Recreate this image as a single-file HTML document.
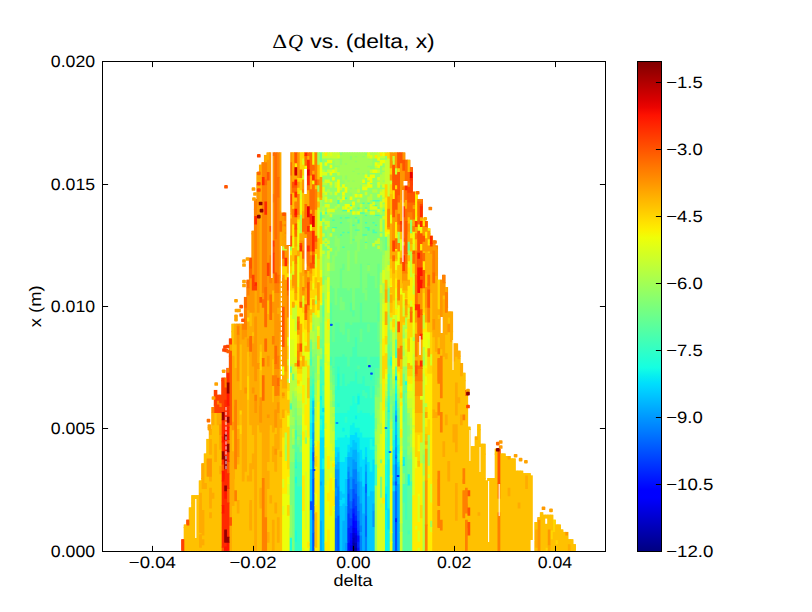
<!DOCTYPE html>
<html><head><meta charset="utf-8"><title>dQ vs (delta, x)</title>
<style>html,body{margin:0;padding:0;background:#fff;}svg{display:block;}</style></head>
<body>
<svg width="812" height="612" viewBox="0 0 812 612">
<rect width="812" height="612" fill="#fff"/>
<g shape-rendering="auto">
<rect x="181.18" y="539.26" width="3.56" height="11.54" fill="#ff4000"/>
<rect x="183.68" y="527.02" width="3.56" height="23.78" fill="#ffc100"/>
<rect x="183.68" y="524.57" width="3.56" height="3.50" fill="#ffc100"/>
<rect x="186.19" y="527.02" width="3.56" height="23.78" fill="#ffc100"/>
<rect x="186.19" y="519.67" width="3.56" height="8.40" fill="#ff5500"/>
<rect x="188.70" y="527.02" width="3.56" height="23.78" fill="#ffc100"/>
<rect x="188.70" y="507.43" width="3.56" height="20.64" fill="#ffc100"/>
<rect x="191.21" y="527.02" width="3.56" height="23.78" fill="#ffc100"/>
<rect x="191.21" y="502.54" width="3.56" height="25.53" fill="#ffc100"/>
<rect x="191.21" y="495.19" width="3.56" height="8.40" fill="#ffc100"/>
<rect x="193.72" y="527.02" width="3.56" height="23.78" fill="#ffc100"/>
<rect x="193.72" y="502.54" width="3.56" height="25.53" fill="#ffc100"/>
<rect x="193.72" y="495.19" width="3.56" height="8.40" fill="#ffc100"/>
<rect x="196.22" y="527.02" width="3.56" height="23.78" fill="#ffc100"/>
<rect x="196.22" y="502.54" width="3.56" height="25.53" fill="#ffc100"/>
<rect x="196.22" y="495.19" width="3.56" height="8.40" fill="#ffc100"/>
<rect x="198.73" y="527.02" width="3.56" height="23.78" fill="#ffab00"/>
<rect x="198.73" y="502.54" width="3.56" height="25.53" fill="#ffab00"/>
<rect x="198.73" y="480.51" width="3.56" height="23.08" fill="#ffc100"/>
<rect x="201.24" y="527.02" width="3.56" height="23.78" fill="#ffc100"/>
<rect x="201.24" y="502.54" width="3.56" height="25.53" fill="#ffab00"/>
<rect x="201.24" y="478.06" width="3.56" height="25.53" fill="#ffc100"/>
<rect x="201.24" y="463.37" width="3.56" height="15.74" fill="#ffab00"/>
<rect x="203.75" y="527.02" width="3.56" height="23.78" fill="#ffc100"/>
<rect x="203.75" y="502.54" width="3.56" height="25.53" fill="#ffc100"/>
<rect x="203.75" y="478.06" width="3.56" height="25.53" fill="#ffc100"/>
<rect x="203.75" y="453.58" width="3.56" height="25.53" fill="#ffc100"/>
<rect x="206.26" y="527.02" width="3.56" height="23.78" fill="#ffc100"/>
<rect x="206.26" y="502.54" width="3.56" height="25.53" fill="#ffc100"/>
<rect x="206.26" y="478.06" width="3.56" height="25.53" fill="#ffc100"/>
<rect x="206.26" y="453.58" width="3.56" height="25.53" fill="#ff9600"/>
<rect x="206.26" y="438.89" width="3.56" height="15.74" fill="#ffc100"/>
<rect x="208.76" y="527.02" width="3.56" height="23.78" fill="#ffc100"/>
<rect x="208.76" y="502.54" width="3.56" height="25.53" fill="#ffc100"/>
<rect x="208.76" y="478.06" width="3.56" height="25.53" fill="#ffab00"/>
<rect x="208.76" y="453.58" width="3.56" height="25.53" fill="#ff9600"/>
<rect x="208.76" y="429.10" width="3.56" height="25.53" fill="#ffab00"/>
<rect x="211.27" y="527.02" width="3.56" height="23.78" fill="#ffc100"/>
<rect x="211.27" y="502.54" width="3.56" height="25.53" fill="#ffc100"/>
<rect x="211.27" y="478.06" width="3.56" height="25.53" fill="#ffc100"/>
<rect x="211.27" y="453.58" width="3.56" height="25.53" fill="#ffc100"/>
<rect x="211.27" y="429.10" width="3.56" height="25.53" fill="#ffc100"/>
<rect x="211.27" y="407.07" width="3.56" height="23.08" fill="#ffab00"/>
<rect x="213.78" y="527.02" width="3.56" height="23.78" fill="#ffc100"/>
<rect x="213.78" y="502.54" width="3.56" height="25.53" fill="#ffc100"/>
<rect x="213.78" y="478.06" width="3.56" height="25.53" fill="#ffc100"/>
<rect x="213.78" y="453.58" width="3.56" height="25.53" fill="#ffc100"/>
<rect x="213.78" y="429.10" width="3.56" height="25.53" fill="#ffc100"/>
<rect x="213.78" y="404.62" width="3.56" height="25.53" fill="#ffc100"/>
<rect x="213.78" y="389.93" width="3.56" height="15.74" fill="#ff4000"/>
<rect x="216.29" y="527.02" width="3.56" height="23.78" fill="#ffc100"/>
<rect x="216.29" y="502.54" width="3.56" height="25.53" fill="#ffc100"/>
<rect x="216.29" y="478.06" width="3.56" height="25.53" fill="#ffc100"/>
<rect x="216.29" y="453.58" width="3.56" height="25.53" fill="#ffc100"/>
<rect x="216.29" y="429.10" width="3.56" height="25.53" fill="#ffc100"/>
<rect x="216.29" y="404.62" width="3.56" height="25.53" fill="#ffab00"/>
<rect x="216.29" y="394.83" width="3.56" height="10.84" fill="#ff6b00"/>
<rect x="218.80" y="527.02" width="3.56" height="23.78" fill="#ffc100"/>
<rect x="218.80" y="502.54" width="3.56" height="25.53" fill="#ffc100"/>
<rect x="218.80" y="478.06" width="3.56" height="25.53" fill="#ffc100"/>
<rect x="218.80" y="453.58" width="3.56" height="25.53" fill="#ffc100"/>
<rect x="218.80" y="429.10" width="3.56" height="25.53" fill="#ffab00"/>
<rect x="218.80" y="404.62" width="3.56" height="25.53" fill="#ffab00"/>
<rect x="218.80" y="394.83" width="3.56" height="10.84" fill="#ff4000"/>
<rect x="221.30" y="527.02" width="3.56" height="23.78" fill="#ff2a00"/>
<rect x="221.30" y="502.54" width="3.56" height="25.53" fill="#ff2a00"/>
<rect x="221.30" y="478.06" width="3.56" height="25.53" fill="#ff2a00"/>
<rect x="221.30" y="453.58" width="3.56" height="25.53" fill="#ff2a00"/>
<rect x="221.30" y="429.10" width="3.56" height="25.53" fill="#ff2a00"/>
<rect x="221.30" y="404.62" width="3.56" height="25.53" fill="#ff2a00"/>
<rect x="221.30" y="380.14" width="3.56" height="25.53" fill="#ff4000"/>
<rect x="221.30" y="377.69" width="3.56" height="3.50" fill="#ff4000"/>
<rect x="223.81" y="527.02" width="3.56" height="23.78" fill="#cd0000"/>
<rect x="223.81" y="502.54" width="3.56" height="25.53" fill="#ff2a00"/>
<rect x="223.81" y="478.06" width="3.56" height="25.53" fill="#ff2a00"/>
<rect x="223.81" y="453.58" width="3.56" height="25.53" fill="#e70000"/>
<rect x="223.81" y="429.10" width="3.56" height="25.53" fill="#ff1500"/>
<rect x="223.81" y="404.62" width="3.56" height="25.53" fill="#ff2a00"/>
<rect x="223.81" y="380.14" width="3.56" height="25.53" fill="#ff4000"/>
<rect x="223.81" y="377.69" width="3.56" height="3.50" fill="#ff8000"/>
<rect x="226.32" y="527.02" width="3.56" height="23.78" fill="#ff1500"/>
<rect x="226.32" y="502.54" width="3.56" height="25.53" fill="#ff2a00"/>
<rect x="226.32" y="478.06" width="3.56" height="25.53" fill="#ff5500"/>
<rect x="226.32" y="453.58" width="3.56" height="25.53" fill="#ff4000"/>
<rect x="226.32" y="429.10" width="3.56" height="25.53" fill="#ff1500"/>
<rect x="226.32" y="404.62" width="3.56" height="25.53" fill="#ff2a00"/>
<rect x="226.32" y="380.14" width="3.56" height="25.53" fill="#ff1500"/>
<rect x="226.32" y="367.90" width="3.56" height="13.29" fill="#ff2a00"/>
<rect x="228.83" y="527.02" width="3.56" height="23.78" fill="#ffab00"/>
<rect x="228.83" y="502.54" width="3.56" height="25.53" fill="#ffab00"/>
<rect x="228.83" y="478.06" width="3.56" height="25.53" fill="#ffab00"/>
<rect x="228.83" y="453.58" width="3.56" height="25.53" fill="#ffab00"/>
<rect x="228.83" y="429.10" width="3.56" height="25.53" fill="#ffab00"/>
<rect x="228.83" y="404.62" width="3.56" height="25.53" fill="#ff5500"/>
<rect x="228.83" y="380.14" width="3.56" height="25.53" fill="#ff5500"/>
<rect x="228.83" y="355.66" width="3.56" height="25.53" fill="#ff5500"/>
<rect x="228.83" y="338.52" width="3.56" height="18.19" fill="#ff5500"/>
<rect x="231.34" y="527.02" width="3.56" height="23.78" fill="#ffc100"/>
<rect x="231.34" y="502.54" width="3.56" height="25.53" fill="#ffc100"/>
<rect x="231.34" y="478.06" width="3.56" height="25.53" fill="#ffab00"/>
<rect x="231.34" y="453.58" width="3.56" height="25.53" fill="#ffab00"/>
<rect x="231.34" y="429.10" width="3.56" height="25.53" fill="#ffc100"/>
<rect x="231.34" y="404.62" width="3.56" height="25.53" fill="#ffab00"/>
<rect x="231.34" y="380.14" width="3.56" height="25.53" fill="#ffab00"/>
<rect x="231.34" y="355.66" width="3.56" height="25.53" fill="#ffab00"/>
<rect x="231.34" y="331.18" width="3.56" height="25.53" fill="#ffc100"/>
<rect x="231.34" y="323.83" width="3.56" height="8.40" fill="#ffc100"/>
<rect x="233.84" y="527.02" width="3.56" height="23.78" fill="#ffc100"/>
<rect x="233.84" y="502.54" width="3.56" height="25.53" fill="#ffc100"/>
<rect x="233.84" y="478.06" width="3.56" height="25.53" fill="#ffc100"/>
<rect x="233.84" y="453.58" width="3.56" height="25.53" fill="#ff8000"/>
<rect x="233.84" y="429.10" width="3.56" height="25.53" fill="#ff8000"/>
<rect x="233.84" y="404.62" width="3.56" height="25.53" fill="#ff8000"/>
<rect x="233.84" y="380.14" width="3.56" height="25.53" fill="#ffab00"/>
<rect x="233.84" y="355.66" width="3.56" height="25.53" fill="#ffab00"/>
<rect x="233.84" y="331.18" width="3.56" height="25.53" fill="#ffab00"/>
<rect x="233.84" y="323.83" width="3.56" height="8.40" fill="#ffab00"/>
<rect x="236.35" y="527.02" width="3.56" height="23.78" fill="#ffc100"/>
<rect x="236.35" y="502.54" width="3.56" height="25.53" fill="#ffc100"/>
<rect x="236.35" y="478.06" width="3.56" height="25.53" fill="#ffc100"/>
<rect x="236.35" y="453.58" width="3.56" height="25.53" fill="#ffc100"/>
<rect x="236.35" y="429.10" width="3.56" height="25.53" fill="#ff9600"/>
<rect x="236.35" y="404.62" width="3.56" height="25.53" fill="#ffab00"/>
<rect x="236.35" y="380.14" width="3.56" height="25.53" fill="#ffab00"/>
<rect x="236.35" y="355.66" width="3.56" height="25.53" fill="#ff9600"/>
<rect x="236.35" y="331.18" width="3.56" height="25.53" fill="#ff9600"/>
<rect x="236.35" y="323.83" width="3.56" height="8.40" fill="#ff8000"/>
<rect x="238.86" y="527.02" width="3.56" height="23.78" fill="#ffc100"/>
<rect x="238.86" y="502.54" width="3.56" height="25.53" fill="#ffc100"/>
<rect x="238.86" y="478.06" width="3.56" height="25.53" fill="#ffc100"/>
<rect x="238.86" y="453.58" width="3.56" height="25.53" fill="#ffc100"/>
<rect x="238.86" y="429.10" width="3.56" height="25.53" fill="#ffc100"/>
<rect x="238.86" y="404.62" width="3.56" height="25.53" fill="#ffc100"/>
<rect x="238.86" y="380.14" width="3.56" height="25.53" fill="#ffab00"/>
<rect x="238.86" y="355.66" width="3.56" height="25.53" fill="#ffc100"/>
<rect x="238.86" y="331.18" width="3.56" height="25.53" fill="#ffab00"/>
<rect x="238.86" y="323.83" width="3.56" height="8.40" fill="#ffab00"/>
<rect x="241.37" y="527.02" width="3.56" height="23.78" fill="#ffc100"/>
<rect x="241.37" y="502.54" width="3.56" height="25.53" fill="#ffc100"/>
<rect x="241.37" y="478.06" width="3.56" height="25.53" fill="#ffc100"/>
<rect x="241.37" y="453.58" width="3.56" height="25.53" fill="#ffab00"/>
<rect x="241.37" y="429.10" width="3.56" height="25.53" fill="#ffab00"/>
<rect x="241.37" y="404.62" width="3.56" height="25.53" fill="#ffab00"/>
<rect x="241.37" y="380.14" width="3.56" height="25.53" fill="#ffab00"/>
<rect x="241.37" y="355.66" width="3.56" height="25.53" fill="#ffab00"/>
<rect x="241.37" y="331.18" width="3.56" height="25.53" fill="#ffab00"/>
<rect x="241.37" y="323.83" width="3.56" height="8.40" fill="#ff8000"/>
<rect x="243.88" y="527.02" width="3.56" height="23.78" fill="#ffc100"/>
<rect x="243.88" y="502.54" width="3.56" height="25.53" fill="#ffc100"/>
<rect x="243.88" y="478.06" width="3.56" height="25.53" fill="#ffc100"/>
<rect x="243.88" y="453.58" width="3.56" height="25.53" fill="#ffab00"/>
<rect x="243.88" y="429.10" width="3.56" height="25.53" fill="#ffab00"/>
<rect x="243.88" y="404.62" width="3.56" height="25.53" fill="#ffab00"/>
<rect x="243.88" y="380.14" width="3.56" height="25.53" fill="#ffab00"/>
<rect x="243.88" y="355.66" width="3.56" height="25.53" fill="#ffab00"/>
<rect x="243.88" y="331.18" width="3.56" height="25.53" fill="#ffab00"/>
<rect x="243.88" y="306.70" width="3.56" height="25.53" fill="#ff8000"/>
<rect x="243.88" y="296.91" width="3.56" height="10.84" fill="#ff6b00"/>
<rect x="246.38" y="527.02" width="3.56" height="23.78" fill="#ffc100"/>
<rect x="246.38" y="502.54" width="3.56" height="25.53" fill="#ffc100"/>
<rect x="246.38" y="478.06" width="3.56" height="25.53" fill="#ffc100"/>
<rect x="246.38" y="453.58" width="3.56" height="25.53" fill="#ffc100"/>
<rect x="246.38" y="429.10" width="3.56" height="25.53" fill="#ffc100"/>
<rect x="246.38" y="404.62" width="3.56" height="25.53" fill="#ffc100"/>
<rect x="246.38" y="380.14" width="3.56" height="25.53" fill="#ffd600"/>
<rect x="246.38" y="355.66" width="3.56" height="25.53" fill="#ffc100"/>
<rect x="246.38" y="331.18" width="3.56" height="25.53" fill="#ffab00"/>
<rect x="246.38" y="306.70" width="3.56" height="25.53" fill="#ffab00"/>
<rect x="246.38" y="282.22" width="3.56" height="25.53" fill="#ff8000"/>
<rect x="246.38" y="279.77" width="3.56" height="3.50" fill="#ff6b00"/>
<rect x="248.89" y="527.02" width="3.56" height="23.78" fill="#ffc100"/>
<rect x="248.89" y="502.54" width="3.56" height="25.53" fill="#ffab00"/>
<rect x="248.89" y="478.06" width="3.56" height="25.53" fill="#ffc100"/>
<rect x="248.89" y="453.58" width="3.56" height="25.53" fill="#ffab00"/>
<rect x="248.89" y="429.10" width="3.56" height="25.53" fill="#ffc100"/>
<rect x="248.89" y="404.62" width="3.56" height="25.53" fill="#ffab00"/>
<rect x="248.89" y="380.14" width="3.56" height="25.53" fill="#ffab00"/>
<rect x="248.89" y="355.66" width="3.56" height="25.53" fill="#ffab00"/>
<rect x="248.89" y="331.18" width="3.56" height="25.53" fill="#ff6b00"/>
<rect x="248.89" y="306.70" width="3.56" height="25.53" fill="#ffc100"/>
<rect x="248.89" y="282.22" width="3.56" height="25.53" fill="#ff9600"/>
<rect x="248.89" y="257.74" width="3.56" height="25.53" fill="#ff6b00"/>
<rect x="251.40" y="527.02" width="3.56" height="23.78" fill="#ffc100"/>
<rect x="251.40" y="502.54" width="3.56" height="25.53" fill="#ffc100"/>
<rect x="251.40" y="478.06" width="3.56" height="25.53" fill="#ffc100"/>
<rect x="251.40" y="453.58" width="3.56" height="25.53" fill="#ffab00"/>
<rect x="251.40" y="429.10" width="3.56" height="25.53" fill="#ffc100"/>
<rect x="251.40" y="404.62" width="3.56" height="25.53" fill="#ffab00"/>
<rect x="251.40" y="380.14" width="3.56" height="25.53" fill="#ffab00"/>
<rect x="251.40" y="355.66" width="3.56" height="25.53" fill="#ffab00"/>
<rect x="251.40" y="331.18" width="3.56" height="25.53" fill="#ff9600"/>
<rect x="251.40" y="306.70" width="3.56" height="25.53" fill="#ffab00"/>
<rect x="251.40" y="282.22" width="3.56" height="25.53" fill="#ff9600"/>
<rect x="251.40" y="257.74" width="3.56" height="25.53" fill="#ff9600"/>
<rect x="251.40" y="233.26" width="3.56" height="25.53" fill="#ff9600"/>
<rect x="251.40" y="230.81" width="3.56" height="3.50" fill="#ff9600"/>
<rect x="253.91" y="527.02" width="3.56" height="23.78" fill="#ffab00"/>
<rect x="253.91" y="502.54" width="3.56" height="25.53" fill="#ffab00"/>
<rect x="253.91" y="478.06" width="3.56" height="25.53" fill="#ffab00"/>
<rect x="253.91" y="453.58" width="3.56" height="25.53" fill="#ffab00"/>
<rect x="253.91" y="429.10" width="3.56" height="25.53" fill="#ffab00"/>
<rect x="253.91" y="404.62" width="3.56" height="25.53" fill="#ffab00"/>
<rect x="253.91" y="380.14" width="3.56" height="25.53" fill="#ffab00"/>
<rect x="253.91" y="355.66" width="3.56" height="25.53" fill="#ff9600"/>
<rect x="253.91" y="331.18" width="3.56" height="25.53" fill="#ff9600"/>
<rect x="253.91" y="306.70" width="3.56" height="25.53" fill="#ff9600"/>
<rect x="253.91" y="282.22" width="3.56" height="25.53" fill="#ffab00"/>
<rect x="253.91" y="257.74" width="3.56" height="25.53" fill="#ff8000"/>
<rect x="253.91" y="233.26" width="3.56" height="25.53" fill="#ff8000"/>
<rect x="253.91" y="208.78" width="3.56" height="25.53" fill="#ff8000"/>
<rect x="253.91" y="198.99" width="3.56" height="10.84" fill="#ff8000"/>
<rect x="256.42" y="527.02" width="3.56" height="23.78" fill="#ffc100"/>
<rect x="256.42" y="502.54" width="3.56" height="25.53" fill="#ffc100"/>
<rect x="256.42" y="478.06" width="3.56" height="25.53" fill="#ffc100"/>
<rect x="256.42" y="453.58" width="3.56" height="25.53" fill="#ffc100"/>
<rect x="256.42" y="429.10" width="3.56" height="25.53" fill="#ffc100"/>
<rect x="256.42" y="404.62" width="3.56" height="25.53" fill="#ffab00"/>
<rect x="256.42" y="380.14" width="3.56" height="25.53" fill="#ffab00"/>
<rect x="256.42" y="355.66" width="3.56" height="25.53" fill="#ffab00"/>
<rect x="256.42" y="331.18" width="3.56" height="25.53" fill="#ffab00"/>
<rect x="256.42" y="306.70" width="3.56" height="25.53" fill="#ffab00"/>
<rect x="256.42" y="282.22" width="3.56" height="25.53" fill="#ff9600"/>
<rect x="256.42" y="257.74" width="3.56" height="25.53" fill="#ff9600"/>
<rect x="256.42" y="233.26" width="3.56" height="25.53" fill="#ff9600"/>
<rect x="256.42" y="208.78" width="3.56" height="25.53" fill="#ff9600"/>
<rect x="256.42" y="184.30" width="3.56" height="25.53" fill="#ff9600"/>
<rect x="256.42" y="172.06" width="3.56" height="13.29" fill="#ffab00"/>
<rect x="258.92" y="527.02" width="3.56" height="23.78" fill="#ffc100"/>
<rect x="258.92" y="502.54" width="3.56" height="25.53" fill="#ffc100"/>
<rect x="258.92" y="478.06" width="3.56" height="25.53" fill="#ffab00"/>
<rect x="258.92" y="453.58" width="3.56" height="25.53" fill="#ffc100"/>
<rect x="258.92" y="429.10" width="3.56" height="25.53" fill="#ffc100"/>
<rect x="258.92" y="404.62" width="3.56" height="25.53" fill="#ff9600"/>
<rect x="258.92" y="380.14" width="3.56" height="25.53" fill="#ffc100"/>
<rect x="258.92" y="355.66" width="3.56" height="25.53" fill="#ffd600"/>
<rect x="258.92" y="331.18" width="3.56" height="25.53" fill="#ffab00"/>
<rect x="258.92" y="306.70" width="3.56" height="25.53" fill="#ffab00"/>
<rect x="258.92" y="282.22" width="3.56" height="25.53" fill="#ffab00"/>
<rect x="258.92" y="257.74" width="3.56" height="25.53" fill="#ffab00"/>
<rect x="258.92" y="233.26" width="3.56" height="25.53" fill="#ffab00"/>
<rect x="258.92" y="208.78" width="3.56" height="25.53" fill="#ffab00"/>
<rect x="258.92" y="184.30" width="3.56" height="25.53" fill="#ffab00"/>
<rect x="258.92" y="164.71" width="3.56" height="20.64" fill="#ffab00"/>
<rect x="261.43" y="527.02" width="3.56" height="23.78" fill="#ff8000"/>
<rect x="261.43" y="502.54" width="3.56" height="25.53" fill="#ff8000"/>
<rect x="261.43" y="478.06" width="3.56" height="25.53" fill="#ff8000"/>
<rect x="261.43" y="453.58" width="3.56" height="25.53" fill="#ffab00"/>
<rect x="261.43" y="429.10" width="3.56" height="25.53" fill="#ffab00"/>
<rect x="261.43" y="404.62" width="3.56" height="25.53" fill="#ffab00"/>
<rect x="261.43" y="380.14" width="3.56" height="25.53" fill="#ff6b00"/>
<rect x="261.43" y="355.66" width="3.56" height="25.53" fill="#ff8000"/>
<rect x="261.43" y="331.18" width="3.56" height="25.53" fill="#ffab00"/>
<rect x="261.43" y="306.70" width="3.56" height="25.53" fill="#ffab00"/>
<rect x="261.43" y="282.22" width="3.56" height="25.53" fill="#ff8000"/>
<rect x="261.43" y="257.74" width="3.56" height="25.53" fill="#ff8000"/>
<rect x="261.43" y="233.26" width="3.56" height="25.53" fill="#ff8000"/>
<rect x="261.43" y="208.78" width="3.56" height="25.53" fill="#ff8000"/>
<rect x="261.43" y="184.30" width="3.56" height="25.53" fill="#ff8000"/>
<rect x="261.43" y="162.27" width="3.56" height="23.08" fill="#ff8000"/>
<rect x="263.94" y="527.02" width="3.56" height="23.78" fill="#ff8000"/>
<rect x="263.94" y="502.54" width="3.56" height="25.53" fill="#ffab00"/>
<rect x="263.94" y="478.06" width="3.56" height="25.53" fill="#ffab00"/>
<rect x="263.94" y="453.58" width="3.56" height="25.53" fill="#ffab00"/>
<rect x="263.94" y="429.10" width="3.56" height="25.53" fill="#ffab00"/>
<rect x="263.94" y="404.62" width="3.56" height="25.53" fill="#ffab00"/>
<rect x="263.94" y="380.14" width="3.56" height="25.53" fill="#ffab00"/>
<rect x="263.94" y="355.66" width="3.56" height="25.53" fill="#ffab00"/>
<rect x="263.94" y="331.18" width="3.56" height="25.53" fill="#ff8000"/>
<rect x="263.94" y="306.70" width="3.56" height="25.53" fill="#ff6b00"/>
<rect x="263.94" y="282.22" width="3.56" height="25.53" fill="#ff6b00"/>
<rect x="263.94" y="257.74" width="3.56" height="25.53" fill="#ff8000"/>
<rect x="263.94" y="233.26" width="3.56" height="25.53" fill="#ff8000"/>
<rect x="263.94" y="208.78" width="3.56" height="25.53" fill="#ff8000"/>
<rect x="263.94" y="184.30" width="3.56" height="25.53" fill="#ff8000"/>
<rect x="263.94" y="159.82" width="3.56" height="25.53" fill="#ff8000"/>
<rect x="263.94" y="154.92" width="3.56" height="5.95" fill="#ffab00"/>
<rect x="266.45" y="527.02" width="3.56" height="23.78" fill="#ffc100"/>
<rect x="266.45" y="502.54" width="3.56" height="25.53" fill="#ffc100"/>
<rect x="266.45" y="478.06" width="3.56" height="25.53" fill="#ffc100"/>
<rect x="266.45" y="453.58" width="3.56" height="25.53" fill="#ffab00"/>
<rect x="266.45" y="429.10" width="3.56" height="25.53" fill="#ffab00"/>
<rect x="266.45" y="404.62" width="3.56" height="25.53" fill="#ffab00"/>
<rect x="266.45" y="380.14" width="3.56" height="25.53" fill="#ffab00"/>
<rect x="266.45" y="355.66" width="3.56" height="25.53" fill="#ffab00"/>
<rect x="266.45" y="331.18" width="3.56" height="25.53" fill="#ffab00"/>
<rect x="266.45" y="306.70" width="3.56" height="25.53" fill="#ffab00"/>
<rect x="266.45" y="282.22" width="3.56" height="25.53" fill="#ff9600"/>
<rect x="266.45" y="257.74" width="3.56" height="25.53" fill="#ff6b00"/>
<rect x="266.45" y="233.26" width="3.56" height="25.53" fill="#ff9600"/>
<rect x="266.45" y="208.78" width="3.56" height="25.53" fill="#ff9600"/>
<rect x="266.45" y="184.30" width="3.56" height="25.53" fill="#ff9600"/>
<rect x="266.45" y="159.82" width="3.56" height="25.53" fill="#ff9600"/>
<rect x="266.45" y="152.47" width="3.56" height="8.40" fill="#ffab00"/>
<rect x="268.96" y="527.02" width="3.56" height="23.78" fill="#ffc100"/>
<rect x="268.96" y="502.54" width="3.56" height="25.53" fill="#ffc100"/>
<rect x="268.96" y="478.06" width="3.56" height="25.53" fill="#ffc100"/>
<rect x="268.96" y="453.58" width="3.56" height="25.53" fill="#ffc100"/>
<rect x="268.96" y="429.10" width="3.56" height="25.53" fill="#ffc100"/>
<rect x="268.96" y="404.62" width="3.56" height="25.53" fill="#ffab00"/>
<rect x="268.96" y="380.14" width="3.56" height="25.53" fill="#ffab00"/>
<rect x="268.96" y="355.66" width="3.56" height="25.53" fill="#ffab00"/>
<rect x="268.96" y="331.18" width="3.56" height="25.53" fill="#ffab00"/>
<rect x="268.96" y="306.70" width="3.56" height="25.53" fill="#ff8000"/>
<rect x="268.96" y="282.22" width="3.56" height="25.53" fill="#ff8000"/>
<rect x="268.96" y="257.74" width="3.56" height="25.53" fill="#ff8000"/>
<rect x="268.96" y="233.26" width="3.56" height="25.53" fill="#ff9600"/>
<rect x="268.96" y="208.78" width="3.56" height="25.53" fill="#ff9600"/>
<rect x="268.96" y="184.30" width="3.56" height="25.53" fill="#ff9600"/>
<rect x="268.96" y="159.82" width="3.56" height="25.53" fill="#ff9600"/>
<rect x="268.96" y="152.47" width="3.56" height="8.40" fill="#ff9600"/>
<rect x="271.46" y="527.02" width="3.56" height="23.78" fill="#ffab00"/>
<rect x="271.46" y="502.54" width="3.56" height="25.53" fill="#ffc100"/>
<rect x="271.46" y="478.06" width="3.56" height="25.53" fill="#ffc100"/>
<rect x="271.46" y="453.58" width="3.56" height="25.53" fill="#ffc100"/>
<rect x="271.46" y="429.10" width="3.56" height="25.53" fill="#ffc100"/>
<rect x="271.46" y="404.62" width="3.56" height="25.53" fill="#ffab00"/>
<rect x="271.46" y="380.14" width="3.56" height="25.53" fill="#ffc100"/>
<rect x="271.46" y="355.66" width="3.56" height="25.53" fill="#ffc100"/>
<rect x="271.46" y="331.18" width="3.56" height="25.53" fill="#ffab00"/>
<rect x="271.46" y="306.70" width="3.56" height="25.53" fill="#ffab00"/>
<rect x="271.46" y="282.22" width="3.56" height="25.53" fill="#ffab00"/>
<rect x="271.46" y="257.74" width="3.56" height="25.53" fill="#ff4000"/>
<rect x="271.46" y="233.26" width="3.56" height="25.53" fill="#ff5500"/>
<rect x="271.46" y="208.78" width="3.56" height="25.53" fill="#ff9600"/>
<rect x="271.46" y="184.30" width="3.56" height="25.53" fill="#ff9600"/>
<rect x="271.46" y="159.82" width="3.56" height="25.53" fill="#ff9600"/>
<rect x="271.46" y="152.47" width="3.56" height="8.40" fill="#ff9600"/>
<rect x="273.97" y="527.02" width="3.56" height="23.78" fill="#ffc100"/>
<rect x="273.97" y="502.54" width="3.56" height="25.53" fill="#ffc100"/>
<rect x="273.97" y="478.06" width="3.56" height="25.53" fill="#ffc100"/>
<rect x="273.97" y="453.58" width="3.56" height="25.53" fill="#ffab00"/>
<rect x="273.97" y="429.10" width="3.56" height="25.53" fill="#ffab00"/>
<rect x="273.97" y="404.62" width="3.56" height="25.53" fill="#ff9600"/>
<rect x="273.97" y="380.14" width="3.56" height="25.53" fill="#ff8000"/>
<rect x="273.97" y="355.66" width="3.56" height="25.53" fill="#ff8000"/>
<rect x="273.97" y="331.18" width="3.56" height="25.53" fill="#ff9600"/>
<rect x="273.97" y="306.70" width="3.56" height="25.53" fill="#ff9600"/>
<rect x="273.97" y="282.22" width="3.56" height="25.53" fill="#ff9600"/>
<rect x="273.97" y="257.74" width="3.56" height="25.53" fill="#ff8000"/>
<rect x="273.97" y="233.26" width="3.56" height="25.53" fill="#ff8000"/>
<rect x="273.97" y="208.78" width="3.56" height="25.53" fill="#ff6b00"/>
<rect x="273.97" y="184.30" width="3.56" height="25.53" fill="#ff6b00"/>
<rect x="273.97" y="159.82" width="3.56" height="25.53" fill="#ff6b00"/>
<rect x="273.97" y="152.47" width="3.56" height="8.40" fill="#ff6b00"/>
<rect x="276.48" y="527.02" width="3.56" height="23.78" fill="#ffab00"/>
<rect x="276.48" y="502.54" width="3.56" height="25.53" fill="#ffc100"/>
<rect x="276.48" y="478.06" width="3.56" height="25.53" fill="#ffc100"/>
<rect x="276.48" y="453.58" width="3.56" height="25.53" fill="#ffc100"/>
<rect x="276.48" y="429.10" width="3.56" height="25.53" fill="#ffab00"/>
<rect x="276.48" y="404.62" width="3.56" height="25.53" fill="#ffab00"/>
<rect x="276.48" y="380.14" width="3.56" height="25.53" fill="#ff8000"/>
<rect x="276.48" y="355.66" width="3.56" height="25.53" fill="#ff8000"/>
<rect x="276.48" y="331.18" width="3.56" height="25.53" fill="#ff9600"/>
<rect x="276.48" y="306.70" width="3.56" height="25.53" fill="#ff9600"/>
<rect x="276.48" y="282.22" width="3.56" height="25.53" fill="#ff9600"/>
<rect x="276.48" y="257.74" width="3.56" height="25.53" fill="#ff8000"/>
<rect x="276.48" y="233.26" width="3.56" height="25.53" fill="#ff8000"/>
<rect x="276.48" y="208.78" width="3.56" height="25.53" fill="#ff8000"/>
<rect x="276.48" y="184.30" width="3.56" height="25.53" fill="#ff6b00"/>
<rect x="276.48" y="159.82" width="3.56" height="25.53" fill="#ff8000"/>
<rect x="276.48" y="152.47" width="3.56" height="8.40" fill="#ff8000"/>
<rect x="278.99" y="527.02" width="3.56" height="23.78" fill="#ffc100"/>
<rect x="278.99" y="502.54" width="3.56" height="25.53" fill="#ffc100"/>
<rect x="278.99" y="478.06" width="3.56" height="25.53" fill="#ffc100"/>
<rect x="278.99" y="453.58" width="3.56" height="25.53" fill="#ffc100"/>
<rect x="278.99" y="429.10" width="3.56" height="25.53" fill="#ffc100"/>
<rect x="278.99" y="404.62" width="3.56" height="25.53" fill="#ffc100"/>
<rect x="278.99" y="380.14" width="3.56" height="25.53" fill="#ffc100"/>
<rect x="278.99" y="355.66" width="3.56" height="25.53" fill="#ffc100"/>
<rect x="278.99" y="331.18" width="3.56" height="25.53" fill="#ffab00"/>
<rect x="278.99" y="306.70" width="3.56" height="25.53" fill="#ffab00"/>
<rect x="278.99" y="282.22" width="3.56" height="25.53" fill="#ffab00"/>
<rect x="278.99" y="257.74" width="3.56" height="25.53" fill="#ffab00"/>
<rect x="278.99" y="233.26" width="3.56" height="25.53" fill="#ffab00"/>
<rect x="278.99" y="208.78" width="3.56" height="25.53" fill="#ff9600"/>
<rect x="278.99" y="184.30" width="3.56" height="25.53" fill="#ffab00"/>
<rect x="278.99" y="159.82" width="3.56" height="25.53" fill="#ffab00"/>
<rect x="278.99" y="152.47" width="3.56" height="8.40" fill="#ffab00"/>
<rect x="281.50" y="527.02" width="3.56" height="23.78" fill="#edff0a"/>
<rect x="281.50" y="502.54" width="3.56" height="25.53" fill="#edff0a"/>
<rect x="281.50" y="478.06" width="3.56" height="25.53" fill="#edff0a"/>
<rect x="281.50" y="453.58" width="3.56" height="25.53" fill="#ffec00"/>
<rect x="281.50" y="429.10" width="3.56" height="25.53" fill="#ffec00"/>
<rect x="281.50" y="404.62" width="3.56" height="25.53" fill="#ffd600"/>
<rect x="281.50" y="380.14" width="3.56" height="25.53" fill="#ffc100"/>
<rect x="281.50" y="355.66" width="3.56" height="25.53" fill="#ffab00"/>
<rect x="281.50" y="331.18" width="3.56" height="25.53" fill="#ff5500"/>
<rect x="281.50" y="306.70" width="3.56" height="25.53" fill="#ff5500"/>
<rect x="281.50" y="282.22" width="3.56" height="25.53" fill="#ff9600"/>
<rect x="281.50" y="257.74" width="3.56" height="25.53" fill="#ff9600"/>
<rect x="281.50" y="233.26" width="3.56" height="25.53" fill="#ffab00"/>
<rect x="281.50" y="208.78" width="3.56" height="25.53" fill="#ff9600"/>
<rect x="281.50" y="184.30" width="3.56" height="25.53" fill="#ffab00"/>
<rect x="281.50" y="159.82" width="3.56" height="25.53" fill="#ff8000"/>
<rect x="281.50" y="152.47" width="3.56" height="8.40" fill="#ffc100"/>
<rect x="284.00" y="527.02" width="3.56" height="23.78" fill="#edff0a"/>
<rect x="284.00" y="502.54" width="3.56" height="25.53" fill="#edff0a"/>
<rect x="284.00" y="478.06" width="3.56" height="25.53" fill="#ffec00"/>
<rect x="284.00" y="453.58" width="3.56" height="25.53" fill="#ffec00"/>
<rect x="284.00" y="429.10" width="3.56" height="25.53" fill="#b4ff42"/>
<rect x="284.00" y="404.62" width="3.56" height="25.53" fill="#ffd600"/>
<rect x="284.00" y="380.14" width="3.56" height="25.53" fill="#ffc100"/>
<rect x="284.00" y="355.66" width="3.56" height="25.53" fill="#ff9600"/>
<rect x="284.00" y="331.18" width="3.56" height="25.53" fill="#ff9600"/>
<rect x="284.00" y="306.70" width="3.56" height="25.53" fill="#ff9600"/>
<rect x="284.00" y="282.22" width="3.56" height="25.53" fill="#ff9600"/>
<rect x="284.00" y="257.74" width="3.56" height="25.53" fill="#ffd600"/>
<rect x="284.00" y="233.26" width="3.56" height="25.53" fill="#ff9600"/>
<rect x="284.00" y="208.78" width="3.56" height="25.53" fill="#ff8000"/>
<rect x="284.00" y="184.30" width="3.56" height="25.53" fill="#ff8000"/>
<rect x="284.00" y="159.82" width="3.56" height="25.53" fill="#ff9600"/>
<rect x="284.00" y="152.47" width="3.56" height="8.40" fill="#ff9600"/>
<rect x="286.51" y="527.02" width="3.56" height="23.78" fill="#edff0a"/>
<rect x="286.51" y="502.54" width="3.56" height="25.53" fill="#edff0a"/>
<rect x="286.51" y="478.06" width="3.56" height="25.53" fill="#edff0a"/>
<rect x="286.51" y="453.58" width="3.56" height="25.53" fill="#ffd600"/>
<rect x="286.51" y="429.10" width="3.56" height="25.53" fill="#ffd600"/>
<rect x="286.51" y="404.62" width="3.56" height="25.53" fill="#ffec00"/>
<rect x="286.51" y="380.14" width="3.56" height="25.53" fill="#ffec00"/>
<rect x="286.51" y="355.66" width="3.56" height="25.53" fill="#ffd600"/>
<rect x="286.51" y="331.18" width="3.56" height="25.53" fill="#ffd600"/>
<rect x="286.51" y="306.70" width="3.56" height="25.53" fill="#ffc100"/>
<rect x="286.51" y="282.22" width="3.56" height="25.53" fill="#ff6b00"/>
<rect x="286.51" y="257.74" width="3.56" height="25.53" fill="#ffab00"/>
<rect x="286.51" y="233.26" width="3.56" height="25.53" fill="#ff9600"/>
<rect x="286.51" y="208.78" width="3.56" height="25.53" fill="#ff9600"/>
<rect x="286.51" y="184.30" width="3.56" height="25.53" fill="#ffc100"/>
<rect x="286.51" y="159.82" width="3.56" height="25.53" fill="#ffab00"/>
<rect x="286.51" y="152.47" width="3.56" height="8.40" fill="#ff9600"/>
<rect x="289.02" y="527.02" width="3.56" height="23.78" fill="#1effd8"/>
<rect x="289.02" y="502.54" width="3.56" height="25.53" fill="#8fff68"/>
<rect x="289.02" y="478.06" width="3.56" height="25.53" fill="#7cff7b"/>
<rect x="289.02" y="453.58" width="3.56" height="25.53" fill="#7cff7b"/>
<rect x="289.02" y="429.10" width="3.56" height="25.53" fill="#8fff68"/>
<rect x="289.02" y="404.62" width="3.56" height="25.53" fill="#a2ff55"/>
<rect x="289.02" y="380.14" width="3.56" height="25.53" fill="#b4ff42"/>
<rect x="289.02" y="355.66" width="3.56" height="25.53" fill="#c7ff30"/>
<rect x="289.02" y="331.18" width="3.56" height="25.53" fill="#daff1d"/>
<rect x="289.02" y="306.70" width="3.56" height="25.53" fill="#edff0a"/>
<rect x="289.02" y="282.22" width="3.56" height="25.53" fill="#ffec00"/>
<rect x="289.02" y="257.74" width="3.56" height="25.53" fill="#ffd600"/>
<rect x="289.02" y="233.26" width="3.56" height="25.53" fill="#ffab00"/>
<rect x="289.02" y="208.78" width="3.56" height="25.53" fill="#ff9600"/>
<rect x="289.02" y="184.30" width="3.56" height="25.53" fill="#ff9600"/>
<rect x="289.02" y="159.82" width="3.56" height="25.53" fill="#ff8000"/>
<rect x="289.02" y="152.47" width="3.56" height="8.40" fill="#ff9600"/>
<rect x="291.53" y="527.02" width="3.56" height="23.78" fill="#7cff7b"/>
<rect x="291.53" y="502.54" width="3.56" height="25.53" fill="#7cff7b"/>
<rect x="291.53" y="478.06" width="3.56" height="25.53" fill="#7cff7b"/>
<rect x="291.53" y="453.58" width="3.56" height="25.53" fill="#7cff7b"/>
<rect x="291.53" y="429.10" width="3.56" height="25.53" fill="#a2ff55"/>
<rect x="291.53" y="404.62" width="3.56" height="25.53" fill="#8fff68"/>
<rect x="291.53" y="380.14" width="3.56" height="25.53" fill="#8fff68"/>
<rect x="291.53" y="355.66" width="3.56" height="25.53" fill="#c7ff30"/>
<rect x="291.53" y="331.18" width="3.56" height="25.53" fill="#daff1d"/>
<rect x="291.53" y="306.70" width="3.56" height="25.53" fill="#daff1d"/>
<rect x="291.53" y="282.22" width="3.56" height="25.53" fill="#ffd600"/>
<rect x="291.53" y="257.74" width="3.56" height="25.53" fill="#edff0a"/>
<rect x="291.53" y="233.26" width="3.56" height="25.53" fill="#ffec00"/>
<rect x="291.53" y="208.78" width="3.56" height="25.53" fill="#ff9600"/>
<rect x="291.53" y="184.30" width="3.56" height="25.53" fill="#ffc100"/>
<rect x="291.53" y="159.82" width="3.56" height="25.53" fill="#ffab00"/>
<rect x="291.53" y="152.47" width="3.56" height="8.40" fill="#ffab00"/>
<rect x="294.04" y="527.02" width="3.56" height="23.78" fill="#1effd8"/>
<rect x="294.04" y="502.54" width="3.56" height="25.53" fill="#31ffc6"/>
<rect x="294.04" y="478.06" width="3.56" height="25.53" fill="#31ffc6"/>
<rect x="294.04" y="453.58" width="3.56" height="25.53" fill="#31ffc6"/>
<rect x="294.04" y="429.10" width="3.56" height="25.53" fill="#57ffa0"/>
<rect x="294.04" y="404.62" width="3.56" height="25.53" fill="#7cff7b"/>
<rect x="294.04" y="380.14" width="3.56" height="25.53" fill="#b4ff42"/>
<rect x="294.04" y="355.66" width="3.56" height="25.53" fill="#daff1d"/>
<rect x="294.04" y="331.18" width="3.56" height="25.53" fill="#edff0a"/>
<rect x="294.04" y="306.70" width="3.56" height="25.53" fill="#c7ff30"/>
<rect x="294.04" y="282.22" width="3.56" height="25.53" fill="#ffab00"/>
<rect x="294.04" y="257.74" width="3.56" height="25.53" fill="#ff9600"/>
<rect x="294.04" y="233.26" width="3.56" height="25.53" fill="#ffab00"/>
<rect x="294.04" y="208.78" width="3.56" height="25.53" fill="#ff6b00"/>
<rect x="294.04" y="184.30" width="3.56" height="25.53" fill="#ff6b00"/>
<rect x="294.04" y="159.82" width="3.56" height="25.53" fill="#ff4000"/>
<rect x="294.04" y="152.47" width="3.56" height="8.40" fill="#ff5500"/>
<rect x="296.54" y="527.02" width="3.56" height="23.78" fill="#31ffc6"/>
<rect x="296.54" y="502.54" width="3.56" height="25.53" fill="#31ffc6"/>
<rect x="296.54" y="478.06" width="3.56" height="25.53" fill="#31ffc6"/>
<rect x="296.54" y="453.58" width="3.56" height="25.53" fill="#44ffb3"/>
<rect x="296.54" y="429.10" width="3.56" height="25.53" fill="#7cff7b"/>
<rect x="296.54" y="404.62" width="3.56" height="25.53" fill="#8fff68"/>
<rect x="296.54" y="380.14" width="3.56" height="25.53" fill="#daff1d"/>
<rect x="296.54" y="355.66" width="3.56" height="25.53" fill="#ffc100"/>
<rect x="296.54" y="331.18" width="3.56" height="25.53" fill="#ff9600"/>
<rect x="296.54" y="306.70" width="3.56" height="25.53" fill="#ff8000"/>
<rect x="296.54" y="282.22" width="3.56" height="25.53" fill="#ffec00"/>
<rect x="296.54" y="257.74" width="3.56" height="25.53" fill="#edff0a"/>
<rect x="296.54" y="233.26" width="3.56" height="25.53" fill="#edff0a"/>
<rect x="296.54" y="208.78" width="3.56" height="25.53" fill="#ffec00"/>
<rect x="296.54" y="184.30" width="3.56" height="25.53" fill="#ff8000"/>
<rect x="296.54" y="159.82" width="3.56" height="25.53" fill="#ff9600"/>
<rect x="296.54" y="152.47" width="3.56" height="8.40" fill="#ff9600"/>
<rect x="299.05" y="527.02" width="3.56" height="23.78" fill="#31ffc6"/>
<rect x="299.05" y="502.54" width="3.56" height="25.53" fill="#31ffc6"/>
<rect x="299.05" y="478.06" width="3.56" height="25.53" fill="#31ffc6"/>
<rect x="299.05" y="453.58" width="3.56" height="25.53" fill="#44ffb3"/>
<rect x="299.05" y="429.10" width="3.56" height="25.53" fill="#69ff8d"/>
<rect x="299.05" y="404.62" width="3.56" height="25.53" fill="#8fff68"/>
<rect x="299.05" y="380.14" width="3.56" height="25.53" fill="#daff1d"/>
<rect x="299.05" y="355.66" width="3.56" height="25.53" fill="#ffd600"/>
<rect x="299.05" y="331.18" width="3.56" height="25.53" fill="#ffab00"/>
<rect x="299.05" y="306.70" width="3.56" height="25.53" fill="#ffec00"/>
<rect x="299.05" y="282.22" width="3.56" height="25.53" fill="#ffab00"/>
<rect x="299.05" y="257.74" width="3.56" height="25.53" fill="#ffd600"/>
<rect x="299.05" y="233.26" width="3.56" height="25.53" fill="#ffab00"/>
<rect x="299.05" y="208.78" width="3.56" height="25.53" fill="#b4ff42"/>
<rect x="299.05" y="184.30" width="3.56" height="25.53" fill="#edff0a"/>
<rect x="299.05" y="159.82" width="3.56" height="25.53" fill="#ffd600"/>
<rect x="299.05" y="152.47" width="3.56" height="8.40" fill="#ffd600"/>
<rect x="301.56" y="527.02" width="3.56" height="23.78" fill="#edff0a"/>
<rect x="301.56" y="502.54" width="3.56" height="25.53" fill="#edff0a"/>
<rect x="301.56" y="478.06" width="3.56" height="25.53" fill="#ffec00"/>
<rect x="301.56" y="453.58" width="3.56" height="25.53" fill="#edff0a"/>
<rect x="301.56" y="429.10" width="3.56" height="25.53" fill="#edff0a"/>
<rect x="301.56" y="404.62" width="3.56" height="25.53" fill="#edff0a"/>
<rect x="301.56" y="380.14" width="3.56" height="25.53" fill="#ffec00"/>
<rect x="301.56" y="355.66" width="3.56" height="25.53" fill="#daff1d"/>
<rect x="301.56" y="331.18" width="3.56" height="25.53" fill="#edff0a"/>
<rect x="301.56" y="306.70" width="3.56" height="25.53" fill="#ffec00"/>
<rect x="301.56" y="282.22" width="3.56" height="25.53" fill="#ffec00"/>
<rect x="301.56" y="257.74" width="3.56" height="25.53" fill="#ffab00"/>
<rect x="301.56" y="233.26" width="3.56" height="25.53" fill="#ff9600"/>
<rect x="301.56" y="208.78" width="3.56" height="25.53" fill="#ff9600"/>
<rect x="301.56" y="184.30" width="3.56" height="25.53" fill="#ffc100"/>
<rect x="301.56" y="159.82" width="3.56" height="25.53" fill="#ffd600"/>
<rect x="301.56" y="152.47" width="3.56" height="8.40" fill="#ffd600"/>
<rect x="304.07" y="527.02" width="3.56" height="23.78" fill="#edff0a"/>
<rect x="304.07" y="502.54" width="3.56" height="25.53" fill="#daff1d"/>
<rect x="304.07" y="478.06" width="3.56" height="25.53" fill="#daff1d"/>
<rect x="304.07" y="453.58" width="3.56" height="25.53" fill="#edff0a"/>
<rect x="304.07" y="429.10" width="3.56" height="25.53" fill="#c7ff30"/>
<rect x="304.07" y="404.62" width="3.56" height="25.53" fill="#ffec00"/>
<rect x="304.07" y="380.14" width="3.56" height="25.53" fill="#daff1d"/>
<rect x="304.07" y="355.66" width="3.56" height="25.53" fill="#daff1d"/>
<rect x="304.07" y="331.18" width="3.56" height="25.53" fill="#ffec00"/>
<rect x="304.07" y="306.70" width="3.56" height="25.53" fill="#ff9600"/>
<rect x="304.07" y="282.22" width="3.56" height="25.53" fill="#ffab00"/>
<rect x="304.07" y="257.74" width="3.56" height="25.53" fill="#ff9600"/>
<rect x="304.07" y="233.26" width="3.56" height="25.53" fill="#ff6b00"/>
<rect x="304.07" y="208.78" width="3.56" height="25.53" fill="#ff6b00"/>
<rect x="304.07" y="184.30" width="3.56" height="25.53" fill="#ffab00"/>
<rect x="304.07" y="159.82" width="3.56" height="25.53" fill="#edff0a"/>
<rect x="304.07" y="152.47" width="3.56" height="8.40" fill="#ff6b00"/>
<rect x="306.58" y="527.02" width="3.56" height="23.78" fill="#edff0a"/>
<rect x="306.58" y="502.54" width="3.56" height="25.53" fill="#edff0a"/>
<rect x="306.58" y="478.06" width="3.56" height="25.53" fill="#edff0a"/>
<rect x="306.58" y="453.58" width="3.56" height="25.53" fill="#edff0a"/>
<rect x="306.58" y="429.10" width="3.56" height="25.53" fill="#edff0a"/>
<rect x="306.58" y="404.62" width="3.56" height="25.53" fill="#ffec00"/>
<rect x="306.58" y="380.14" width="3.56" height="25.53" fill="#ffc100"/>
<rect x="306.58" y="355.66" width="3.56" height="25.53" fill="#ffd600"/>
<rect x="306.58" y="331.18" width="3.56" height="25.53" fill="#ffc100"/>
<rect x="306.58" y="306.70" width="3.56" height="25.53" fill="#ffab00"/>
<rect x="306.58" y="282.22" width="3.56" height="25.53" fill="#ff5500"/>
<rect x="306.58" y="257.74" width="3.56" height="25.53" fill="#ff8000"/>
<rect x="306.58" y="233.26" width="3.56" height="25.53" fill="#ff6b00"/>
<rect x="306.58" y="208.78" width="3.56" height="25.53" fill="#ff4000"/>
<rect x="306.58" y="184.30" width="3.56" height="25.53" fill="#ffab00"/>
<rect x="306.58" y="159.82" width="3.56" height="25.53" fill="#ff2a00"/>
<rect x="306.58" y="152.47" width="3.56" height="8.40" fill="#ffab00"/>
<rect x="309.08" y="527.02" width="3.56" height="23.78" fill="#00c6ff"/>
<rect x="309.08" y="502.54" width="3.56" height="25.53" fill="#00c6ff"/>
<rect x="309.08" y="478.06" width="3.56" height="25.53" fill="#00c6ff"/>
<rect x="309.08" y="453.58" width="3.56" height="25.53" fill="#0cf4eb"/>
<rect x="309.08" y="429.10" width="3.56" height="25.53" fill="#0cf4eb"/>
<rect x="309.08" y="404.62" width="3.56" height="25.53" fill="#1effd8"/>
<rect x="309.08" y="380.14" width="3.56" height="25.53" fill="#44ffb3"/>
<rect x="309.08" y="355.66" width="3.56" height="25.53" fill="#57ffa0"/>
<rect x="309.08" y="331.18" width="3.56" height="25.53" fill="#69ff8d"/>
<rect x="309.08" y="306.70" width="3.56" height="25.53" fill="#ffec00"/>
<rect x="309.08" y="282.22" width="3.56" height="25.53" fill="#ffd600"/>
<rect x="309.08" y="257.74" width="3.56" height="25.53" fill="#ff9600"/>
<rect x="309.08" y="233.26" width="3.56" height="25.53" fill="#ff6b00"/>
<rect x="309.08" y="208.78" width="3.56" height="25.53" fill="#ff9600"/>
<rect x="309.08" y="184.30" width="3.56" height="25.53" fill="#ff6b00"/>
<rect x="309.08" y="159.82" width="3.56" height="25.53" fill="#ff6b00"/>
<rect x="309.08" y="152.47" width="3.56" height="8.40" fill="#ff6b00"/>
<rect x="311.59" y="527.02" width="3.56" height="23.78" fill="#0052ff"/>
<rect x="311.59" y="502.54" width="3.56" height="25.53" fill="#0052ff"/>
<rect x="311.59" y="478.06" width="3.56" height="25.53" fill="#0052ff"/>
<rect x="311.59" y="453.58" width="3.56" height="25.53" fill="#0069ff"/>
<rect x="311.59" y="429.10" width="3.56" height="25.53" fill="#0097ff"/>
<rect x="311.59" y="404.62" width="3.56" height="25.53" fill="#00aeff"/>
<rect x="311.59" y="380.14" width="3.56" height="25.53" fill="#1effd8"/>
<rect x="311.59" y="355.66" width="3.56" height="25.53" fill="#69ff8d"/>
<rect x="311.59" y="331.18" width="3.56" height="25.53" fill="#a2ff55"/>
<rect x="311.59" y="306.70" width="3.56" height="25.53" fill="#a2ff55"/>
<rect x="311.59" y="282.22" width="3.56" height="25.53" fill="#ffd600"/>
<rect x="311.59" y="257.74" width="3.56" height="25.53" fill="#ffd600"/>
<rect x="311.59" y="233.26" width="3.56" height="25.53" fill="#ff2a00"/>
<rect x="311.59" y="208.78" width="3.56" height="25.53" fill="#ff4000"/>
<rect x="311.59" y="184.30" width="3.56" height="25.53" fill="#ff6b00"/>
<rect x="311.59" y="159.82" width="3.56" height="25.53" fill="#ffab00"/>
<rect x="311.59" y="152.47" width="3.56" height="8.40" fill="#edff0a"/>
<rect x="314.10" y="527.02" width="3.56" height="23.78" fill="#ffc100"/>
<rect x="314.10" y="502.54" width="3.56" height="25.53" fill="#ffc100"/>
<rect x="314.10" y="478.06" width="3.56" height="25.53" fill="#ffec00"/>
<rect x="314.10" y="453.58" width="3.56" height="25.53" fill="#ffec00"/>
<rect x="314.10" y="429.10" width="3.56" height="25.53" fill="#edff0a"/>
<rect x="314.10" y="404.62" width="3.56" height="25.53" fill="#c7ff30"/>
<rect x="314.10" y="380.14" width="3.56" height="25.53" fill="#a2ff55"/>
<rect x="314.10" y="355.66" width="3.56" height="25.53" fill="#7cff7b"/>
<rect x="314.10" y="331.18" width="3.56" height="25.53" fill="#8fff68"/>
<rect x="314.10" y="306.70" width="3.56" height="25.53" fill="#b4ff42"/>
<rect x="314.10" y="282.22" width="3.56" height="25.53" fill="#ffd600"/>
<rect x="314.10" y="257.74" width="3.56" height="25.53" fill="#ffec00"/>
<rect x="314.10" y="233.26" width="3.56" height="25.53" fill="#ffab00"/>
<rect x="314.10" y="208.78" width="3.56" height="25.53" fill="#ffc100"/>
<rect x="314.10" y="184.30" width="3.56" height="25.53" fill="#ff8000"/>
<rect x="314.10" y="159.82" width="3.56" height="25.53" fill="#ff8000"/>
<rect x="314.10" y="152.47" width="3.56" height="8.40" fill="#ff8000"/>
<rect x="316.61" y="527.02" width="3.56" height="23.78" fill="#ffec00"/>
<rect x="316.61" y="502.54" width="3.56" height="25.53" fill="#ffec00"/>
<rect x="316.61" y="478.06" width="3.56" height="25.53" fill="#ffec00"/>
<rect x="316.61" y="453.58" width="3.56" height="25.53" fill="#ffec00"/>
<rect x="316.61" y="429.10" width="3.56" height="25.53" fill="#edff0a"/>
<rect x="316.61" y="404.62" width="3.56" height="25.53" fill="#edff0a"/>
<rect x="316.61" y="380.14" width="3.56" height="25.53" fill="#daff1d"/>
<rect x="316.61" y="355.66" width="3.56" height="25.53" fill="#c7ff30"/>
<rect x="316.61" y="331.18" width="3.56" height="25.53" fill="#edff0a"/>
<rect x="316.61" y="306.70" width="3.56" height="25.53" fill="#daff1d"/>
<rect x="316.61" y="282.22" width="3.56" height="25.53" fill="#ffab00"/>
<rect x="316.61" y="257.74" width="3.56" height="25.53" fill="#ffd600"/>
<rect x="316.61" y="233.26" width="3.56" height="25.53" fill="#ffc100"/>
<rect x="316.61" y="208.78" width="3.56" height="25.53" fill="#daff1d"/>
<rect x="316.61" y="184.30" width="3.56" height="25.53" fill="#daff1d"/>
<rect x="316.61" y="159.82" width="3.56" height="25.53" fill="#ffc100"/>
<rect x="316.61" y="152.47" width="3.56" height="8.40" fill="#a2ff55"/>
<rect x="319.12" y="527.02" width="3.56" height="23.78" fill="#00aeff"/>
<rect x="319.12" y="502.54" width="3.56" height="25.53" fill="#00c6ff"/>
<rect x="319.12" y="478.06" width="3.56" height="25.53" fill="#00c6ff"/>
<rect x="319.12" y="453.58" width="3.56" height="25.53" fill="#00ddfe"/>
<rect x="319.12" y="429.10" width="3.56" height="25.53" fill="#00ddfe"/>
<rect x="319.12" y="404.62" width="3.56" height="25.53" fill="#1effd8"/>
<rect x="319.12" y="380.14" width="3.56" height="25.53" fill="#31ffc6"/>
<rect x="319.12" y="355.66" width="3.56" height="25.53" fill="#44ffb3"/>
<rect x="319.12" y="331.18" width="3.56" height="25.53" fill="#7cff7b"/>
<rect x="319.12" y="306.70" width="3.56" height="25.53" fill="#8fff68"/>
<rect x="319.12" y="282.22" width="3.56" height="25.53" fill="#ffec00"/>
<rect x="319.12" y="257.74" width="3.56" height="25.53" fill="#daff1d"/>
<rect x="319.12" y="233.26" width="3.56" height="25.53" fill="#daff1d"/>
<rect x="319.12" y="208.78" width="3.56" height="25.53" fill="#c7ff30"/>
<rect x="319.12" y="184.30" width="3.56" height="25.53" fill="#ff9600"/>
<rect x="319.12" y="159.82" width="3.56" height="25.53" fill="#edff0a"/>
<rect x="319.12" y="152.47" width="3.56" height="8.40" fill="#69ff8d"/>
<rect x="321.62" y="527.02" width="3.56" height="23.78" fill="#00c6ff"/>
<rect x="321.62" y="502.54" width="3.56" height="25.53" fill="#00c6ff"/>
<rect x="321.62" y="478.06" width="3.56" height="25.53" fill="#00c6ff"/>
<rect x="321.62" y="453.58" width="3.56" height="25.53" fill="#00ddfe"/>
<rect x="321.62" y="429.10" width="3.56" height="25.53" fill="#00ddfe"/>
<rect x="321.62" y="404.62" width="3.56" height="25.53" fill="#0cf4eb"/>
<rect x="321.62" y="380.14" width="3.56" height="25.53" fill="#44ffb3"/>
<rect x="321.62" y="355.66" width="3.56" height="25.53" fill="#57ffa0"/>
<rect x="321.62" y="331.18" width="3.56" height="25.53" fill="#69ff8d"/>
<rect x="321.62" y="306.70" width="3.56" height="25.53" fill="#69ff8d"/>
<rect x="321.62" y="282.22" width="3.56" height="25.53" fill="#7cff7b"/>
<rect x="321.62" y="257.74" width="3.56" height="25.53" fill="#8fff68"/>
<rect x="321.62" y="233.26" width="3.56" height="25.53" fill="#8fff68"/>
<rect x="321.62" y="208.78" width="3.56" height="25.53" fill="#7cff7b"/>
<rect x="321.62" y="184.30" width="3.56" height="25.53" fill="#b4ff42"/>
<rect x="321.62" y="159.82" width="3.56" height="25.53" fill="#8fff68"/>
<rect x="321.62" y="152.47" width="3.56" height="8.40" fill="#c7ff30"/>
<rect x="324.13" y="527.02" width="3.56" height="23.78" fill="#edff0a"/>
<rect x="324.13" y="502.54" width="3.56" height="25.53" fill="#edff0a"/>
<rect x="324.13" y="478.06" width="3.56" height="25.53" fill="#edff0a"/>
<rect x="324.13" y="453.58" width="3.56" height="25.53" fill="#daff1d"/>
<rect x="324.13" y="429.10" width="3.56" height="25.53" fill="#edff0a"/>
<rect x="324.13" y="404.62" width="3.56" height="25.53" fill="#edff0a"/>
<rect x="324.13" y="380.14" width="3.56" height="25.53" fill="#edff0a"/>
<rect x="324.13" y="355.66" width="3.56" height="25.53" fill="#edff0a"/>
<rect x="324.13" y="331.18" width="3.56" height="25.53" fill="#daff1d"/>
<rect x="324.13" y="306.70" width="3.56" height="25.53" fill="#c7ff30"/>
<rect x="324.13" y="282.22" width="3.56" height="25.53" fill="#b4ff42"/>
<rect x="324.13" y="257.74" width="3.56" height="25.53" fill="#a2ff55"/>
<rect x="324.13" y="233.26" width="3.56" height="25.53" fill="#8fff68"/>
<rect x="324.13" y="208.78" width="3.56" height="25.53" fill="#8fff68"/>
<rect x="324.13" y="184.30" width="3.56" height="25.53" fill="#8fff68"/>
<rect x="324.13" y="159.82" width="3.56" height="25.53" fill="#8fff68"/>
<rect x="324.13" y="152.47" width="3.56" height="8.40" fill="#c7ff30"/>
<rect x="326.64" y="527.02" width="3.56" height="23.78" fill="#ffec00"/>
<rect x="326.64" y="502.54" width="3.56" height="25.53" fill="#edff0a"/>
<rect x="326.64" y="478.06" width="3.56" height="25.53" fill="#edff0a"/>
<rect x="326.64" y="453.58" width="3.56" height="25.53" fill="#ffec00"/>
<rect x="326.64" y="429.10" width="3.56" height="25.53" fill="#edff0a"/>
<rect x="326.64" y="404.62" width="3.56" height="25.53" fill="#edff0a"/>
<rect x="326.64" y="380.14" width="3.56" height="25.53" fill="#edff0a"/>
<rect x="326.64" y="355.66" width="3.56" height="25.53" fill="#edff0a"/>
<rect x="326.64" y="331.18" width="3.56" height="25.53" fill="#daff1d"/>
<rect x="326.64" y="306.70" width="3.56" height="25.53" fill="#edff0a"/>
<rect x="326.64" y="282.22" width="3.56" height="25.53" fill="#edff0a"/>
<rect x="326.64" y="257.74" width="3.56" height="25.53" fill="#b4ff42"/>
<rect x="326.64" y="233.26" width="3.56" height="25.53" fill="#a2ff55"/>
<rect x="326.64" y="208.78" width="3.56" height="25.53" fill="#8fff68"/>
<rect x="326.64" y="184.30" width="3.56" height="25.53" fill="#8fff68"/>
<rect x="326.64" y="159.82" width="3.56" height="25.53" fill="#8fff68"/>
<rect x="326.64" y="152.47" width="3.56" height="8.40" fill="#c7ff30"/>
<rect x="329.15" y="527.02" width="3.56" height="23.78" fill="#edff0a"/>
<rect x="329.15" y="502.54" width="3.56" height="25.53" fill="#ffec00"/>
<rect x="329.15" y="478.06" width="3.56" height="25.53" fill="#ffec00"/>
<rect x="329.15" y="453.58" width="3.56" height="25.53" fill="#daff1d"/>
<rect x="329.15" y="429.10" width="3.56" height="25.53" fill="#c7ff30"/>
<rect x="329.15" y="404.62" width="3.56" height="25.53" fill="#b4ff42"/>
<rect x="329.15" y="380.14" width="3.56" height="25.53" fill="#a2ff55"/>
<rect x="329.15" y="355.66" width="3.56" height="25.53" fill="#69ff8d"/>
<rect x="329.15" y="331.18" width="3.56" height="25.53" fill="#57ffa0"/>
<rect x="329.15" y="306.70" width="3.56" height="25.53" fill="#57ffa0"/>
<rect x="329.15" y="282.22" width="3.56" height="25.53" fill="#69ff8d"/>
<rect x="329.15" y="257.74" width="3.56" height="25.53" fill="#7cff7b"/>
<rect x="329.15" y="233.26" width="3.56" height="25.53" fill="#7cff7b"/>
<rect x="329.15" y="208.78" width="3.56" height="25.53" fill="#7cff7b"/>
<rect x="329.15" y="184.30" width="3.56" height="25.53" fill="#8fff68"/>
<rect x="329.15" y="159.82" width="3.56" height="25.53" fill="#a2ff55"/>
<rect x="329.15" y="152.47" width="3.56" height="8.40" fill="#c7ff30"/>
<rect x="331.66" y="527.02" width="3.56" height="23.78" fill="#edff0a"/>
<rect x="331.66" y="502.54" width="3.56" height="25.53" fill="#edff0a"/>
<rect x="331.66" y="478.06" width="3.56" height="25.53" fill="#edff0a"/>
<rect x="331.66" y="453.58" width="3.56" height="25.53" fill="#daff1d"/>
<rect x="331.66" y="429.10" width="3.56" height="25.53" fill="#c7ff30"/>
<rect x="331.66" y="404.62" width="3.56" height="25.53" fill="#b4ff42"/>
<rect x="331.66" y="380.14" width="3.56" height="25.53" fill="#7cff7b"/>
<rect x="331.66" y="355.66" width="3.56" height="25.53" fill="#57ffa0"/>
<rect x="331.66" y="331.18" width="3.56" height="25.53" fill="#57ffa0"/>
<rect x="331.66" y="306.70" width="3.56" height="25.53" fill="#69ff8d"/>
<rect x="331.66" y="282.22" width="3.56" height="25.53" fill="#69ff8d"/>
<rect x="331.66" y="257.74" width="3.56" height="25.53" fill="#8fff68"/>
<rect x="331.66" y="233.26" width="3.56" height="25.53" fill="#7cff7b"/>
<rect x="331.66" y="208.78" width="3.56" height="25.53" fill="#7cff7b"/>
<rect x="331.66" y="184.30" width="3.56" height="25.53" fill="#8fff68"/>
<rect x="331.66" y="159.82" width="3.56" height="25.53" fill="#8fff68"/>
<rect x="331.66" y="152.47" width="3.56" height="8.40" fill="#c7ff30"/>
<rect x="334.16" y="527.02" width="3.56" height="23.78" fill="#0069ff"/>
<rect x="334.16" y="502.54" width="3.56" height="25.53" fill="#0080ff"/>
<rect x="334.16" y="478.06" width="3.56" height="25.53" fill="#0080ff"/>
<rect x="334.16" y="453.58" width="3.56" height="25.53" fill="#00aeff"/>
<rect x="334.16" y="429.10" width="3.56" height="25.53" fill="#0cf4eb"/>
<rect x="334.16" y="404.62" width="3.56" height="25.53" fill="#1effd8"/>
<rect x="334.16" y="380.14" width="3.56" height="25.53" fill="#31ffc6"/>
<rect x="334.16" y="355.66" width="3.56" height="25.53" fill="#44ffb3"/>
<rect x="334.16" y="331.18" width="3.56" height="25.53" fill="#57ffa0"/>
<rect x="334.16" y="306.70" width="3.56" height="25.53" fill="#69ff8d"/>
<rect x="334.16" y="282.22" width="3.56" height="25.53" fill="#7cff7b"/>
<rect x="334.16" y="257.74" width="3.56" height="25.53" fill="#7cff7b"/>
<rect x="334.16" y="233.26" width="3.56" height="25.53" fill="#8fff68"/>
<rect x="334.16" y="208.78" width="3.56" height="25.53" fill="#7cff7b"/>
<rect x="334.16" y="184.30" width="3.56" height="25.53" fill="#8fff68"/>
<rect x="334.16" y="159.82" width="3.56" height="25.53" fill="#a2ff55"/>
<rect x="334.16" y="152.47" width="3.56" height="8.40" fill="#c7ff30"/>
<rect x="336.67" y="527.02" width="3.56" height="23.78" fill="#0052ff"/>
<rect x="336.67" y="502.54" width="3.56" height="25.53" fill="#0069ff"/>
<rect x="336.67" y="478.06" width="3.56" height="25.53" fill="#0080ff"/>
<rect x="336.67" y="453.58" width="3.56" height="25.53" fill="#00aeff"/>
<rect x="336.67" y="429.10" width="3.56" height="25.53" fill="#0cf4eb"/>
<rect x="336.67" y="404.62" width="3.56" height="25.53" fill="#1effd8"/>
<rect x="336.67" y="380.14" width="3.56" height="25.53" fill="#1effd8"/>
<rect x="336.67" y="355.66" width="3.56" height="25.53" fill="#31ffc6"/>
<rect x="336.67" y="331.18" width="3.56" height="25.53" fill="#57ffa0"/>
<rect x="336.67" y="306.70" width="3.56" height="25.53" fill="#69ff8d"/>
<rect x="336.67" y="282.22" width="3.56" height="25.53" fill="#69ff8d"/>
<rect x="336.67" y="257.74" width="3.56" height="25.53" fill="#7cff7b"/>
<rect x="336.67" y="233.26" width="3.56" height="25.53" fill="#8fff68"/>
<rect x="336.67" y="208.78" width="3.56" height="25.53" fill="#7cff7b"/>
<rect x="336.67" y="184.30" width="3.56" height="25.53" fill="#a2ff55"/>
<rect x="336.67" y="159.82" width="3.56" height="25.53" fill="#a2ff55"/>
<rect x="336.67" y="152.47" width="3.56" height="8.40" fill="#c7ff30"/>
<rect x="339.18" y="527.02" width="3.56" height="23.78" fill="#00c6ff"/>
<rect x="339.18" y="502.54" width="3.56" height="25.53" fill="#00c6ff"/>
<rect x="339.18" y="478.06" width="3.56" height="25.53" fill="#00ddfe"/>
<rect x="339.18" y="453.58" width="3.56" height="25.53" fill="#00ddfe"/>
<rect x="339.18" y="429.10" width="3.56" height="25.53" fill="#0cf4eb"/>
<rect x="339.18" y="404.62" width="3.56" height="25.53" fill="#1effd8"/>
<rect x="339.18" y="380.14" width="3.56" height="25.53" fill="#31ffc6"/>
<rect x="339.18" y="355.66" width="3.56" height="25.53" fill="#44ffb3"/>
<rect x="339.18" y="331.18" width="3.56" height="25.53" fill="#57ffa0"/>
<rect x="339.18" y="306.70" width="3.56" height="25.53" fill="#69ff8d"/>
<rect x="339.18" y="282.22" width="3.56" height="25.53" fill="#69ff8d"/>
<rect x="339.18" y="257.74" width="3.56" height="25.53" fill="#69ff8d"/>
<rect x="339.18" y="233.26" width="3.56" height="25.53" fill="#7cff7b"/>
<rect x="339.18" y="208.78" width="3.56" height="25.53" fill="#7cff7b"/>
<rect x="339.18" y="184.30" width="3.56" height="25.53" fill="#8fff68"/>
<rect x="339.18" y="159.82" width="3.56" height="25.53" fill="#8fff68"/>
<rect x="339.18" y="152.47" width="3.56" height="8.40" fill="#8fff68"/>
<rect x="341.69" y="527.02" width="3.56" height="23.78" fill="#00aeff"/>
<rect x="341.69" y="502.54" width="3.56" height="25.53" fill="#00c6ff"/>
<rect x="341.69" y="478.06" width="3.56" height="25.53" fill="#00ddfe"/>
<rect x="341.69" y="453.58" width="3.56" height="25.53" fill="#00ddfe"/>
<rect x="341.69" y="429.10" width="3.56" height="25.53" fill="#0cf4eb"/>
<rect x="341.69" y="404.62" width="3.56" height="25.53" fill="#1effd8"/>
<rect x="341.69" y="380.14" width="3.56" height="25.53" fill="#31ffc6"/>
<rect x="341.69" y="355.66" width="3.56" height="25.53" fill="#44ffb3"/>
<rect x="341.69" y="331.18" width="3.56" height="25.53" fill="#57ffa0"/>
<rect x="341.69" y="306.70" width="3.56" height="25.53" fill="#69ff8d"/>
<rect x="341.69" y="282.22" width="3.56" height="25.53" fill="#69ff8d"/>
<rect x="341.69" y="257.74" width="3.56" height="25.53" fill="#7cff7b"/>
<rect x="341.69" y="233.26" width="3.56" height="25.53" fill="#7cff7b"/>
<rect x="341.69" y="208.78" width="3.56" height="25.53" fill="#7cff7b"/>
<rect x="341.69" y="184.30" width="3.56" height="25.53" fill="#a2ff55"/>
<rect x="341.69" y="159.82" width="3.56" height="25.53" fill="#a2ff55"/>
<rect x="341.69" y="152.47" width="3.56" height="8.40" fill="#a2ff55"/>
<rect x="344.20" y="527.02" width="3.56" height="23.78" fill="#00aeff"/>
<rect x="344.20" y="502.54" width="3.56" height="25.53" fill="#00aeff"/>
<rect x="344.20" y="478.06" width="3.56" height="25.53" fill="#00c6ff"/>
<rect x="344.20" y="453.58" width="3.56" height="25.53" fill="#00ddfe"/>
<rect x="344.20" y="429.10" width="3.56" height="25.53" fill="#0cf4eb"/>
<rect x="344.20" y="404.62" width="3.56" height="25.53" fill="#1effd8"/>
<rect x="344.20" y="380.14" width="3.56" height="25.53" fill="#31ffc6"/>
<rect x="344.20" y="355.66" width="3.56" height="25.53" fill="#44ffb3"/>
<rect x="344.20" y="331.18" width="3.56" height="25.53" fill="#57ffa0"/>
<rect x="344.20" y="306.70" width="3.56" height="25.53" fill="#69ff8d"/>
<rect x="344.20" y="282.22" width="3.56" height="25.53" fill="#69ff8d"/>
<rect x="344.20" y="257.74" width="3.56" height="25.53" fill="#7cff7b"/>
<rect x="344.20" y="233.26" width="3.56" height="25.53" fill="#7cff7b"/>
<rect x="344.20" y="208.78" width="3.56" height="25.53" fill="#7cff7b"/>
<rect x="344.20" y="184.30" width="3.56" height="25.53" fill="#8fff68"/>
<rect x="344.20" y="159.82" width="3.56" height="25.53" fill="#a2ff55"/>
<rect x="344.20" y="152.47" width="3.56" height="8.40" fill="#a2ff55"/>
<rect x="346.70" y="527.02" width="3.56" height="23.78" fill="#0023ff"/>
<rect x="346.70" y="502.54" width="3.56" height="25.53" fill="#003aff"/>
<rect x="346.70" y="478.06" width="3.56" height="25.53" fill="#0069ff"/>
<rect x="346.70" y="453.58" width="3.56" height="25.53" fill="#0097ff"/>
<rect x="346.70" y="429.10" width="3.56" height="25.53" fill="#0cf4eb"/>
<rect x="346.70" y="404.62" width="3.56" height="25.53" fill="#1effd8"/>
<rect x="346.70" y="380.14" width="3.56" height="25.53" fill="#31ffc6"/>
<rect x="346.70" y="355.66" width="3.56" height="25.53" fill="#44ffb3"/>
<rect x="346.70" y="331.18" width="3.56" height="25.53" fill="#57ffa0"/>
<rect x="346.70" y="306.70" width="3.56" height="25.53" fill="#69ff8d"/>
<rect x="346.70" y="282.22" width="3.56" height="25.53" fill="#69ff8d"/>
<rect x="346.70" y="257.74" width="3.56" height="25.53" fill="#7cff7b"/>
<rect x="346.70" y="233.26" width="3.56" height="25.53" fill="#7cff7b"/>
<rect x="346.70" y="208.78" width="3.56" height="25.53" fill="#7cff7b"/>
<rect x="346.70" y="184.30" width="3.56" height="25.53" fill="#8fff68"/>
<rect x="346.70" y="159.82" width="3.56" height="25.53" fill="#a2ff55"/>
<rect x="346.70" y="152.47" width="3.56" height="8.40" fill="#a2ff55"/>
<rect x="349.21" y="527.02" width="3.56" height="23.78" fill="#0000ff"/>
<rect x="349.21" y="502.54" width="3.56" height="25.53" fill="#0052ff"/>
<rect x="349.21" y="478.06" width="3.56" height="25.53" fill="#0080ff"/>
<rect x="349.21" y="453.58" width="3.56" height="25.53" fill="#00aeff"/>
<rect x="349.21" y="429.10" width="3.56" height="25.53" fill="#00ddfe"/>
<rect x="349.21" y="404.62" width="3.56" height="25.53" fill="#1effd8"/>
<rect x="349.21" y="380.14" width="3.56" height="25.53" fill="#31ffc6"/>
<rect x="349.21" y="355.66" width="3.56" height="25.53" fill="#44ffb3"/>
<rect x="349.21" y="331.18" width="3.56" height="25.53" fill="#57ffa0"/>
<rect x="349.21" y="306.70" width="3.56" height="25.53" fill="#69ff8d"/>
<rect x="349.21" y="282.22" width="3.56" height="25.53" fill="#69ff8d"/>
<rect x="349.21" y="257.74" width="3.56" height="25.53" fill="#7cff7b"/>
<rect x="349.21" y="233.26" width="3.56" height="25.53" fill="#7cff7b"/>
<rect x="349.21" y="208.78" width="3.56" height="25.53" fill="#8fff68"/>
<rect x="349.21" y="184.30" width="3.56" height="25.53" fill="#8fff68"/>
<rect x="349.21" y="159.82" width="3.56" height="25.53" fill="#a2ff55"/>
<rect x="349.21" y="152.47" width="3.56" height="8.40" fill="#8fff68"/>
<rect x="351.72" y="527.02" width="3.56" height="23.78" fill="#0000b4"/>
<rect x="351.72" y="502.54" width="3.56" height="25.53" fill="#000cff"/>
<rect x="351.72" y="478.06" width="3.56" height="25.53" fill="#0052ff"/>
<rect x="351.72" y="453.58" width="3.56" height="25.53" fill="#0097ff"/>
<rect x="351.72" y="429.10" width="3.56" height="25.53" fill="#00c6ff"/>
<rect x="351.72" y="404.62" width="3.56" height="25.53" fill="#1effd8"/>
<rect x="351.72" y="380.14" width="3.56" height="25.53" fill="#31ffc6"/>
<rect x="351.72" y="355.66" width="3.56" height="25.53" fill="#44ffb3"/>
<rect x="351.72" y="331.18" width="3.56" height="25.53" fill="#57ffa0"/>
<rect x="351.72" y="306.70" width="3.56" height="25.53" fill="#57ffa0"/>
<rect x="351.72" y="282.22" width="3.56" height="25.53" fill="#7cff7b"/>
<rect x="351.72" y="257.74" width="3.56" height="25.53" fill="#7cff7b"/>
<rect x="351.72" y="233.26" width="3.56" height="25.53" fill="#7cff7b"/>
<rect x="351.72" y="208.78" width="3.56" height="25.53" fill="#7cff7b"/>
<rect x="351.72" y="184.30" width="3.56" height="25.53" fill="#a2ff55"/>
<rect x="351.72" y="159.82" width="3.56" height="25.53" fill="#a2ff55"/>
<rect x="351.72" y="152.47" width="3.56" height="8.40" fill="#a2ff55"/>
<rect x="354.23" y="527.02" width="3.56" height="23.78" fill="#0000cf"/>
<rect x="354.23" y="502.54" width="3.56" height="25.53" fill="#0023ff"/>
<rect x="354.23" y="478.06" width="3.56" height="25.53" fill="#0069ff"/>
<rect x="354.23" y="453.58" width="3.56" height="25.53" fill="#0097ff"/>
<rect x="354.23" y="429.10" width="3.56" height="25.53" fill="#00c6ff"/>
<rect x="354.23" y="404.62" width="3.56" height="25.53" fill="#1effd8"/>
<rect x="354.23" y="380.14" width="3.56" height="25.53" fill="#31ffc6"/>
<rect x="354.23" y="355.66" width="3.56" height="25.53" fill="#44ffb3"/>
<rect x="354.23" y="331.18" width="3.56" height="25.53" fill="#44ffb3"/>
<rect x="354.23" y="306.70" width="3.56" height="25.53" fill="#69ff8d"/>
<rect x="354.23" y="282.22" width="3.56" height="25.53" fill="#69ff8d"/>
<rect x="354.23" y="257.74" width="3.56" height="25.53" fill="#7cff7b"/>
<rect x="354.23" y="233.26" width="3.56" height="25.53" fill="#8fff68"/>
<rect x="354.23" y="208.78" width="3.56" height="25.53" fill="#7cff7b"/>
<rect x="354.23" y="184.30" width="3.56" height="25.53" fill="#8fff68"/>
<rect x="354.23" y="159.82" width="3.56" height="25.53" fill="#a2ff55"/>
<rect x="354.23" y="152.47" width="3.56" height="8.40" fill="#a2ff55"/>
<rect x="356.74" y="527.02" width="3.56" height="23.78" fill="#0023ff"/>
<rect x="356.74" y="502.54" width="3.56" height="25.53" fill="#0069ff"/>
<rect x="356.74" y="478.06" width="3.56" height="25.53" fill="#0097ff"/>
<rect x="356.74" y="453.58" width="3.56" height="25.53" fill="#00c6ff"/>
<rect x="356.74" y="429.10" width="3.56" height="25.53" fill="#00ddfe"/>
<rect x="356.74" y="404.62" width="3.56" height="25.53" fill="#1effd8"/>
<rect x="356.74" y="380.14" width="3.56" height="25.53" fill="#1effd8"/>
<rect x="356.74" y="355.66" width="3.56" height="25.53" fill="#44ffb3"/>
<rect x="356.74" y="331.18" width="3.56" height="25.53" fill="#57ffa0"/>
<rect x="356.74" y="306.70" width="3.56" height="25.53" fill="#69ff8d"/>
<rect x="356.74" y="282.22" width="3.56" height="25.53" fill="#69ff8d"/>
<rect x="356.74" y="257.74" width="3.56" height="25.53" fill="#7cff7b"/>
<rect x="356.74" y="233.26" width="3.56" height="25.53" fill="#8fff68"/>
<rect x="356.74" y="208.78" width="3.56" height="25.53" fill="#8fff68"/>
<rect x="356.74" y="184.30" width="3.56" height="25.53" fill="#a2ff55"/>
<rect x="356.74" y="159.82" width="3.56" height="25.53" fill="#a2ff55"/>
<rect x="356.74" y="152.47" width="3.56" height="8.40" fill="#a2ff55"/>
<rect x="359.24" y="527.02" width="3.56" height="23.78" fill="#0080ff"/>
<rect x="359.24" y="502.54" width="3.56" height="25.53" fill="#0097ff"/>
<rect x="359.24" y="478.06" width="3.56" height="25.53" fill="#00aeff"/>
<rect x="359.24" y="453.58" width="3.56" height="25.53" fill="#00c6ff"/>
<rect x="359.24" y="429.10" width="3.56" height="25.53" fill="#0cf4eb"/>
<rect x="359.24" y="404.62" width="3.56" height="25.53" fill="#1effd8"/>
<rect x="359.24" y="380.14" width="3.56" height="25.53" fill="#31ffc6"/>
<rect x="359.24" y="355.66" width="3.56" height="25.53" fill="#44ffb3"/>
<rect x="359.24" y="331.18" width="3.56" height="25.53" fill="#57ffa0"/>
<rect x="359.24" y="306.70" width="3.56" height="25.53" fill="#57ffa0"/>
<rect x="359.24" y="282.22" width="3.56" height="25.53" fill="#69ff8d"/>
<rect x="359.24" y="257.74" width="3.56" height="25.53" fill="#69ff8d"/>
<rect x="359.24" y="233.26" width="3.56" height="25.53" fill="#7cff7b"/>
<rect x="359.24" y="208.78" width="3.56" height="25.53" fill="#8fff68"/>
<rect x="359.24" y="184.30" width="3.56" height="25.53" fill="#8fff68"/>
<rect x="359.24" y="159.82" width="3.56" height="25.53" fill="#a2ff55"/>
<rect x="359.24" y="152.47" width="3.56" height="8.40" fill="#a2ff55"/>
<rect x="361.75" y="527.02" width="3.56" height="23.78" fill="#00aeff"/>
<rect x="361.75" y="502.54" width="3.56" height="25.53" fill="#00aeff"/>
<rect x="361.75" y="478.06" width="3.56" height="25.53" fill="#00c6ff"/>
<rect x="361.75" y="453.58" width="3.56" height="25.53" fill="#00ddfe"/>
<rect x="361.75" y="429.10" width="3.56" height="25.53" fill="#0cf4eb"/>
<rect x="361.75" y="404.62" width="3.56" height="25.53" fill="#1effd8"/>
<rect x="361.75" y="380.14" width="3.56" height="25.53" fill="#31ffc6"/>
<rect x="361.75" y="355.66" width="3.56" height="25.53" fill="#44ffb3"/>
<rect x="361.75" y="331.18" width="3.56" height="25.53" fill="#57ffa0"/>
<rect x="361.75" y="306.70" width="3.56" height="25.53" fill="#69ff8d"/>
<rect x="361.75" y="282.22" width="3.56" height="25.53" fill="#69ff8d"/>
<rect x="361.75" y="257.74" width="3.56" height="25.53" fill="#7cff7b"/>
<rect x="361.75" y="233.26" width="3.56" height="25.53" fill="#7cff7b"/>
<rect x="361.75" y="208.78" width="3.56" height="25.53" fill="#7cff7b"/>
<rect x="361.75" y="184.30" width="3.56" height="25.53" fill="#8fff68"/>
<rect x="361.75" y="159.82" width="3.56" height="25.53" fill="#a2ff55"/>
<rect x="361.75" y="152.47" width="3.56" height="8.40" fill="#a2ff55"/>
<rect x="364.26" y="527.02" width="3.56" height="23.78" fill="#0080ff"/>
<rect x="364.26" y="502.54" width="3.56" height="25.53" fill="#0080ff"/>
<rect x="364.26" y="478.06" width="3.56" height="25.53" fill="#0080ff"/>
<rect x="364.26" y="453.58" width="3.56" height="25.53" fill="#00aeff"/>
<rect x="364.26" y="429.10" width="3.56" height="25.53" fill="#0cf4eb"/>
<rect x="364.26" y="404.62" width="3.56" height="25.53" fill="#1effd8"/>
<rect x="364.26" y="380.14" width="3.56" height="25.53" fill="#31ffc6"/>
<rect x="364.26" y="355.66" width="3.56" height="25.53" fill="#44ffb3"/>
<rect x="364.26" y="331.18" width="3.56" height="25.53" fill="#57ffa0"/>
<rect x="364.26" y="306.70" width="3.56" height="25.53" fill="#69ff8d"/>
<rect x="364.26" y="282.22" width="3.56" height="25.53" fill="#7cff7b"/>
<rect x="364.26" y="257.74" width="3.56" height="25.53" fill="#7cff7b"/>
<rect x="364.26" y="233.26" width="3.56" height="25.53" fill="#7cff7b"/>
<rect x="364.26" y="208.78" width="3.56" height="25.53" fill="#7cff7b"/>
<rect x="364.26" y="184.30" width="3.56" height="25.53" fill="#8fff68"/>
<rect x="364.26" y="159.82" width="3.56" height="25.53" fill="#a2ff55"/>
<rect x="364.26" y="152.47" width="3.56" height="8.40" fill="#a2ff55"/>
<rect x="366.77" y="527.02" width="3.56" height="23.78" fill="#00c6ff"/>
<rect x="366.77" y="502.54" width="3.56" height="25.53" fill="#00c6ff"/>
<rect x="366.77" y="478.06" width="3.56" height="25.53" fill="#00ddfe"/>
<rect x="366.77" y="453.58" width="3.56" height="25.53" fill="#00ddfe"/>
<rect x="366.77" y="429.10" width="3.56" height="25.53" fill="#0cf4eb"/>
<rect x="366.77" y="404.62" width="3.56" height="25.53" fill="#1effd8"/>
<rect x="366.77" y="380.14" width="3.56" height="25.53" fill="#31ffc6"/>
<rect x="366.77" y="355.66" width="3.56" height="25.53" fill="#44ffb3"/>
<rect x="366.77" y="331.18" width="3.56" height="25.53" fill="#57ffa0"/>
<rect x="366.77" y="306.70" width="3.56" height="25.53" fill="#69ff8d"/>
<rect x="366.77" y="282.22" width="3.56" height="25.53" fill="#69ff8d"/>
<rect x="366.77" y="257.74" width="3.56" height="25.53" fill="#69ff8d"/>
<rect x="366.77" y="233.26" width="3.56" height="25.53" fill="#7cff7b"/>
<rect x="366.77" y="208.78" width="3.56" height="25.53" fill="#7cff7b"/>
<rect x="366.77" y="184.30" width="3.56" height="25.53" fill="#8fff68"/>
<rect x="366.77" y="159.82" width="3.56" height="25.53" fill="#a2ff55"/>
<rect x="366.77" y="152.47" width="3.56" height="8.40" fill="#c7ff30"/>
<rect x="369.28" y="527.02" width="3.56" height="23.78" fill="#00c6ff"/>
<rect x="369.28" y="502.54" width="3.56" height="25.53" fill="#00c6ff"/>
<rect x="369.28" y="478.06" width="3.56" height="25.53" fill="#00ddfe"/>
<rect x="369.28" y="453.58" width="3.56" height="25.53" fill="#0cf4eb"/>
<rect x="369.28" y="429.10" width="3.56" height="25.53" fill="#1effd8"/>
<rect x="369.28" y="404.62" width="3.56" height="25.53" fill="#1effd8"/>
<rect x="369.28" y="380.14" width="3.56" height="25.53" fill="#44ffb3"/>
<rect x="369.28" y="355.66" width="3.56" height="25.53" fill="#44ffb3"/>
<rect x="369.28" y="331.18" width="3.56" height="25.53" fill="#57ffa0"/>
<rect x="369.28" y="306.70" width="3.56" height="25.53" fill="#69ff8d"/>
<rect x="369.28" y="282.22" width="3.56" height="25.53" fill="#69ff8d"/>
<rect x="369.28" y="257.74" width="3.56" height="25.53" fill="#7cff7b"/>
<rect x="369.28" y="233.26" width="3.56" height="25.53" fill="#7cff7b"/>
<rect x="369.28" y="208.78" width="3.56" height="25.53" fill="#7cff7b"/>
<rect x="369.28" y="184.30" width="3.56" height="25.53" fill="#a2ff55"/>
<rect x="369.28" y="159.82" width="3.56" height="25.53" fill="#a2ff55"/>
<rect x="369.28" y="152.47" width="3.56" height="8.40" fill="#b4ff42"/>
<rect x="371.78" y="527.02" width="3.56" height="23.78" fill="#00c6ff"/>
<rect x="371.78" y="502.54" width="3.56" height="25.53" fill="#0097ff"/>
<rect x="371.78" y="478.06" width="3.56" height="25.53" fill="#00ddfe"/>
<rect x="371.78" y="453.58" width="3.56" height="25.53" fill="#00ddfe"/>
<rect x="371.78" y="429.10" width="3.56" height="25.53" fill="#0cf4eb"/>
<rect x="371.78" y="404.62" width="3.56" height="25.53" fill="#1effd8"/>
<rect x="371.78" y="380.14" width="3.56" height="25.53" fill="#31ffc6"/>
<rect x="371.78" y="355.66" width="3.56" height="25.53" fill="#44ffb3"/>
<rect x="371.78" y="331.18" width="3.56" height="25.53" fill="#57ffa0"/>
<rect x="371.78" y="306.70" width="3.56" height="25.53" fill="#69ff8d"/>
<rect x="371.78" y="282.22" width="3.56" height="25.53" fill="#69ff8d"/>
<rect x="371.78" y="257.74" width="3.56" height="25.53" fill="#7cff7b"/>
<rect x="371.78" y="233.26" width="3.56" height="25.53" fill="#7cff7b"/>
<rect x="371.78" y="208.78" width="3.56" height="25.53" fill="#7cff7b"/>
<rect x="371.78" y="184.30" width="3.56" height="25.53" fill="#8fff68"/>
<rect x="371.78" y="159.82" width="3.56" height="25.53" fill="#8fff68"/>
<rect x="371.78" y="152.47" width="3.56" height="8.40" fill="#b4ff42"/>
<rect x="374.29" y="527.02" width="3.56" height="23.78" fill="#a2ff55"/>
<rect x="374.29" y="502.54" width="3.56" height="25.53" fill="#a2ff55"/>
<rect x="374.29" y="478.06" width="3.56" height="25.53" fill="#a2ff55"/>
<rect x="374.29" y="453.58" width="3.56" height="25.53" fill="#44ffb3"/>
<rect x="374.29" y="429.10" width="3.56" height="25.53" fill="#a2ff55"/>
<rect x="374.29" y="404.62" width="3.56" height="25.53" fill="#8fff68"/>
<rect x="374.29" y="380.14" width="3.56" height="25.53" fill="#69ff8d"/>
<rect x="374.29" y="355.66" width="3.56" height="25.53" fill="#44ffb3"/>
<rect x="374.29" y="331.18" width="3.56" height="25.53" fill="#57ffa0"/>
<rect x="374.29" y="306.70" width="3.56" height="25.53" fill="#69ff8d"/>
<rect x="374.29" y="282.22" width="3.56" height="25.53" fill="#69ff8d"/>
<rect x="374.29" y="257.74" width="3.56" height="25.53" fill="#7cff7b"/>
<rect x="374.29" y="233.26" width="3.56" height="25.53" fill="#7cff7b"/>
<rect x="374.29" y="208.78" width="3.56" height="25.53" fill="#7cff7b"/>
<rect x="374.29" y="184.30" width="3.56" height="25.53" fill="#8fff68"/>
<rect x="374.29" y="159.82" width="3.56" height="25.53" fill="#8fff68"/>
<rect x="374.29" y="152.47" width="3.56" height="8.40" fill="#b4ff42"/>
<rect x="376.80" y="527.02" width="3.56" height="23.78" fill="#daff1d"/>
<rect x="376.80" y="502.54" width="3.56" height="25.53" fill="#daff1d"/>
<rect x="376.80" y="478.06" width="3.56" height="25.53" fill="#daff1d"/>
<rect x="376.80" y="453.58" width="3.56" height="25.53" fill="#c7ff30"/>
<rect x="376.80" y="429.10" width="3.56" height="25.53" fill="#b4ff42"/>
<rect x="376.80" y="404.62" width="3.56" height="25.53" fill="#a2ff55"/>
<rect x="376.80" y="380.14" width="3.56" height="25.53" fill="#7cff7b"/>
<rect x="376.80" y="355.66" width="3.56" height="25.53" fill="#57ffa0"/>
<rect x="376.80" y="331.18" width="3.56" height="25.53" fill="#57ffa0"/>
<rect x="376.80" y="306.70" width="3.56" height="25.53" fill="#57ffa0"/>
<rect x="376.80" y="282.22" width="3.56" height="25.53" fill="#69ff8d"/>
<rect x="376.80" y="257.74" width="3.56" height="25.53" fill="#69ff8d"/>
<rect x="376.80" y="233.26" width="3.56" height="25.53" fill="#7cff7b"/>
<rect x="376.80" y="208.78" width="3.56" height="25.53" fill="#7cff7b"/>
<rect x="376.80" y="184.30" width="3.56" height="25.53" fill="#8fff68"/>
<rect x="376.80" y="159.82" width="3.56" height="25.53" fill="#a2ff55"/>
<rect x="376.80" y="152.47" width="3.56" height="8.40" fill="#c7ff30"/>
<rect x="379.31" y="527.02" width="3.56" height="23.78" fill="#daff1d"/>
<rect x="379.31" y="502.54" width="3.56" height="25.53" fill="#daff1d"/>
<rect x="379.31" y="478.06" width="3.56" height="25.53" fill="#7cff7b"/>
<rect x="379.31" y="453.58" width="3.56" height="25.53" fill="#daff1d"/>
<rect x="379.31" y="429.10" width="3.56" height="25.53" fill="#daff1d"/>
<rect x="379.31" y="404.62" width="3.56" height="25.53" fill="#c7ff30"/>
<rect x="379.31" y="380.14" width="3.56" height="25.53" fill="#a2ff55"/>
<rect x="379.31" y="355.66" width="3.56" height="25.53" fill="#b4ff42"/>
<rect x="379.31" y="331.18" width="3.56" height="25.53" fill="#b4ff42"/>
<rect x="379.31" y="306.70" width="3.56" height="25.53" fill="#a2ff55"/>
<rect x="379.31" y="282.22" width="3.56" height="25.53" fill="#a2ff55"/>
<rect x="379.31" y="257.74" width="3.56" height="25.53" fill="#7cff7b"/>
<rect x="379.31" y="233.26" width="3.56" height="25.53" fill="#8fff68"/>
<rect x="379.31" y="208.78" width="3.56" height="25.53" fill="#c7ff30"/>
<rect x="379.31" y="184.30" width="3.56" height="25.53" fill="#a2ff55"/>
<rect x="379.31" y="159.82" width="3.56" height="25.53" fill="#b4ff42"/>
<rect x="379.31" y="152.47" width="3.56" height="8.40" fill="#c7ff30"/>
<rect x="381.82" y="527.02" width="3.56" height="23.78" fill="#daff1d"/>
<rect x="381.82" y="502.54" width="3.56" height="25.53" fill="#daff1d"/>
<rect x="381.82" y="478.06" width="3.56" height="25.53" fill="#daff1d"/>
<rect x="381.82" y="453.58" width="3.56" height="25.53" fill="#daff1d"/>
<rect x="381.82" y="429.10" width="3.56" height="25.53" fill="#edff0a"/>
<rect x="381.82" y="404.62" width="3.56" height="25.53" fill="#edff0a"/>
<rect x="381.82" y="380.14" width="3.56" height="25.53" fill="#ffec00"/>
<rect x="381.82" y="355.66" width="3.56" height="25.53" fill="#ffd600"/>
<rect x="381.82" y="331.18" width="3.56" height="25.53" fill="#ffec00"/>
<rect x="381.82" y="306.70" width="3.56" height="25.53" fill="#daff1d"/>
<rect x="381.82" y="282.22" width="3.56" height="25.53" fill="#b4ff42"/>
<rect x="381.82" y="257.74" width="3.56" height="25.53" fill="#c7ff30"/>
<rect x="381.82" y="233.26" width="3.56" height="25.53" fill="#7cff7b"/>
<rect x="381.82" y="208.78" width="3.56" height="25.53" fill="#7cff7b"/>
<rect x="381.82" y="184.30" width="3.56" height="25.53" fill="#c7ff30"/>
<rect x="381.82" y="159.82" width="3.56" height="25.53" fill="#b4ff42"/>
<rect x="381.82" y="152.47" width="3.56" height="8.40" fill="#c7ff30"/>
<rect x="384.32" y="527.02" width="3.56" height="23.78" fill="#0cf4eb"/>
<rect x="384.32" y="502.54" width="3.56" height="25.53" fill="#0cf4eb"/>
<rect x="384.32" y="478.06" width="3.56" height="25.53" fill="#0cf4eb"/>
<rect x="384.32" y="453.58" width="3.56" height="25.53" fill="#1effd8"/>
<rect x="384.32" y="429.10" width="3.56" height="25.53" fill="#44ffb3"/>
<rect x="384.32" y="404.62" width="3.56" height="25.53" fill="#7cff7b"/>
<rect x="384.32" y="380.14" width="3.56" height="25.53" fill="#b4ff42"/>
<rect x="384.32" y="355.66" width="3.56" height="25.53" fill="#ffec00"/>
<rect x="384.32" y="331.18" width="3.56" height="25.53" fill="#ffec00"/>
<rect x="384.32" y="306.70" width="3.56" height="25.53" fill="#ffc100"/>
<rect x="384.32" y="282.22" width="3.56" height="25.53" fill="#ffc100"/>
<rect x="384.32" y="257.74" width="3.56" height="25.53" fill="#c7ff30"/>
<rect x="384.32" y="233.26" width="3.56" height="25.53" fill="#69ff8d"/>
<rect x="384.32" y="208.78" width="3.56" height="25.53" fill="#ffec00"/>
<rect x="384.32" y="184.30" width="3.56" height="25.53" fill="#ffd600"/>
<rect x="384.32" y="159.82" width="3.56" height="25.53" fill="#c7ff30"/>
<rect x="384.32" y="152.47" width="3.56" height="8.40" fill="#8fff68"/>
<rect x="386.83" y="527.02" width="3.56" height="23.78" fill="#0cf4eb"/>
<rect x="386.83" y="502.54" width="3.56" height="25.53" fill="#00ddfe"/>
<rect x="386.83" y="478.06" width="3.56" height="25.53" fill="#0cf4eb"/>
<rect x="386.83" y="453.58" width="3.56" height="25.53" fill="#0cf4eb"/>
<rect x="386.83" y="429.10" width="3.56" height="25.53" fill="#1effd8"/>
<rect x="386.83" y="404.62" width="3.56" height="25.53" fill="#1effd8"/>
<rect x="386.83" y="380.14" width="3.56" height="25.53" fill="#44ffb3"/>
<rect x="386.83" y="355.66" width="3.56" height="25.53" fill="#57ffa0"/>
<rect x="386.83" y="331.18" width="3.56" height="25.53" fill="#69ff8d"/>
<rect x="386.83" y="306.70" width="3.56" height="25.53" fill="#8fff68"/>
<rect x="386.83" y="282.22" width="3.56" height="25.53" fill="#7cff7b"/>
<rect x="386.83" y="257.74" width="3.56" height="25.53" fill="#c7ff30"/>
<rect x="386.83" y="233.26" width="3.56" height="25.53" fill="#b4ff42"/>
<rect x="386.83" y="208.78" width="3.56" height="25.53" fill="#ff8000"/>
<rect x="386.83" y="184.30" width="3.56" height="25.53" fill="#ffec00"/>
<rect x="386.83" y="159.82" width="3.56" height="25.53" fill="#c7ff30"/>
<rect x="386.83" y="152.47" width="3.56" height="8.40" fill="#ffd600"/>
<rect x="389.34" y="527.02" width="3.56" height="23.78" fill="#edff0a"/>
<rect x="389.34" y="502.54" width="3.56" height="25.53" fill="#edff0a"/>
<rect x="389.34" y="478.06" width="3.56" height="25.53" fill="#edff0a"/>
<rect x="389.34" y="453.58" width="3.56" height="25.53" fill="#daff1d"/>
<rect x="389.34" y="429.10" width="3.56" height="25.53" fill="#c7ff30"/>
<rect x="389.34" y="404.62" width="3.56" height="25.53" fill="#8fff68"/>
<rect x="389.34" y="380.14" width="3.56" height="25.53" fill="#7cff7b"/>
<rect x="389.34" y="355.66" width="3.56" height="25.53" fill="#57ffa0"/>
<rect x="389.34" y="331.18" width="3.56" height="25.53" fill="#7cff7b"/>
<rect x="389.34" y="306.70" width="3.56" height="25.53" fill="#daff1d"/>
<rect x="389.34" y="282.22" width="3.56" height="25.53" fill="#ffc100"/>
<rect x="389.34" y="257.74" width="3.56" height="25.53" fill="#ffd600"/>
<rect x="389.34" y="233.26" width="3.56" height="25.53" fill="#ffab00"/>
<rect x="389.34" y="208.78" width="3.56" height="25.53" fill="#ffc100"/>
<rect x="389.34" y="184.30" width="3.56" height="25.53" fill="#ffc100"/>
<rect x="389.34" y="159.82" width="3.56" height="25.53" fill="#ffc100"/>
<rect x="389.34" y="152.47" width="3.56" height="8.40" fill="#ff9600"/>
<rect x="391.85" y="527.02" width="3.56" height="23.78" fill="#00aeff"/>
<rect x="391.85" y="502.54" width="3.56" height="25.53" fill="#00aeff"/>
<rect x="391.85" y="478.06" width="3.56" height="25.53" fill="#00aeff"/>
<rect x="391.85" y="453.58" width="3.56" height="25.53" fill="#00c6ff"/>
<rect x="391.85" y="429.10" width="3.56" height="25.53" fill="#0cf4eb"/>
<rect x="391.85" y="404.62" width="3.56" height="25.53" fill="#44ffb3"/>
<rect x="391.85" y="380.14" width="3.56" height="25.53" fill="#8fff68"/>
<rect x="391.85" y="355.66" width="3.56" height="25.53" fill="#daff1d"/>
<rect x="391.85" y="331.18" width="3.56" height="25.53" fill="#c7ff30"/>
<rect x="391.85" y="306.70" width="3.56" height="25.53" fill="#ffd600"/>
<rect x="391.85" y="282.22" width="3.56" height="25.53" fill="#ffc100"/>
<rect x="391.85" y="257.74" width="3.56" height="25.53" fill="#ffab00"/>
<rect x="391.85" y="233.26" width="3.56" height="25.53" fill="#ff8000"/>
<rect x="391.85" y="208.78" width="3.56" height="25.53" fill="#ff9600"/>
<rect x="391.85" y="184.30" width="3.56" height="25.53" fill="#ff5500"/>
<rect x="391.85" y="159.82" width="3.56" height="25.53" fill="#ff5500"/>
<rect x="391.85" y="152.47" width="3.56" height="8.40" fill="#c7ff30"/>
<rect x="394.36" y="527.02" width="3.56" height="23.78" fill="#0052ff"/>
<rect x="394.36" y="502.54" width="3.56" height="25.53" fill="#0069ff"/>
<rect x="394.36" y="478.06" width="3.56" height="25.53" fill="#0069ff"/>
<rect x="394.36" y="453.58" width="3.56" height="25.53" fill="#0080ff"/>
<rect x="394.36" y="429.10" width="3.56" height="25.53" fill="#00aeff"/>
<rect x="394.36" y="404.62" width="3.56" height="25.53" fill="#00c6ff"/>
<rect x="394.36" y="380.14" width="3.56" height="25.53" fill="#1effd8"/>
<rect x="394.36" y="355.66" width="3.56" height="25.53" fill="#57ffa0"/>
<rect x="394.36" y="331.18" width="3.56" height="25.53" fill="#57ffa0"/>
<rect x="394.36" y="306.70" width="3.56" height="25.53" fill="#b4ff42"/>
<rect x="394.36" y="282.22" width="3.56" height="25.53" fill="#edff0a"/>
<rect x="394.36" y="257.74" width="3.56" height="25.53" fill="#ffec00"/>
<rect x="394.36" y="233.26" width="3.56" height="25.53" fill="#ffab00"/>
<rect x="394.36" y="208.78" width="3.56" height="25.53" fill="#ffc100"/>
<rect x="394.36" y="184.30" width="3.56" height="25.53" fill="#ff5500"/>
<rect x="394.36" y="159.82" width="3.56" height="25.53" fill="#ff9600"/>
<rect x="394.36" y="152.47" width="3.56" height="8.40" fill="#ff9600"/>
<rect x="396.86" y="527.02" width="3.56" height="23.78" fill="#00aeff"/>
<rect x="396.86" y="502.54" width="3.56" height="25.53" fill="#00aeff"/>
<rect x="396.86" y="478.06" width="3.56" height="25.53" fill="#00aeff"/>
<rect x="396.86" y="453.58" width="3.56" height="25.53" fill="#00ddfe"/>
<rect x="396.86" y="429.10" width="3.56" height="25.53" fill="#1effd8"/>
<rect x="396.86" y="404.62" width="3.56" height="25.53" fill="#57ffa0"/>
<rect x="396.86" y="380.14" width="3.56" height="25.53" fill="#a2ff55"/>
<rect x="396.86" y="355.66" width="3.56" height="25.53" fill="#ffd600"/>
<rect x="396.86" y="331.18" width="3.56" height="25.53" fill="#ffc100"/>
<rect x="396.86" y="306.70" width="3.56" height="25.53" fill="#edff0a"/>
<rect x="396.86" y="282.22" width="3.56" height="25.53" fill="#ff8000"/>
<rect x="396.86" y="257.74" width="3.56" height="25.53" fill="#ffc100"/>
<rect x="396.86" y="233.26" width="3.56" height="25.53" fill="#edff0a"/>
<rect x="396.86" y="208.78" width="3.56" height="25.53" fill="#ff8000"/>
<rect x="396.86" y="184.30" width="3.56" height="25.53" fill="#ff6b00"/>
<rect x="396.86" y="159.82" width="3.56" height="25.53" fill="#ff5500"/>
<rect x="396.86" y="152.47" width="3.56" height="8.40" fill="#ff5500"/>
<rect x="399.37" y="527.02" width="3.56" height="23.78" fill="#c7ff30"/>
<rect x="399.37" y="502.54" width="3.56" height="25.53" fill="#c7ff30"/>
<rect x="399.37" y="478.06" width="3.56" height="25.53" fill="#c7ff30"/>
<rect x="399.37" y="453.58" width="3.56" height="25.53" fill="#c7ff30"/>
<rect x="399.37" y="429.10" width="3.56" height="25.53" fill="#daff1d"/>
<rect x="399.37" y="404.62" width="3.56" height="25.53" fill="#edff0a"/>
<rect x="399.37" y="380.14" width="3.56" height="25.53" fill="#ffec00"/>
<rect x="399.37" y="355.66" width="3.56" height="25.53" fill="#ffc100"/>
<rect x="399.37" y="331.18" width="3.56" height="25.53" fill="#ffc100"/>
<rect x="399.37" y="306.70" width="3.56" height="25.53" fill="#ffc100"/>
<rect x="399.37" y="282.22" width="3.56" height="25.53" fill="#ffc100"/>
<rect x="399.37" y="257.74" width="3.56" height="25.53" fill="#ffc100"/>
<rect x="399.37" y="233.26" width="3.56" height="25.53" fill="#ffec00"/>
<rect x="399.37" y="208.78" width="3.56" height="25.53" fill="#ffab00"/>
<rect x="399.37" y="184.30" width="3.56" height="25.53" fill="#ff9600"/>
<rect x="399.37" y="159.82" width="3.56" height="25.53" fill="#ff9600"/>
<rect x="399.37" y="152.47" width="3.56" height="8.40" fill="#ff5500"/>
<rect x="401.88" y="527.02" width="3.56" height="23.78" fill="#57ffa0"/>
<rect x="401.88" y="502.54" width="3.56" height="25.53" fill="#57ffa0"/>
<rect x="401.88" y="478.06" width="3.56" height="25.53" fill="#44ffb3"/>
<rect x="401.88" y="453.58" width="3.56" height="25.53" fill="#57ffa0"/>
<rect x="401.88" y="429.10" width="3.56" height="25.53" fill="#69ff8d"/>
<rect x="401.88" y="404.62" width="3.56" height="25.53" fill="#57ffa0"/>
<rect x="401.88" y="380.14" width="3.56" height="25.53" fill="#57ffa0"/>
<rect x="401.88" y="355.66" width="3.56" height="25.53" fill="#8fff68"/>
<rect x="401.88" y="331.18" width="3.56" height="25.53" fill="#a2ff55"/>
<rect x="401.88" y="306.70" width="3.56" height="25.53" fill="#c7ff30"/>
<rect x="401.88" y="282.22" width="3.56" height="25.53" fill="#edff0a"/>
<rect x="401.88" y="257.74" width="3.56" height="25.53" fill="#ff6b00"/>
<rect x="401.88" y="233.26" width="3.56" height="25.53" fill="#ff5500"/>
<rect x="401.88" y="208.78" width="3.56" height="25.53" fill="#ff6b00"/>
<rect x="401.88" y="184.30" width="3.56" height="25.53" fill="#ff8000"/>
<rect x="401.88" y="159.82" width="3.56" height="25.53" fill="#ff9600"/>
<rect x="401.88" y="152.47" width="3.56" height="8.40" fill="#ff9600"/>
<rect x="404.39" y="527.02" width="3.56" height="23.78" fill="#57ffa0"/>
<rect x="404.39" y="502.54" width="3.56" height="25.53" fill="#44ffb3"/>
<rect x="404.39" y="478.06" width="3.56" height="25.53" fill="#44ffb3"/>
<rect x="404.39" y="453.58" width="3.56" height="25.53" fill="#57ffa0"/>
<rect x="404.39" y="429.10" width="3.56" height="25.53" fill="#69ff8d"/>
<rect x="404.39" y="404.62" width="3.56" height="25.53" fill="#69ff8d"/>
<rect x="404.39" y="380.14" width="3.56" height="25.53" fill="#69ff8d"/>
<rect x="404.39" y="355.66" width="3.56" height="25.53" fill="#a2ff55"/>
<rect x="404.39" y="331.18" width="3.56" height="25.53" fill="#daff1d"/>
<rect x="404.39" y="306.70" width="3.56" height="25.53" fill="#c7ff30"/>
<rect x="404.39" y="282.22" width="3.56" height="25.53" fill="#ffab00"/>
<rect x="404.39" y="257.74" width="3.56" height="25.53" fill="#ff8000"/>
<rect x="404.39" y="233.26" width="3.56" height="25.53" fill="#ff5500"/>
<rect x="404.39" y="208.78" width="3.56" height="25.53" fill="#ff5500"/>
<rect x="404.39" y="184.30" width="3.56" height="25.53" fill="#ff6b00"/>
<rect x="404.39" y="159.82" width="3.56" height="25.53" fill="#ff6b00"/>
<rect x="406.90" y="527.02" width="3.56" height="23.78" fill="#57ffa0"/>
<rect x="406.90" y="502.54" width="3.56" height="25.53" fill="#57ffa0"/>
<rect x="406.90" y="478.06" width="3.56" height="25.53" fill="#57ffa0"/>
<rect x="406.90" y="453.58" width="3.56" height="25.53" fill="#69ff8d"/>
<rect x="406.90" y="429.10" width="3.56" height="25.53" fill="#7cff7b"/>
<rect x="406.90" y="404.62" width="3.56" height="25.53" fill="#8fff68"/>
<rect x="406.90" y="380.14" width="3.56" height="25.53" fill="#daff1d"/>
<rect x="406.90" y="355.66" width="3.56" height="25.53" fill="#ffd600"/>
<rect x="406.90" y="331.18" width="3.56" height="25.53" fill="#ffd600"/>
<rect x="406.90" y="306.70" width="3.56" height="25.53" fill="#ffec00"/>
<rect x="406.90" y="282.22" width="3.56" height="25.53" fill="#ffec00"/>
<rect x="406.90" y="257.74" width="3.56" height="25.53" fill="#ffec00"/>
<rect x="406.90" y="233.26" width="3.56" height="25.53" fill="#b4ff42"/>
<rect x="406.90" y="208.78" width="3.56" height="25.53" fill="#ff9600"/>
<rect x="406.90" y="184.30" width="3.56" height="25.53" fill="#ff5500"/>
<rect x="406.90" y="159.82" width="3.56" height="25.53" fill="#ff9600"/>
<rect x="409.40" y="527.02" width="3.56" height="23.78" fill="#57ffa0"/>
<rect x="409.40" y="502.54" width="3.56" height="25.53" fill="#57ffa0"/>
<rect x="409.40" y="478.06" width="3.56" height="25.53" fill="#57ffa0"/>
<rect x="409.40" y="453.58" width="3.56" height="25.53" fill="#69ff8d"/>
<rect x="409.40" y="429.10" width="3.56" height="25.53" fill="#a2ff55"/>
<rect x="409.40" y="404.62" width="3.56" height="25.53" fill="#b4ff42"/>
<rect x="409.40" y="380.14" width="3.56" height="25.53" fill="#daff1d"/>
<rect x="409.40" y="355.66" width="3.56" height="25.53" fill="#ffec00"/>
<rect x="409.40" y="331.18" width="3.56" height="25.53" fill="#edff0a"/>
<rect x="409.40" y="306.70" width="3.56" height="25.53" fill="#ff8000"/>
<rect x="409.40" y="282.22" width="3.56" height="25.53" fill="#ffec00"/>
<rect x="409.40" y="257.74" width="3.56" height="25.53" fill="#c7ff30"/>
<rect x="409.40" y="233.26" width="3.56" height="25.53" fill="#ffd600"/>
<rect x="409.40" y="208.78" width="3.56" height="25.53" fill="#a2ff55"/>
<rect x="409.40" y="184.30" width="3.56" height="25.53" fill="#ff5500"/>
<rect x="409.40" y="167.16" width="3.56" height="18.19" fill="#ff4000"/>
<rect x="411.91" y="527.02" width="3.56" height="23.78" fill="#ffec00"/>
<rect x="411.91" y="502.54" width="3.56" height="25.53" fill="#ffec00"/>
<rect x="411.91" y="478.06" width="3.56" height="25.53" fill="#daff1d"/>
<rect x="411.91" y="453.58" width="3.56" height="25.53" fill="#daff1d"/>
<rect x="411.91" y="429.10" width="3.56" height="25.53" fill="#edff0a"/>
<rect x="411.91" y="404.62" width="3.56" height="25.53" fill="#edff0a"/>
<rect x="411.91" y="380.14" width="3.56" height="25.53" fill="#daff1d"/>
<rect x="411.91" y="355.66" width="3.56" height="25.53" fill="#c7ff30"/>
<rect x="411.91" y="331.18" width="3.56" height="25.53" fill="#daff1d"/>
<rect x="411.91" y="306.70" width="3.56" height="25.53" fill="#edff0a"/>
<rect x="411.91" y="282.22" width="3.56" height="25.53" fill="#edff0a"/>
<rect x="411.91" y="257.74" width="3.56" height="25.53" fill="#ffd600"/>
<rect x="411.91" y="233.26" width="3.56" height="25.53" fill="#edff0a"/>
<rect x="411.91" y="208.78" width="3.56" height="25.53" fill="#ff8000"/>
<rect x="411.91" y="191.64" width="3.56" height="18.19" fill="#ff5500"/>
<rect x="414.42" y="527.02" width="3.56" height="23.78" fill="#ffec00"/>
<rect x="414.42" y="502.54" width="3.56" height="25.53" fill="#ffec00"/>
<rect x="414.42" y="478.06" width="3.56" height="25.53" fill="#ffec00"/>
<rect x="414.42" y="453.58" width="3.56" height="25.53" fill="#ffec00"/>
<rect x="414.42" y="429.10" width="3.56" height="25.53" fill="#ffd600"/>
<rect x="414.42" y="404.62" width="3.56" height="25.53" fill="#ffc100"/>
<rect x="414.42" y="380.14" width="3.56" height="25.53" fill="#ff9600"/>
<rect x="414.42" y="355.66" width="3.56" height="25.53" fill="#ff6b00"/>
<rect x="414.42" y="331.18" width="3.56" height="25.53" fill="#ff8000"/>
<rect x="414.42" y="306.70" width="3.56" height="25.53" fill="#ff9600"/>
<rect x="414.42" y="282.22" width="3.56" height="25.53" fill="#ff6b00"/>
<rect x="414.42" y="257.74" width="3.56" height="25.53" fill="#ff8000"/>
<rect x="414.42" y="233.26" width="3.56" height="25.53" fill="#ffab00"/>
<rect x="414.42" y="208.78" width="3.56" height="25.53" fill="#ffd600"/>
<rect x="414.42" y="191.64" width="3.56" height="18.19" fill="#ffec00"/>
<rect x="416.93" y="527.02" width="3.56" height="23.78" fill="#daff1d"/>
<rect x="416.93" y="502.54" width="3.56" height="25.53" fill="#daff1d"/>
<rect x="416.93" y="478.06" width="3.56" height="25.53" fill="#ffec00"/>
<rect x="416.93" y="453.58" width="3.56" height="25.53" fill="#ffec00"/>
<rect x="416.93" y="429.10" width="3.56" height="25.53" fill="#ffec00"/>
<rect x="416.93" y="404.62" width="3.56" height="25.53" fill="#ffc100"/>
<rect x="416.93" y="380.14" width="3.56" height="25.53" fill="#ff9600"/>
<rect x="416.93" y="355.66" width="3.56" height="25.53" fill="#ff8000"/>
<rect x="416.93" y="331.18" width="3.56" height="25.53" fill="#ffab00"/>
<rect x="416.93" y="306.70" width="3.56" height="25.53" fill="#ff6b00"/>
<rect x="416.93" y="282.22" width="3.56" height="25.53" fill="#ff5500"/>
<rect x="416.93" y="257.74" width="3.56" height="25.53" fill="#ff1500"/>
<rect x="416.93" y="233.26" width="3.56" height="25.53" fill="#ff5500"/>
<rect x="416.93" y="208.78" width="3.56" height="25.53" fill="#ff6b00"/>
<rect x="416.93" y="198.99" width="3.56" height="10.84" fill="#ff6b00"/>
<rect x="419.44" y="527.02" width="3.56" height="23.78" fill="#ffec00"/>
<rect x="419.44" y="502.54" width="3.56" height="25.53" fill="#ffd600"/>
<rect x="419.44" y="478.06" width="3.56" height="25.53" fill="#ffec00"/>
<rect x="419.44" y="453.58" width="3.56" height="25.53" fill="#ffec00"/>
<rect x="419.44" y="429.10" width="3.56" height="25.53" fill="#edff0a"/>
<rect x="419.44" y="404.62" width="3.56" height="25.53" fill="#ffc100"/>
<rect x="419.44" y="380.14" width="3.56" height="25.53" fill="#ff9600"/>
<rect x="419.44" y="355.66" width="3.56" height="25.53" fill="#ff8000"/>
<rect x="419.44" y="331.18" width="3.56" height="25.53" fill="#ffab00"/>
<rect x="419.44" y="306.70" width="3.56" height="25.53" fill="#ff6b00"/>
<rect x="419.44" y="282.22" width="3.56" height="25.53" fill="#ff9600"/>
<rect x="419.44" y="257.74" width="3.56" height="25.53" fill="#ff5500"/>
<rect x="419.44" y="233.26" width="3.56" height="25.53" fill="#ff5500"/>
<rect x="419.44" y="208.78" width="3.56" height="25.53" fill="#ff6b00"/>
<rect x="419.44" y="198.99" width="3.56" height="10.84" fill="#ff5500"/>
<rect x="421.94" y="527.02" width="3.56" height="23.78" fill="#b4ff42"/>
<rect x="421.94" y="502.54" width="3.56" height="25.53" fill="#b4ff42"/>
<rect x="421.94" y="478.06" width="3.56" height="25.53" fill="#a2ff55"/>
<rect x="421.94" y="453.58" width="3.56" height="25.53" fill="#a2ff55"/>
<rect x="421.94" y="429.10" width="3.56" height="25.53" fill="#b4ff42"/>
<rect x="421.94" y="404.62" width="3.56" height="25.53" fill="#b4ff42"/>
<rect x="421.94" y="380.14" width="3.56" height="25.53" fill="#c7ff30"/>
<rect x="421.94" y="355.66" width="3.56" height="25.53" fill="#c7ff30"/>
<rect x="421.94" y="331.18" width="3.56" height="25.53" fill="#edff0a"/>
<rect x="421.94" y="306.70" width="3.56" height="25.53" fill="#c7ff30"/>
<rect x="421.94" y="282.22" width="3.56" height="25.53" fill="#ffd600"/>
<rect x="421.94" y="257.74" width="3.56" height="25.53" fill="#ff6b00"/>
<rect x="421.94" y="233.26" width="3.56" height="25.53" fill="#ff9600"/>
<rect x="421.94" y="218.57" width="3.56" height="15.74" fill="#ffc100"/>
<rect x="424.45" y="527.02" width="3.56" height="23.78" fill="#ff8000"/>
<rect x="424.45" y="502.54" width="3.56" height="25.53" fill="#ff9600"/>
<rect x="424.45" y="478.06" width="3.56" height="25.53" fill="#ff9600"/>
<rect x="424.45" y="453.58" width="3.56" height="25.53" fill="#ffab00"/>
<rect x="424.45" y="429.10" width="3.56" height="25.53" fill="#ffc100"/>
<rect x="424.45" y="404.62" width="3.56" height="25.53" fill="#ffec00"/>
<rect x="424.45" y="380.14" width="3.56" height="25.53" fill="#ffec00"/>
<rect x="424.45" y="355.66" width="3.56" height="25.53" fill="#edff0a"/>
<rect x="424.45" y="331.18" width="3.56" height="25.53" fill="#edff0a"/>
<rect x="424.45" y="306.70" width="3.56" height="25.53" fill="#ffab00"/>
<rect x="424.45" y="282.22" width="3.56" height="25.53" fill="#ff9600"/>
<rect x="424.45" y="257.74" width="3.56" height="25.53" fill="#ffab00"/>
<rect x="424.45" y="233.26" width="3.56" height="25.53" fill="#ff9600"/>
<rect x="424.45" y="221.02" width="3.56" height="13.29" fill="#ff9600"/>
<rect x="426.96" y="527.02" width="3.56" height="23.78" fill="#ffec00"/>
<rect x="426.96" y="502.54" width="3.56" height="25.53" fill="#ffec00"/>
<rect x="426.96" y="478.06" width="3.56" height="25.53" fill="#ffec00"/>
<rect x="426.96" y="453.58" width="3.56" height="25.53" fill="#c7ff30"/>
<rect x="426.96" y="429.10" width="3.56" height="25.53" fill="#a2ff55"/>
<rect x="426.96" y="404.62" width="3.56" height="25.53" fill="#ffec00"/>
<rect x="426.96" y="380.14" width="3.56" height="25.53" fill="#ffec00"/>
<rect x="426.96" y="355.66" width="3.56" height="25.53" fill="#ffd600"/>
<rect x="426.96" y="331.18" width="3.56" height="25.53" fill="#edff0a"/>
<rect x="426.96" y="306.70" width="3.56" height="25.53" fill="#ff8000"/>
<rect x="426.96" y="282.22" width="3.56" height="25.53" fill="#ff5500"/>
<rect x="426.96" y="257.74" width="3.56" height="25.53" fill="#ffab00"/>
<rect x="426.96" y="233.26" width="3.56" height="25.53" fill="#ffab00"/>
<rect x="426.96" y="228.36" width="3.56" height="5.95" fill="#ffc100"/>
<rect x="429.47" y="527.02" width="3.56" height="23.78" fill="#ffec00"/>
<rect x="429.47" y="502.54" width="3.56" height="25.53" fill="#ffec00"/>
<rect x="429.47" y="478.06" width="3.56" height="25.53" fill="#daff1d"/>
<rect x="429.47" y="453.58" width="3.56" height="25.53" fill="#ffec00"/>
<rect x="429.47" y="429.10" width="3.56" height="25.53" fill="#ffec00"/>
<rect x="429.47" y="404.62" width="3.56" height="25.53" fill="#ffec00"/>
<rect x="429.47" y="380.14" width="3.56" height="25.53" fill="#ffec00"/>
<rect x="429.47" y="355.66" width="3.56" height="25.53" fill="#ffec00"/>
<rect x="429.47" y="331.18" width="3.56" height="25.53" fill="#ffd600"/>
<rect x="429.47" y="306.70" width="3.56" height="25.53" fill="#ffc100"/>
<rect x="429.47" y="282.22" width="3.56" height="25.53" fill="#ffc100"/>
<rect x="429.47" y="257.74" width="3.56" height="25.53" fill="#ffab00"/>
<rect x="429.47" y="235.71" width="3.56" height="23.08" fill="#ff9600"/>
<rect x="431.98" y="527.02" width="3.56" height="23.78" fill="#ffc100"/>
<rect x="431.98" y="502.54" width="3.56" height="25.53" fill="#ffc100"/>
<rect x="431.98" y="478.06" width="3.56" height="25.53" fill="#ffc100"/>
<rect x="431.98" y="453.58" width="3.56" height="25.53" fill="#ffc100"/>
<rect x="431.98" y="429.10" width="3.56" height="25.53" fill="#ffc100"/>
<rect x="431.98" y="404.62" width="3.56" height="25.53" fill="#ffc100"/>
<rect x="431.98" y="380.14" width="3.56" height="25.53" fill="#ffc100"/>
<rect x="431.98" y="355.66" width="3.56" height="25.53" fill="#ffc100"/>
<rect x="431.98" y="331.18" width="3.56" height="25.53" fill="#ffc100"/>
<rect x="431.98" y="306.70" width="3.56" height="25.53" fill="#ffab00"/>
<rect x="431.98" y="282.22" width="3.56" height="25.53" fill="#ffab00"/>
<rect x="431.98" y="257.74" width="3.56" height="25.53" fill="#ff8000"/>
<rect x="431.98" y="240.60" width="3.56" height="18.19" fill="#ff9600"/>
<rect x="434.48" y="527.02" width="3.56" height="23.78" fill="#ffc100"/>
<rect x="434.48" y="502.54" width="3.56" height="25.53" fill="#ffc100"/>
<rect x="434.48" y="478.06" width="3.56" height="25.53" fill="#ffc100"/>
<rect x="434.48" y="453.58" width="3.56" height="25.53" fill="#ffc100"/>
<rect x="434.48" y="429.10" width="3.56" height="25.53" fill="#ffc100"/>
<rect x="434.48" y="404.62" width="3.56" height="25.53" fill="#ffc100"/>
<rect x="434.48" y="380.14" width="3.56" height="25.53" fill="#ffc100"/>
<rect x="434.48" y="355.66" width="3.56" height="25.53" fill="#ffc100"/>
<rect x="434.48" y="331.18" width="3.56" height="25.53" fill="#ffab00"/>
<rect x="434.48" y="306.70" width="3.56" height="25.53" fill="#ffab00"/>
<rect x="434.48" y="282.22" width="3.56" height="25.53" fill="#ffab00"/>
<rect x="434.48" y="257.74" width="3.56" height="25.53" fill="#ff9600"/>
<rect x="434.48" y="245.50" width="3.56" height="13.29" fill="#ff9600"/>
<rect x="436.99" y="527.02" width="3.56" height="23.78" fill="#ffc100"/>
<rect x="436.99" y="502.54" width="3.56" height="25.53" fill="#ff8000"/>
<rect x="436.99" y="478.06" width="3.56" height="25.53" fill="#ff8000"/>
<rect x="436.99" y="453.58" width="3.56" height="25.53" fill="#ffc100"/>
<rect x="436.99" y="429.10" width="3.56" height="25.53" fill="#ffc100"/>
<rect x="436.99" y="404.62" width="3.56" height="25.53" fill="#ffc100"/>
<rect x="436.99" y="380.14" width="3.56" height="25.53" fill="#ffc100"/>
<rect x="436.99" y="355.66" width="3.56" height="25.53" fill="#ff8000"/>
<rect x="436.99" y="331.18" width="3.56" height="25.53" fill="#ffc100"/>
<rect x="436.99" y="306.70" width="3.56" height="25.53" fill="#ffab00"/>
<rect x="436.99" y="282.22" width="3.56" height="25.53" fill="#ffd600"/>
<rect x="436.99" y="279.77" width="3.56" height="3.50" fill="#ffd600"/>
<rect x="439.50" y="527.02" width="3.56" height="23.78" fill="#ffc100"/>
<rect x="439.50" y="502.54" width="3.56" height="25.53" fill="#ffc100"/>
<rect x="439.50" y="478.06" width="3.56" height="25.53" fill="#ffc100"/>
<rect x="439.50" y="453.58" width="3.56" height="25.53" fill="#ffc100"/>
<rect x="439.50" y="429.10" width="3.56" height="25.53" fill="#ffc100"/>
<rect x="439.50" y="404.62" width="3.56" height="25.53" fill="#ff8000"/>
<rect x="439.50" y="380.14" width="3.56" height="25.53" fill="#ff8000"/>
<rect x="439.50" y="355.66" width="3.56" height="25.53" fill="#ff8000"/>
<rect x="439.50" y="331.18" width="3.56" height="25.53" fill="#ffab00"/>
<rect x="439.50" y="306.70" width="3.56" height="25.53" fill="#ffab00"/>
<rect x="439.50" y="282.22" width="3.56" height="25.53" fill="#ff9600"/>
<rect x="439.50" y="279.77" width="3.56" height="3.50" fill="#ff9600"/>
<rect x="442.01" y="527.02" width="3.56" height="23.78" fill="#ffc100"/>
<rect x="442.01" y="502.54" width="3.56" height="25.53" fill="#ffc100"/>
<rect x="442.01" y="478.06" width="3.56" height="25.53" fill="#ffc100"/>
<rect x="442.01" y="453.58" width="3.56" height="25.53" fill="#ffc100"/>
<rect x="442.01" y="429.10" width="3.56" height="25.53" fill="#ffc100"/>
<rect x="442.01" y="404.62" width="3.56" height="25.53" fill="#ffc100"/>
<rect x="442.01" y="380.14" width="3.56" height="25.53" fill="#ffc100"/>
<rect x="442.01" y="355.66" width="3.56" height="25.53" fill="#ffc100"/>
<rect x="442.01" y="331.18" width="3.56" height="25.53" fill="#ffab00"/>
<rect x="442.01" y="306.70" width="3.56" height="25.53" fill="#ffab00"/>
<rect x="442.01" y="282.22" width="3.56" height="25.53" fill="#ffab00"/>
<rect x="442.01" y="274.87" width="3.56" height="8.40" fill="#ff8000"/>
<rect x="444.52" y="527.02" width="3.56" height="23.78" fill="#ffc100"/>
<rect x="444.52" y="502.54" width="3.56" height="25.53" fill="#ffc100"/>
<rect x="444.52" y="478.06" width="3.56" height="25.53" fill="#ffc100"/>
<rect x="444.52" y="453.58" width="3.56" height="25.53" fill="#ffc100"/>
<rect x="444.52" y="429.10" width="3.56" height="25.53" fill="#ffc100"/>
<rect x="444.52" y="404.62" width="3.56" height="25.53" fill="#ffc100"/>
<rect x="444.52" y="380.14" width="3.56" height="25.53" fill="#ffc100"/>
<rect x="444.52" y="355.66" width="3.56" height="25.53" fill="#ffc100"/>
<rect x="444.52" y="331.18" width="3.56" height="25.53" fill="#ffc100"/>
<rect x="444.52" y="306.70" width="3.56" height="25.53" fill="#ffab00"/>
<rect x="444.52" y="287.11" width="3.56" height="20.64" fill="#ff8000"/>
<rect x="447.02" y="527.02" width="3.56" height="23.78" fill="#ffc100"/>
<rect x="447.02" y="502.54" width="3.56" height="25.53" fill="#ffc100"/>
<rect x="447.02" y="478.06" width="3.56" height="25.53" fill="#ffc100"/>
<rect x="447.02" y="453.58" width="3.56" height="25.53" fill="#ffab00"/>
<rect x="447.02" y="429.10" width="3.56" height="25.53" fill="#ffc100"/>
<rect x="447.02" y="404.62" width="3.56" height="25.53" fill="#ffc100"/>
<rect x="447.02" y="380.14" width="3.56" height="25.53" fill="#ffc100"/>
<rect x="447.02" y="355.66" width="3.56" height="25.53" fill="#ffc100"/>
<rect x="447.02" y="331.18" width="3.56" height="25.53" fill="#ffc100"/>
<rect x="447.02" y="311.59" width="3.56" height="20.64" fill="#ffab00"/>
<rect x="449.53" y="527.02" width="3.56" height="23.78" fill="#ffc100"/>
<rect x="449.53" y="502.54" width="3.56" height="25.53" fill="#ffc100"/>
<rect x="449.53" y="478.06" width="3.56" height="25.53" fill="#ffc100"/>
<rect x="449.53" y="453.58" width="3.56" height="25.53" fill="#ffc100"/>
<rect x="449.53" y="429.10" width="3.56" height="25.53" fill="#ffc100"/>
<rect x="449.53" y="404.62" width="3.56" height="25.53" fill="#ffc100"/>
<rect x="449.53" y="380.14" width="3.56" height="25.53" fill="#ffc100"/>
<rect x="449.53" y="355.66" width="3.56" height="25.53" fill="#ffc100"/>
<rect x="449.53" y="331.18" width="3.56" height="25.53" fill="#ffc100"/>
<rect x="449.53" y="311.59" width="3.56" height="20.64" fill="#ffab00"/>
<rect x="452.04" y="527.02" width="3.56" height="23.78" fill="#ffc100"/>
<rect x="452.04" y="502.54" width="3.56" height="25.53" fill="#ffc100"/>
<rect x="452.04" y="478.06" width="3.56" height="25.53" fill="#ffc100"/>
<rect x="452.04" y="453.58" width="3.56" height="25.53" fill="#ffc100"/>
<rect x="452.04" y="429.10" width="3.56" height="25.53" fill="#ffc100"/>
<rect x="452.04" y="404.62" width="3.56" height="25.53" fill="#ffc100"/>
<rect x="452.04" y="380.14" width="3.56" height="25.53" fill="#ffc100"/>
<rect x="452.04" y="355.66" width="3.56" height="25.53" fill="#ffc100"/>
<rect x="452.04" y="343.42" width="3.56" height="13.29" fill="#ffab00"/>
<rect x="454.55" y="527.02" width="3.56" height="23.78" fill="#ffc100"/>
<rect x="454.55" y="502.54" width="3.56" height="25.53" fill="#ffab00"/>
<rect x="454.55" y="478.06" width="3.56" height="25.53" fill="#ffab00"/>
<rect x="454.55" y="453.58" width="3.56" height="25.53" fill="#ffc100"/>
<rect x="454.55" y="429.10" width="3.56" height="25.53" fill="#ffab00"/>
<rect x="454.55" y="404.62" width="3.56" height="25.53" fill="#ffab00"/>
<rect x="454.55" y="380.14" width="3.56" height="25.53" fill="#ffab00"/>
<rect x="454.55" y="355.66" width="3.56" height="25.53" fill="#ffc100"/>
<rect x="454.55" y="343.42" width="3.56" height="13.29" fill="#ffab00"/>
<rect x="457.06" y="527.02" width="3.56" height="23.78" fill="#ffc100"/>
<rect x="457.06" y="502.54" width="3.56" height="25.53" fill="#ffc100"/>
<rect x="457.06" y="478.06" width="3.56" height="25.53" fill="#ffc100"/>
<rect x="457.06" y="453.58" width="3.56" height="25.53" fill="#ffc100"/>
<rect x="457.06" y="429.10" width="3.56" height="25.53" fill="#ffc100"/>
<rect x="457.06" y="404.62" width="3.56" height="25.53" fill="#ffc100"/>
<rect x="457.06" y="380.14" width="3.56" height="25.53" fill="#ffc100"/>
<rect x="457.06" y="355.66" width="3.56" height="25.53" fill="#ffc100"/>
<rect x="457.06" y="350.76" width="3.56" height="5.95" fill="#ffab00"/>
<rect x="459.56" y="527.02" width="3.56" height="23.78" fill="#ffc100"/>
<rect x="459.56" y="502.54" width="3.56" height="25.53" fill="#ffc100"/>
<rect x="459.56" y="478.06" width="3.56" height="25.53" fill="#ffc100"/>
<rect x="459.56" y="453.58" width="3.56" height="25.53" fill="#ffc100"/>
<rect x="459.56" y="429.10" width="3.56" height="25.53" fill="#ffc100"/>
<rect x="459.56" y="404.62" width="3.56" height="25.53" fill="#ffc100"/>
<rect x="459.56" y="380.14" width="3.56" height="25.53" fill="#ffc100"/>
<rect x="459.56" y="363.00" width="3.56" height="18.19" fill="#ffab00"/>
<rect x="462.07" y="527.02" width="3.56" height="23.78" fill="#ffc100"/>
<rect x="462.07" y="502.54" width="3.56" height="25.53" fill="#ff8000"/>
<rect x="462.07" y="478.06" width="3.56" height="25.53" fill="#ff8000"/>
<rect x="462.07" y="453.58" width="3.56" height="25.53" fill="#ffc100"/>
<rect x="462.07" y="429.10" width="3.56" height="25.53" fill="#ffc100"/>
<rect x="462.07" y="404.62" width="3.56" height="25.53" fill="#ffc100"/>
<rect x="462.07" y="380.14" width="3.56" height="25.53" fill="#ffc100"/>
<rect x="462.07" y="372.79" width="3.56" height="8.40" fill="#ffc100"/>
<rect x="464.58" y="527.02" width="3.56" height="23.78" fill="#ff8000"/>
<rect x="464.58" y="502.54" width="3.56" height="25.53" fill="#ff8000"/>
<rect x="464.58" y="478.06" width="3.56" height="25.53" fill="#ff8000"/>
<rect x="464.58" y="453.58" width="3.56" height="25.53" fill="#ffc100"/>
<rect x="464.58" y="429.10" width="3.56" height="25.53" fill="#ffc100"/>
<rect x="464.58" y="404.62" width="3.56" height="25.53" fill="#ffc100"/>
<rect x="464.58" y="389.93" width="3.56" height="15.74" fill="#ffc100"/>
<rect x="467.09" y="527.02" width="3.56" height="23.78" fill="#ffc100"/>
<rect x="467.09" y="502.54" width="3.56" height="25.53" fill="#ff8000"/>
<rect x="467.09" y="478.06" width="3.56" height="25.53" fill="#ffc100"/>
<rect x="467.09" y="453.58" width="3.56" height="25.53" fill="#ffc100"/>
<rect x="467.09" y="429.10" width="3.56" height="25.53" fill="#ffc100"/>
<rect x="467.09" y="426.65" width="3.56" height="3.50" fill="#ffc100"/>
<rect x="469.60" y="527.02" width="3.56" height="23.78" fill="#ffc100"/>
<rect x="469.60" y="502.54" width="3.56" height="25.53" fill="#ffc100"/>
<rect x="469.60" y="478.06" width="3.56" height="25.53" fill="#ffc100"/>
<rect x="469.60" y="453.58" width="3.56" height="25.53" fill="#ffc100"/>
<rect x="469.60" y="446.23" width="3.56" height="8.40" fill="#ffc100"/>
<rect x="472.10" y="527.02" width="3.56" height="23.78" fill="#ffc100"/>
<rect x="472.10" y="502.54" width="3.56" height="25.53" fill="#ffc100"/>
<rect x="472.10" y="478.06" width="3.56" height="25.53" fill="#ffc100"/>
<rect x="472.10" y="453.58" width="3.56" height="25.53" fill="#ffc100"/>
<rect x="472.10" y="446.23" width="3.56" height="8.40" fill="#ffc100"/>
<rect x="474.61" y="527.02" width="3.56" height="23.78" fill="#ffc100"/>
<rect x="474.61" y="502.54" width="3.56" height="25.53" fill="#ffc100"/>
<rect x="474.61" y="478.06" width="3.56" height="25.53" fill="#ffc100"/>
<rect x="474.61" y="453.58" width="3.56" height="25.53" fill="#ffc100"/>
<rect x="474.61" y="436.44" width="3.56" height="18.19" fill="#ffc100"/>
<rect x="477.12" y="527.02" width="3.56" height="23.78" fill="#ffc100"/>
<rect x="477.12" y="502.54" width="3.56" height="25.53" fill="#ffc100"/>
<rect x="477.12" y="478.06" width="3.56" height="25.53" fill="#ffc100"/>
<rect x="477.12" y="453.58" width="3.56" height="25.53" fill="#ffc100"/>
<rect x="477.12" y="429.10" width="3.56" height="25.53" fill="#ffc100"/>
<rect x="477.12" y="424.20" width="3.56" height="5.95" fill="#ffc100"/>
<rect x="479.63" y="527.02" width="3.56" height="23.78" fill="#ffc100"/>
<rect x="479.63" y="502.54" width="3.56" height="25.53" fill="#ffc100"/>
<rect x="479.63" y="478.06" width="3.56" height="25.53" fill="#ffc100"/>
<rect x="479.63" y="453.58" width="3.56" height="25.53" fill="#ffc100"/>
<rect x="479.63" y="443.79" width="3.56" height="10.84" fill="#ffc100"/>
<rect x="482.14" y="527.02" width="3.56" height="23.78" fill="#ffc100"/>
<rect x="482.14" y="502.54" width="3.56" height="25.53" fill="#ffc100"/>
<rect x="482.14" y="478.06" width="3.56" height="25.53" fill="#ffc100"/>
<rect x="482.14" y="453.58" width="3.56" height="25.53" fill="#ffc100"/>
<rect x="482.14" y="443.79" width="3.56" height="10.84" fill="#ffc100"/>
<rect x="484.64" y="527.02" width="3.56" height="23.78" fill="#ffc100"/>
<rect x="484.64" y="502.54" width="3.56" height="25.53" fill="#ffc100"/>
<rect x="484.64" y="480.51" width="3.56" height="23.08" fill="#ffc100"/>
<rect x="487.15" y="527.02" width="3.56" height="23.78" fill="#ffc100"/>
<rect x="487.15" y="502.54" width="3.56" height="25.53" fill="#ffc100"/>
<rect x="487.15" y="478.06" width="3.56" height="25.53" fill="#ffc100"/>
<rect x="489.66" y="527.02" width="3.56" height="23.78" fill="#ffc100"/>
<rect x="489.66" y="502.54" width="3.56" height="25.53" fill="#ffc100"/>
<rect x="489.66" y="478.06" width="3.56" height="25.53" fill="#ffc100"/>
<rect x="492.17" y="527.02" width="3.56" height="23.78" fill="#ffc100"/>
<rect x="492.17" y="502.54" width="3.56" height="25.53" fill="#ffc100"/>
<rect x="492.17" y="478.06" width="3.56" height="25.53" fill="#ffc100"/>
<rect x="494.68" y="527.02" width="3.56" height="23.78" fill="#ffc100"/>
<rect x="494.68" y="502.54" width="3.56" height="25.53" fill="#ffc100"/>
<rect x="494.68" y="478.06" width="3.56" height="25.53" fill="#ffc100"/>
<rect x="494.68" y="453.58" width="3.56" height="25.53" fill="#ffc100"/>
<rect x="494.68" y="448.68" width="3.56" height="5.95" fill="#ffc100"/>
<rect x="497.18" y="527.02" width="3.56" height="23.78" fill="#ff8000"/>
<rect x="497.18" y="502.54" width="3.56" height="25.53" fill="#ff8000"/>
<rect x="497.18" y="478.06" width="3.56" height="25.53" fill="#ff8000"/>
<rect x="497.18" y="453.58" width="3.56" height="25.53" fill="#ff5500"/>
<rect x="497.18" y="448.68" width="3.56" height="5.95" fill="#ff5500"/>
<rect x="499.69" y="527.02" width="3.56" height="23.78" fill="#ffc100"/>
<rect x="499.69" y="502.54" width="3.56" height="25.53" fill="#ffc100"/>
<rect x="499.69" y="478.06" width="3.56" height="25.53" fill="#ffc100"/>
<rect x="499.69" y="453.58" width="3.56" height="25.53" fill="#ffc100"/>
<rect x="502.20" y="527.02" width="3.56" height="23.78" fill="#ffc100"/>
<rect x="502.20" y="502.54" width="3.56" height="25.53" fill="#ffc100"/>
<rect x="502.20" y="478.06" width="3.56" height="25.53" fill="#ffc100"/>
<rect x="502.20" y="453.58" width="3.56" height="25.53" fill="#ffc100"/>
<rect x="504.71" y="527.02" width="3.56" height="23.78" fill="#ffc100"/>
<rect x="504.71" y="502.54" width="3.56" height="25.53" fill="#ffc100"/>
<rect x="504.71" y="478.06" width="3.56" height="25.53" fill="#ffc100"/>
<rect x="504.71" y="456.03" width="3.56" height="23.08" fill="#ffc100"/>
<rect x="507.22" y="527.02" width="3.56" height="23.78" fill="#ffc100"/>
<rect x="507.22" y="502.54" width="3.56" height="25.53" fill="#ffc100"/>
<rect x="507.22" y="478.06" width="3.56" height="25.53" fill="#ffc100"/>
<rect x="507.22" y="456.03" width="3.56" height="23.08" fill="#ffc100"/>
<rect x="509.72" y="527.02" width="3.56" height="23.78" fill="#ffc100"/>
<rect x="509.72" y="502.54" width="3.56" height="25.53" fill="#ffc100"/>
<rect x="509.72" y="478.06" width="3.56" height="25.53" fill="#ffc100"/>
<rect x="509.72" y="458.47" width="3.56" height="20.64" fill="#ffc100"/>
<rect x="512.23" y="527.02" width="3.56" height="23.78" fill="#ffc100"/>
<rect x="512.23" y="502.54" width="3.56" height="25.53" fill="#ffc100"/>
<rect x="512.23" y="478.06" width="3.56" height="25.53" fill="#ffc100"/>
<rect x="512.23" y="458.47" width="3.56" height="20.64" fill="#ffc100"/>
<rect x="514.74" y="527.02" width="3.56" height="23.78" fill="#ffc100"/>
<rect x="514.74" y="502.54" width="3.56" height="25.53" fill="#ffc100"/>
<rect x="514.74" y="478.06" width="3.56" height="25.53" fill="#ffc100"/>
<rect x="514.74" y="470.71" width="3.56" height="8.40" fill="#ffc100"/>
<rect x="517.25" y="527.02" width="3.56" height="23.78" fill="#ffc100"/>
<rect x="517.25" y="502.54" width="3.56" height="25.53" fill="#ffc100"/>
<rect x="517.25" y="478.06" width="3.56" height="25.53" fill="#ffc100"/>
<rect x="517.25" y="470.71" width="3.56" height="8.40" fill="#ffc100"/>
<rect x="519.76" y="527.02" width="3.56" height="23.78" fill="#ffc100"/>
<rect x="519.76" y="502.54" width="3.56" height="25.53" fill="#ffc100"/>
<rect x="519.76" y="478.06" width="3.56" height="25.53" fill="#ffc100"/>
<rect x="519.76" y="470.71" width="3.56" height="8.40" fill="#ffc100"/>
<rect x="522.26" y="527.02" width="3.56" height="23.78" fill="#ffc100"/>
<rect x="522.26" y="502.54" width="3.56" height="25.53" fill="#ffc100"/>
<rect x="522.26" y="478.06" width="3.56" height="25.53" fill="#ffc100"/>
<rect x="522.26" y="473.16" width="3.56" height="5.95" fill="#ffc100"/>
<rect x="524.77" y="527.02" width="3.56" height="23.78" fill="#ffc100"/>
<rect x="524.77" y="502.54" width="3.56" height="25.53" fill="#ffc100"/>
<rect x="524.77" y="478.06" width="3.56" height="25.53" fill="#ffc100"/>
<rect x="524.77" y="473.16" width="3.56" height="5.95" fill="#ffc100"/>
<rect x="527.28" y="527.02" width="3.56" height="23.78" fill="#ffc100"/>
<rect x="527.28" y="502.54" width="3.56" height="25.53" fill="#ffc100"/>
<rect x="527.28" y="478.06" width="3.56" height="25.53" fill="#ffc100"/>
<rect x="527.28" y="473.16" width="3.56" height="5.95" fill="#ffc100"/>
<rect x="529.79" y="527.02" width="3.56" height="23.78" fill="#ffc100"/>
<rect x="529.79" y="502.54" width="3.56" height="25.53" fill="#ffc100"/>
<rect x="529.79" y="478.06" width="3.56" height="25.53" fill="#ffc100"/>
<rect x="529.79" y="475.61" width="3.56" height="3.50" fill="#ffc100"/>
<rect x="532.30" y="527.02" width="3.56" height="23.78" fill="#ffc100"/>
<rect x="532.30" y="522.12" width="3.56" height="5.95" fill="#ffc100"/>
<rect x="534.80" y="527.02" width="3.56" height="23.78" fill="#ffab00"/>
<rect x="534.80" y="522.12" width="3.56" height="5.95" fill="#ffc100"/>
<rect x="537.31" y="527.02" width="3.56" height="23.78" fill="#ff9600"/>
<rect x="537.31" y="517.23" width="3.56" height="10.84" fill="#ff9600"/>
<rect x="539.82" y="527.02" width="3.56" height="23.78" fill="#ffc100"/>
<rect x="539.82" y="512.33" width="3.56" height="15.74" fill="#ffc100"/>
<rect x="542.33" y="527.02" width="3.56" height="23.78" fill="#ffc100"/>
<rect x="542.33" y="514.78" width="3.56" height="13.29" fill="#ffc100"/>
<rect x="544.84" y="527.02" width="3.56" height="23.78" fill="#ffc100"/>
<rect x="544.84" y="514.78" width="3.56" height="13.29" fill="#ffc100"/>
<rect x="547.34" y="527.02" width="3.56" height="23.78" fill="#ff9600"/>
<rect x="547.34" y="514.78" width="3.56" height="13.29" fill="#ffc100"/>
<rect x="549.85" y="527.02" width="3.56" height="23.78" fill="#ffc100"/>
<rect x="549.85" y="514.78" width="3.56" height="13.29" fill="#ffc100"/>
<rect x="552.36" y="527.02" width="3.56" height="23.78" fill="#ffc100"/>
<rect x="552.36" y="519.67" width="3.56" height="8.40" fill="#ffd600"/>
<rect x="554.87" y="527.02" width="3.56" height="23.78" fill="#ffc100"/>
<rect x="554.87" y="524.57" width="3.56" height="3.50" fill="#ffc100"/>
<rect x="557.38" y="527.02" width="3.56" height="23.78" fill="#ffc100"/>
<rect x="557.38" y="524.57" width="3.56" height="3.50" fill="#ffc100"/>
<rect x="559.88" y="529.47" width="3.56" height="21.33" fill="#ffc100"/>
<rect x="562.39" y="531.91" width="3.56" height="18.89" fill="#ffc100"/>
<rect x="564.90" y="531.91" width="3.56" height="18.89" fill="#ffc100"/>
<rect x="567.41" y="539.26" width="3.56" height="11.54" fill="#ffab00"/>
<rect x="569.92" y="539.26" width="3.56" height="11.54" fill="#ffc100"/>
<rect x="572.42" y="544.15" width="3.56" height="6.65" fill="#ffc100"/>
<path fill="#000080" d="M352.15 546.60h2.71v4.20h-2.71zM354.65 549.05h2.71v1.75h-2.71z"/>
<path fill="#00009a" d="M352.15 541.71h2.71v5.95h-2.71zM354.65 546.60h2.71v3.50h-2.71z"/>
<path fill="#0000b4" d="M352.15 536.81h2.71v5.95h-2.71zM354.65 541.71h2.71v5.95h-2.71z"/>
<path fill="#0000cf" d="M349.64 549.05h2.71v1.75h-2.71zM352.15 531.91h2.71v5.95h-2.71zM354.65 534.36h2.71v8.40h-2.71z"/>
<path fill="#0000e9" d="M349.64 544.15h2.71v5.95h-2.71zM352.15 527.02h2.71v5.95h-2.71zM354.65 531.91h2.71v3.50h-2.71z"/>
<path fill="#0000ff" d="M349.64 539.26h2.71v5.95h-2.71zM352.15 519.67h2.71v8.40h-2.71zM354.65 527.02h2.71v5.95h-2.71z"/>
<path fill="#000cff" d="M347.13 541.71h2.71v9.09h-2.71zM349.64 531.91h2.71v8.40h-2.71zM352.15 512.33h2.71v8.40h-2.71zM354.65 519.67h2.71v8.40h-2.71zM357.16 546.60h2.71v4.20h-2.71zM357.16 534.36h2.71v8.40h-2.71z"/>
<path fill="#0023ff" d="M347.13 527.02h2.71v15.74h-2.71zM349.64 524.57h2.71v8.40h-2.71zM352.15 507.43h2.71v5.95h-2.71zM354.65 514.78h2.71v5.95h-2.71zM357.16 541.71h2.71v5.95h-2.71zM394.78 517.23h2.71v5.95h-2.71z"/>
<path fill="#003aff" d="M347.13 512.33h2.71v15.74h-2.71zM349.64 517.23h2.71v8.40h-2.71zM352.15 497.64h2.71v10.84h-2.71zM354.65 504.99h2.71v10.84h-2.71zM357.16 529.47h2.71v5.95h-2.71z"/>
<path fill="#0052ff" d="M309.51 500.09h2.71v10.84h-2.71zM312.02 531.91h2.71v18.89h-2.71zM312.02 478.06h2.71v42.67h-2.71zM312.02 451.13h2.71v10.84h-2.71zM337.10 514.78h2.71v36.02h-2.71zM347.13 492.75h2.71v20.64h-2.71zM349.64 507.43h2.71v10.84h-2.71zM352.15 487.85h2.71v10.84h-2.71zM354.65 492.75h2.71v13.29h-2.71zM357.16 519.67h2.71v10.84h-2.71zM394.78 522.12h2.71v28.68h-2.71zM394.78 480.51h2.71v5.95h-2.71z"/>
<path fill="#0069ff" d="M312.02 519.67h2.71v13.29h-2.71zM312.02 460.92h2.71v18.19h-2.71zM334.59 517.23h2.71v33.57h-2.71zM347.13 478.06h2.71v15.74h-2.71zM349.64 500.09h2.71v8.40h-2.71zM352.15 478.06h2.71v10.84h-2.71zM354.65 482.95h2.71v10.84h-2.71zM357.16 509.88h2.71v10.84h-2.71zM364.69 514.78h2.71v23.08h-2.71zM364.69 482.95h2.71v10.84h-2.71zM394.78 490.30h2.71v27.98h-2.71zM394.78 456.03h2.71v3.50h-2.71z"/>
<path fill="#0080ff" d="M312.02 443.79h2.71v8.40h-2.71zM334.59 495.19h2.71v23.08h-2.71zM334.59 478.06h2.71v10.84h-2.71zM337.10 485.40h2.71v30.43h-2.71zM347.13 470.71h2.71v8.40h-2.71zM349.64 487.85h2.71v13.29h-2.71zM352.15 468.27h2.71v10.84h-2.71zM354.65 468.27h2.71v15.74h-2.71zM357.16 495.19h2.71v15.74h-2.71zM359.67 534.36h2.71v16.44h-2.71zM359.67 524.57h2.71v8.40h-2.71zM364.69 536.81h2.71v13.99h-2.71zM364.69 492.75h2.71v23.08h-2.71zM394.78 485.40h2.71v5.95h-2.71zM394.78 463.37h2.71v18.19h-2.71zM394.78 453.58h2.71v3.50h-2.71z"/>
<path fill="#0097ff" d="M312.02 431.55h2.71v13.29h-2.71zM334.59 487.85h2.71v8.40h-2.71zM334.59 468.27h2.71v10.84h-2.71zM337.10 468.27h2.71v18.19h-2.71zM344.62 541.71h2.71v9.09h-2.71zM347.13 465.82h2.71v5.95h-2.71zM349.64 475.61h2.71v13.29h-2.71zM352.15 458.47h2.71v10.84h-2.71zM354.65 460.92h2.71v8.40h-2.71zM357.16 480.51h2.71v15.74h-2.71zM359.67 531.91h2.71v3.50h-2.71zM359.67 502.54h2.71v23.08h-2.71zM364.69 470.71h2.71v13.29h-2.71zM372.21 509.88h2.71v18.19h-2.71zM394.78 458.47h2.71v5.95h-2.71zM394.78 446.23h2.71v8.40h-2.71zM394.78 414.41h2.71v8.40h-2.71z"/>
<path fill="#00aeff" d="M312.02 421.75h2.71v10.84h-2.71zM312.02 409.51h2.71v5.95h-2.71zM319.54 519.67h2.71v31.13h-2.71zM319.54 480.51h2.71v5.95h-2.71zM334.59 463.37h2.71v5.95h-2.71zM337.10 460.92h2.71v8.40h-2.71zM342.11 519.67h2.71v31.13h-2.71zM344.62 504.99h2.71v37.77h-2.71zM347.13 456.03h2.71v10.84h-2.71zM349.64 456.03h2.71v20.64h-2.71zM352.15 448.68h2.71v10.84h-2.71zM354.65 448.68h2.71v13.29h-2.71zM357.16 470.71h2.71v10.84h-2.71zM359.67 480.51h2.71v23.08h-2.71zM362.18 512.33h2.71v38.47h-2.71zM364.69 463.37h2.71v8.40h-2.71zM372.21 502.54h2.71v8.40h-2.71zM392.27 490.30h2.71v60.50h-2.71zM392.27 480.51h2.71v5.95h-2.71zM394.78 433.99h2.71v13.29h-2.71zM397.29 482.95h2.71v67.85h-2.71z"/>
<path fill="#00c6ff" d="M309.51 509.88h2.71v40.92h-2.71zM309.51 468.27h2.71v32.88h-2.71zM312.02 414.41h2.71v8.40h-2.71zM312.02 399.72h2.71v10.84h-2.71zM319.54 485.40h2.71v35.32h-2.71zM319.54 468.27h2.71v13.29h-2.71zM322.05 468.27h2.71v82.53h-2.71zM334.59 456.03h2.71v8.40h-2.71zM337.10 451.13h2.71v10.84h-2.71zM339.61 504.99h2.71v45.81h-2.71zM339.61 490.30h2.71v10.84h-2.71zM342.11 502.54h2.71v18.19h-2.71zM342.11 492.75h2.71v5.95h-2.71zM344.62 478.06h2.71v27.98h-2.71zM347.13 451.13h2.71v5.95h-2.71zM349.64 446.23h2.71v10.84h-2.71zM352.15 438.89h2.71v10.84h-2.71zM354.65 441.34h2.71v8.40h-2.71zM357.16 451.13h2.71v20.64h-2.71zM359.67 465.82h2.71v15.74h-2.71zM362.18 485.40h2.71v27.98h-2.71zM364.69 456.03h2.71v8.40h-2.71zM367.19 495.19h2.71v55.61h-2.71zM369.70 490.30h2.71v60.50h-2.71zM372.21 527.02h2.71v23.78h-2.71zM372.21 490.30h2.71v13.29h-2.71zM392.27 463.37h2.71v18.19h-2.71zM394.78 421.75h2.71v13.29h-2.71zM394.78 409.51h2.71v5.95h-2.71zM394.78 375.24h2.71v5.95h-2.71zM397.29 465.82h2.71v18.19h-2.71z"/>
<path fill="#00ddfe" d="M319.54 436.44h2.71v32.88h-2.71zM322.05 436.44h2.71v23.08h-2.71zM322.05 407.07h2.71v5.95h-2.71zM334.59 446.23h2.71v10.84h-2.71zM337.10 446.23h2.71v5.95h-2.71zM339.61 500.09h2.71v5.95h-2.71zM339.61 460.92h2.71v30.43h-2.71zM342.11 497.64h2.71v5.95h-2.71zM342.11 460.92h2.71v32.88h-2.71zM344.62 456.03h2.71v23.08h-2.71zM347.13 443.79h2.71v8.40h-2.71zM349.64 433.99h2.71v13.29h-2.71zM352.15 433.99h2.71v5.95h-2.71zM354.65 431.55h2.71v10.84h-2.71zM357.16 436.44h2.71v15.74h-2.71zM359.67 448.68h2.71v18.19h-2.71zM362.18 458.47h2.71v27.98h-2.71zM364.69 446.23h2.71v10.84h-2.71zM367.19 460.92h2.71v35.32h-2.71zM369.70 470.71h2.71v20.64h-2.71zM372.21 458.47h2.71v32.88h-2.71zM384.75 492.75h2.71v18.19h-2.71zM387.26 507.43h2.71v23.08h-2.71zM392.27 485.40h2.71v5.95h-2.71zM392.27 448.68h2.71v15.74h-2.71zM394.78 399.72h2.71v10.84h-2.71zM397.29 460.92h2.71v5.95h-2.71zM402.31 463.37h2.71v3.50h-2.71z"/>
<path fill="#0cf4eb" d="M309.51 446.23h2.71v23.08h-2.71zM309.51 421.75h2.71v18.19h-2.71zM312.02 397.27h2.71v3.50h-2.71zM319.54 429.10h2.71v8.40h-2.71zM319.54 414.41h2.71v5.95h-2.71zM319.54 394.83h2.71v5.95h-2.71zM322.05 458.47h2.71v10.84h-2.71zM322.05 414.41h2.71v23.08h-2.71zM334.59 438.89h2.71v8.40h-2.71zM337.10 436.44h2.71v10.84h-2.71zM339.61 436.44h2.71v25.53h-2.71zM342.11 436.44h2.71v25.53h-2.71zM342.11 426.65h2.71v5.95h-2.71zM344.62 433.99h2.71v23.08h-2.71zM347.13 436.44h2.71v8.40h-2.71zM349.64 424.20h2.71v10.84h-2.71zM352.15 421.75h2.71v13.29h-2.71zM354.65 426.65h2.71v5.95h-2.71zM354.65 414.41h2.71v5.95h-2.71zM357.16 426.65h2.71v10.84h-2.71zM357.16 394.83h2.71v10.84h-2.71zM359.67 431.55h2.71v18.19h-2.71zM362.18 436.44h2.71v23.08h-2.71zM364.69 436.44h2.71v10.84h-2.71zM367.19 436.44h2.71v25.53h-2.71zM369.70 448.68h2.71v23.08h-2.71zM369.70 436.44h2.71v3.50h-2.71zM372.21 448.68h2.71v10.84h-2.71zM372.21 436.44h2.71v10.84h-2.71zM384.75 509.88h2.71v40.92h-2.71zM384.75 485.40h2.71v8.40h-2.71zM387.26 529.47h2.71v21.33h-2.71zM387.26 458.47h2.71v50.01h-2.71zM387.26 409.51h2.71v3.50h-2.71zM392.27 438.89h2.71v10.84h-2.71zM394.78 392.38h2.71v8.40h-2.71zM397.29 458.47h2.71v3.50h-2.71zM397.29 443.79h2.71v10.84h-2.71zM402.31 456.03h2.71v8.40h-2.71zM407.32 473.16h2.71v13.29h-2.71z"/>
<path fill="#1effd8" d="M289.45 536.81h2.71v13.99h-2.71zM294.46 529.47h2.71v13.29h-2.71zM294.46 475.61h2.71v8.40h-2.71zM294.46 465.82h2.71v3.50h-2.71zM309.51 438.89h2.71v8.40h-2.71zM309.51 407.07h2.71v15.74h-2.71zM312.02 389.93h2.71v8.40h-2.71zM319.54 424.20h2.71v5.95h-2.71zM319.54 399.72h2.71v15.74h-2.71zM322.05 411.96h2.71v3.50h-2.71zM334.59 411.96h2.71v27.98h-2.71zM337.10 411.96h2.71v25.53h-2.71zM337.10 402.17h2.71v5.95h-2.71zM337.10 372.79h2.71v18.19h-2.71zM339.61 411.96h2.71v25.53h-2.71zM342.11 431.55h2.71v5.95h-2.71zM342.11 411.96h2.71v15.74h-2.71zM344.62 421.75h2.71v13.29h-2.71zM344.62 411.96h2.71v5.95h-2.71zM347.13 409.51h2.71v27.98h-2.71zM349.64 404.62h2.71v20.64h-2.71zM352.15 394.83h2.71v27.98h-2.71zM354.65 419.31h2.71v8.40h-2.71zM354.65 402.17h2.71v13.29h-2.71zM357.16 411.96h2.71v15.74h-2.71zM357.16 392.38h2.71v3.50h-2.71zM359.67 409.51h2.71v23.08h-2.71zM362.18 411.96h2.71v25.53h-2.71zM364.69 411.96h2.71v25.53h-2.71zM367.19 411.96h2.71v25.53h-2.71zM369.70 438.89h2.71v10.84h-2.71zM369.70 414.41h2.71v23.08h-2.71zM372.21 446.23h2.71v3.50h-2.71zM372.21 411.96h2.71v25.53h-2.71zM384.75 463.37h2.71v23.08h-2.71zM387.26 419.31h2.71v40.22h-2.71zM387.26 402.17h2.71v8.40h-2.71zM389.77 360.55h2.71v5.95h-2.71zM392.27 429.10h2.71v10.84h-2.71zM394.78 385.03h2.71v8.40h-2.71zM397.29 453.58h2.71v5.95h-2.71zM397.29 436.44h2.71v8.40h-2.71zM404.81 380.14h2.71v5.95h-2.71z"/>
<path fill="#31ffc6" d="M294.46 541.71h2.71v9.09h-2.71zM294.46 482.95h2.71v47.56h-2.71zM294.46 458.47h2.71v8.40h-2.71zM296.97 485.40h2.71v65.40h-2.71zM299.48 485.40h2.71v65.40h-2.71zM309.51 394.83h2.71v13.29h-2.71zM312.02 382.59h2.71v8.40h-2.71zM319.54 419.31h2.71v5.95h-2.71zM319.54 382.59h2.71v13.29h-2.71zM319.54 365.45h2.71v5.95h-2.71zM322.05 404.62h2.71v3.50h-2.71zM322.05 382.59h2.71v3.50h-2.71zM334.59 385.03h2.71v27.98h-2.71zM337.10 407.07h2.71v5.95h-2.71zM337.10 389.93h2.71v13.29h-2.71zM337.10 365.45h2.71v8.40h-2.71zM339.61 385.03h2.71v27.98h-2.71zM342.11 372.79h2.71v40.22h-2.71zM344.62 416.86h2.71v5.95h-2.71zM344.62 385.03h2.71v27.98h-2.71zM347.13 382.59h2.71v27.98h-2.71zM349.64 380.14h2.71v25.53h-2.71zM352.15 380.14h2.71v15.74h-2.71zM354.65 370.35h2.71v32.88h-2.71zM357.16 404.62h2.71v8.40h-2.71zM357.16 382.59h2.71v10.84h-2.71zM359.67 382.59h2.71v27.98h-2.71zM362.18 394.83h2.71v18.19h-2.71zM362.18 375.24h2.71v15.74h-2.71zM364.69 397.27h2.71v15.74h-2.71zM364.69 385.03h2.71v8.40h-2.71zM367.19 385.03h2.71v27.98h-2.71zM369.70 397.27h2.71v18.19h-2.71zM369.70 375.24h2.71v5.95h-2.71zM372.21 385.03h2.71v27.98h-2.71zM384.75 448.68h2.71v15.74h-2.71zM387.26 411.96h2.71v8.40h-2.71zM387.26 394.83h2.71v8.40h-2.71zM389.77 355.66h2.71v5.95h-2.71zM392.27 419.31h2.71v10.84h-2.71zM394.78 380.14h2.71v5.95h-2.71zM397.29 426.65h2.71v10.84h-2.71z"/>
<path fill="#44ffb3" d="M289.45 404.62h2.71v5.95h-2.71zM294.46 468.27h2.71v8.40h-2.71zM294.46 451.13h2.71v8.40h-2.71zM294.46 429.10h2.71v10.84h-2.71zM296.97 460.92h2.71v25.53h-2.71zM299.48 460.92h2.71v25.53h-2.71zM309.51 385.03h2.71v10.84h-2.71zM309.51 358.11h2.71v8.40h-2.71zM312.02 377.69h2.71v5.95h-2.71zM319.54 370.35h2.71v13.29h-2.71zM322.05 389.93h2.71v15.74h-2.71zM322.05 370.35h2.71v13.29h-2.71zM324.56 211.23h2.71v3.50h-2.71zM329.57 355.66h2.71v10.84h-2.71zM332.08 365.45h2.71v3.50h-2.71zM332.08 225.91h2.71v3.50h-2.71zM332.08 218.57h2.71v3.50h-2.71zM334.59 355.66h2.71v30.43h-2.71zM334.59 225.91h2.71v3.50h-2.71zM337.10 355.66h2.71v10.84h-2.71zM337.10 198.99h2.71v5.95h-2.71zM339.61 355.66h2.71v30.43h-2.71zM339.61 233.26h2.71v3.50h-2.71zM339.61 221.02h2.71v3.50h-2.71zM339.61 216.12h2.71v3.50h-2.71zM342.11 353.21h2.71v20.64h-2.71zM342.11 245.50h2.71v3.50h-2.71zM342.11 230.81h2.71v3.50h-2.71zM342.11 208.78h2.71v3.50h-2.71zM344.62 355.66h2.71v30.43h-2.71zM344.62 216.12h2.71v3.50h-2.71zM344.62 208.78h2.71v3.50h-2.71zM344.62 196.54h2.71v3.50h-2.71zM347.13 365.45h2.71v18.19h-2.71zM347.13 230.81h2.71v3.50h-2.71zM347.13 216.12h2.71v3.50h-2.71zM349.64 355.66h2.71v25.53h-2.71zM349.64 208.78h2.71v3.50h-2.71zM349.64 203.88h2.71v3.50h-2.71zM352.15 345.87h2.71v35.32h-2.71zM352.15 238.15h2.71v3.50h-2.71zM352.15 223.47h2.71v3.50h-2.71zM354.65 336.07h2.71v35.32h-2.71zM354.65 228.36h2.71v3.50h-2.71zM354.65 216.12h2.71v3.50h-2.71zM357.16 367.90h2.71v15.74h-2.71zM357.16 355.66h2.71v10.84h-2.71zM357.16 228.36h2.71v3.50h-2.71zM357.16 218.57h2.71v5.95h-2.71zM357.16 206.33h2.71v3.50h-2.71zM359.67 355.66h2.71v27.98h-2.71zM359.67 211.23h2.71v3.50h-2.71zM362.18 389.93h2.71v5.95h-2.71zM362.18 355.66h2.71v20.64h-2.71zM362.18 233.26h2.71v3.50h-2.71zM362.18 211.23h2.71v3.50h-2.71zM362.18 201.43h2.71v3.50h-2.71zM364.69 392.38h2.71v5.95h-2.71zM364.69 355.66h2.71v30.43h-2.71zM364.69 240.60h2.71v3.50h-2.71zM364.69 233.26h2.71v3.50h-2.71zM364.69 225.91h2.71v3.50h-2.71zM364.69 221.02h2.71v3.50h-2.71zM364.69 213.67h2.71v3.50h-2.71zM364.69 206.33h2.71v3.50h-2.71zM367.19 365.45h2.71v20.64h-2.71zM367.19 225.91h2.71v5.95h-2.71zM367.19 208.78h2.71v3.50h-2.71zM367.19 201.43h2.71v3.50h-2.71zM369.70 380.14h2.71v18.19h-2.71zM369.70 355.66h2.71v20.64h-2.71zM372.21 355.66h2.71v30.43h-2.71zM372.21 228.36h2.71v5.95h-2.71zM372.21 221.02h2.71v3.50h-2.71zM372.21 198.99h2.71v3.50h-2.71zM374.72 463.37h2.71v23.08h-2.71zM374.72 355.66h2.71v13.29h-2.71zM374.72 230.81h2.71v3.50h-2.71zM374.72 223.47h2.71v3.50h-2.71zM374.72 213.67h2.71v3.50h-2.71zM374.72 203.88h2.71v3.50h-2.71zM374.72 198.99h2.71v3.50h-2.71zM377.23 355.66h2.71v13.29h-2.71zM377.23 213.67h2.71v3.50h-2.71zM377.23 206.33h2.71v3.50h-2.71zM377.23 198.99h2.71v3.50h-2.71zM382.24 208.78h2.71v3.50h-2.71zM384.75 436.44h2.71v13.29h-2.71zM387.26 372.79h2.71v23.08h-2.71zM392.27 411.96h2.71v8.40h-2.71zM394.78 372.79h2.71v3.50h-2.71zM394.78 350.76h2.71v8.40h-2.71zM397.29 421.75h2.71v5.95h-2.71zM402.31 482.95h2.71v20.64h-2.71zM404.81 482.95h2.71v37.77h-2.71zM407.32 529.47h2.71v5.95h-2.71zM409.83 480.51h2.71v5.95h-2.71z"/>
<path fill="#57ffa0" d="M289.45 402.17h2.71v3.50h-2.71zM294.46 438.89h2.71v13.29h-2.71zM296.97 446.23h2.71v15.74h-2.71zM299.48 451.13h2.71v10.84h-2.71zM309.51 375.24h2.71v10.84h-2.71zM309.51 350.76h2.71v8.40h-2.71zM312.02 370.35h2.71v8.40h-2.71zM319.54 358.11h2.71v8.40h-2.71zM319.54 211.23h2.71v10.84h-2.71zM322.05 385.03h2.71v5.95h-2.71zM322.05 345.87h2.71v25.53h-2.71zM322.05 304.25h2.71v13.29h-2.71zM329.57 301.80h2.71v54.91h-2.71zM332.08 367.90h2.71v8.40h-2.71zM332.08 340.97h2.71v25.53h-2.71zM334.59 321.39h2.71v35.32h-2.71zM337.10 321.39h2.71v35.32h-2.71zM339.61 331.18h2.71v25.53h-2.71zM342.11 333.63h2.71v20.64h-2.71zM344.62 321.39h2.71v35.32h-2.71zM347.13 340.97h2.71v25.53h-2.71zM347.13 321.39h2.71v8.40h-2.71zM349.64 323.83h2.71v32.88h-2.71zM349.64 301.80h2.71v10.84h-2.71zM352.15 321.39h2.71v25.53h-2.71zM352.15 309.15h2.71v8.40h-2.71zM354.65 321.39h2.71v15.74h-2.71zM357.16 365.45h2.71v3.50h-2.71zM357.16 321.39h2.71v35.32h-2.71zM359.67 340.97h2.71v15.74h-2.71zM359.67 301.80h2.71v27.98h-2.71zM362.18 321.39h2.71v35.32h-2.71zM364.69 321.39h2.71v35.32h-2.71zM367.19 331.18h2.71v35.32h-2.71zM367.19 321.39h2.71v3.50h-2.71zM369.70 321.39h2.71v35.32h-2.71zM372.21 321.39h2.71v35.32h-2.71zM374.72 367.90h2.71v18.19h-2.71zM374.72 321.39h2.71v35.32h-2.71zM377.23 367.90h2.71v10.84h-2.71zM377.23 340.97h2.71v15.74h-2.71zM377.23 301.80h2.71v20.64h-2.71zM384.75 426.65h2.71v10.84h-2.71zM387.26 358.11h2.71v8.40h-2.71zM389.77 365.45h2.71v3.50h-2.71zM392.27 404.62h2.71v8.40h-2.71zM394.78 365.45h2.71v8.40h-2.71zM394.78 338.52h2.71v13.29h-2.71zM397.29 414.41h2.71v8.40h-2.71zM402.31 502.54h2.71v48.26h-2.71zM402.31 465.82h2.71v8.40h-2.71zM402.31 448.68h2.71v8.40h-2.71zM402.31 389.93h2.71v32.88h-2.71zM404.81 519.67h2.71v31.13h-2.71zM404.81 448.68h2.71v35.32h-2.71zM404.81 389.93h2.71v3.50h-2.71zM407.32 534.36h2.71v16.44h-2.71zM407.32 485.40h2.71v45.12h-2.71zM409.83 485.40h2.71v65.40h-2.71z"/>
<path fill="#69ff8d" d="M289.45 365.45h2.71v8.40h-2.71zM291.95 443.79h2.71v5.95h-2.71zM291.95 372.79h2.71v8.40h-2.71zM294.46 419.31h2.71v10.84h-2.71zM296.97 443.79h2.71v3.50h-2.71zM296.97 433.99h2.71v3.50h-2.71zM299.48 433.99h2.71v13.29h-2.71zM309.51 365.45h2.71v10.84h-2.71zM309.51 340.97h2.71v10.84h-2.71zM312.02 365.45h2.71v5.95h-2.71zM319.54 338.52h2.71v10.84h-2.71zM319.54 152.47h2.71v10.84h-2.71zM322.05 316.49h2.71v30.43h-2.71zM322.05 299.35h2.71v5.95h-2.71zM329.57 365.45h2.71v5.95h-2.71zM329.57 284.67h2.71v18.19h-2.71zM332.08 375.24h2.71v10.84h-2.71zM332.08 287.11h2.71v54.91h-2.71zM334.59 304.25h2.71v18.19h-2.71zM337.10 287.11h2.71v35.32h-2.71zM339.61 309.15h2.71v23.08h-2.71zM339.61 267.53h2.71v30.43h-2.71zM342.11 309.15h2.71v25.53h-2.71zM342.11 287.11h2.71v15.74h-2.71zM342.11 262.63h2.71v8.40h-2.71zM344.62 287.11h2.71v35.32h-2.71zM347.13 328.73h2.71v13.29h-2.71zM347.13 289.56h2.71v32.88h-2.71zM349.64 311.59h2.71v13.29h-2.71zM349.64 287.11h2.71v15.74h-2.71zM352.15 316.49h2.71v5.95h-2.71zM354.65 287.11h2.71v35.32h-2.71zM357.16 287.11h2.71v35.32h-2.71zM359.67 328.73h2.71v13.29h-2.71zM359.67 262.63h2.71v40.22h-2.71zM362.18 292.01h2.71v30.43h-2.71zM364.69 299.35h2.71v23.08h-2.71zM364.69 287.11h2.71v3.50h-2.71zM367.19 323.83h2.71v8.40h-2.71zM367.19 272.43h2.71v50.01h-2.71zM367.19 262.63h2.71v3.50h-2.71zM369.70 274.87h2.71v47.56h-2.71zM372.21 274.87h2.71v47.56h-2.71zM374.72 385.03h2.71v10.84h-2.71zM374.72 287.11h2.71v35.32h-2.71zM377.23 377.69h2.71v10.84h-2.71zM377.23 321.39h2.71v20.64h-2.71zM377.23 262.63h2.71v40.22h-2.71zM384.75 419.31h2.71v8.40h-2.71zM384.75 235.71h2.71v15.74h-2.71zM387.26 365.45h2.71v8.40h-2.71zM387.26 343.42h2.71v15.74h-2.71zM389.77 367.90h2.71v10.84h-2.71zM389.77 350.76h2.71v5.95h-2.71zM392.27 399.72h2.71v5.95h-2.71zM397.29 407.07h2.71v8.40h-2.71zM402.31 421.75h2.71v27.98h-2.71zM402.31 372.79h2.71v18.19h-2.71zM404.81 402.17h2.71v47.56h-2.71zM404.81 385.03h2.71v5.95h-2.71zM407.32 458.47h2.71v15.74h-2.71zM407.32 243.05h2.71v8.40h-2.71zM409.83 458.47h2.71v23.08h-2.71z"/>
<path fill="#7cff7b" d="M289.45 460.92h2.71v45.12h-2.71zM291.95 460.92h2.71v89.88h-2.71zM291.95 414.41h2.71v3.50h-2.71zM294.46 407.07h2.71v13.29h-2.71zM296.97 438.89h2.71v5.95h-2.71zM296.97 424.20h2.71v10.84h-2.71zM299.48 446.23h2.71v5.95h-2.71zM299.48 424.20h2.71v10.84h-2.71zM309.51 338.52h2.71v3.50h-2.71zM312.02 355.66h2.71v10.84h-2.71zM314.53 353.21h2.71v20.64h-2.71zM319.54 321.39h2.71v18.19h-2.71zM322.05 292.01h2.71v8.40h-2.71zM322.05 274.87h2.71v10.84h-2.71zM322.05 243.05h2.71v8.40h-2.71zM322.05 235.71h2.71v5.95h-2.71zM322.05 221.02h2.71v13.29h-2.71zM322.05 213.67h2.71v5.95h-2.71zM324.56 245.50h2.71v5.95h-2.71zM324.56 240.60h2.71v3.50h-2.71zM324.56 230.81h2.71v8.40h-2.71zM327.07 247.95h2.71v3.50h-2.71zM327.07 243.05h2.71v3.50h-2.71zM329.57 370.35h2.71v13.29h-2.71zM329.57 269.98h2.71v15.74h-2.71zM329.57 250.39h2.71v13.29h-2.71zM329.57 235.71h2.71v13.29h-2.71zM329.57 216.12h2.71v18.19h-2.71zM332.08 399.72h2.71v8.40h-2.71zM332.08 385.03h2.71v10.84h-2.71zM332.08 269.98h2.71v18.19h-2.71zM332.08 230.81h2.71v25.53h-2.71zM332.08 221.02h2.71v5.95h-2.71zM332.08 213.67h2.71v5.95h-2.71zM334.59 255.29h2.71v50.01h-2.71zM334.59 245.50h2.71v5.95h-2.71zM334.59 228.36h2.71v8.40h-2.71zM334.59 213.67h2.71v13.29h-2.71zM337.10 250.39h2.71v37.77h-2.71zM337.10 213.67h2.71v25.53h-2.71zM339.61 296.91h2.71v13.29h-2.71zM339.61 235.71h2.71v32.88h-2.71zM339.61 223.47h2.71v10.84h-2.71zM339.61 218.57h2.71v3.50h-2.71zM339.61 213.67h2.71v3.50h-2.71zM342.11 301.80h2.71v8.40h-2.71zM342.11 269.98h2.71v18.19h-2.71zM342.11 247.95h2.71v15.74h-2.71zM342.11 233.26h2.71v13.29h-2.71zM342.11 213.67h2.71v18.19h-2.71zM344.62 218.57h2.71v69.60h-2.71zM344.62 213.67h2.71v3.50h-2.71zM347.13 269.98h2.71v20.64h-2.71zM347.13 233.26h2.71v18.19h-2.71zM347.13 221.02h2.71v10.84h-2.71zM347.13 213.67h2.71v3.50h-2.71zM349.64 243.05h2.71v45.12h-2.71zM349.64 213.67h2.71v5.95h-2.71zM352.15 240.60h2.71v69.60h-2.71zM352.15 225.91h2.71v13.29h-2.71zM352.15 213.67h2.71v10.84h-2.71zM354.65 262.63h2.71v25.53h-2.71zM354.65 240.60h2.71v10.84h-2.71zM354.65 230.81h2.71v5.95h-2.71zM354.65 221.02h2.71v8.40h-2.71zM354.65 213.67h2.71v3.50h-2.71zM357.16 250.39h2.71v37.77h-2.71zM357.16 213.67h2.71v5.95h-2.71zM359.67 238.15h2.71v25.53h-2.71zM362.18 235.71h2.71v57.36h-2.71zM362.18 213.67h2.71v20.64h-2.71zM364.69 289.56h2.71v10.84h-2.71zM364.69 247.95h2.71v40.22h-2.71zM364.69 228.36h2.71v5.95h-2.71zM364.69 223.47h2.71v3.50h-2.71zM364.69 216.12h2.71v5.95h-2.71zM367.19 269.98h2.71v3.50h-2.71zM367.19 230.81h2.71v32.88h-2.71zM367.19 213.67h2.71v13.29h-2.71zM369.70 213.67h2.71v62.25h-2.71zM372.21 245.50h2.71v30.43h-2.71zM372.21 233.26h2.71v10.84h-2.71zM372.21 223.47h2.71v5.95h-2.71zM372.21 213.67h2.71v8.40h-2.71zM374.72 443.79h2.71v8.40h-2.71zM374.72 416.86h2.71v13.29h-2.71zM374.72 394.83h2.71v3.50h-2.71zM374.72 243.05h2.71v45.12h-2.71zM374.72 233.26h2.71v8.40h-2.71zM374.72 225.91h2.71v5.95h-2.71zM374.72 216.12h2.71v8.40h-2.71zM377.23 387.48h2.71v10.84h-2.71zM377.23 247.95h2.71v15.74h-2.71zM377.23 243.05h2.71v3.50h-2.71zM377.23 216.12h2.71v23.08h-2.71zM379.73 475.61h2.71v23.08h-2.71zM379.73 458.47h2.71v5.95h-2.71zM379.73 250.39h2.71v23.08h-2.71zM379.73 235.71h2.71v5.95h-2.71zM379.73 230.81h2.71v3.50h-2.71zM379.73 213.67h2.71v5.95h-2.71zM382.24 218.57h2.71v32.88h-2.71zM384.75 409.51h2.71v10.84h-2.71zM384.75 399.72h2.71v8.40h-2.71zM387.26 328.73h2.71v15.74h-2.71zM387.26 287.11h2.71v15.74h-2.71zM389.77 394.83h2.71v10.84h-2.71zM389.77 377.69h2.71v13.29h-2.71zM389.77 340.97h2.71v10.84h-2.71zM392.27 392.38h2.71v8.40h-2.71zM397.29 402.17h2.71v5.95h-2.71zM402.31 473.16h2.71v10.84h-2.71zM404.81 392.38h2.71v10.84h-2.71zM407.32 453.58h2.71v5.95h-2.71zM407.32 441.34h2.71v5.95h-2.71zM407.32 424.20h2.71v13.29h-2.71zM407.32 240.60h2.71v3.50h-2.71zM409.83 451.13h2.71v8.40h-2.71zM409.83 230.81h2.71v3.50h-2.71z"/>
<path fill="#8fff68" d="M289.45 504.99h2.71v32.88h-2.71zM289.45 424.20h2.71v37.77h-2.71zM291.95 448.68h2.71v13.29h-2.71zM291.95 424.20h2.71v5.95h-2.71zM291.95 392.38h2.71v23.08h-2.71zM294.46 397.27h2.71v10.84h-2.71zM296.97 436.44h2.71v3.50h-2.71zM296.97 414.41h2.71v10.84h-2.71zM299.48 414.41h2.71v10.84h-2.71zM304.49 436.44h2.71v8.40h-2.71zM312.02 348.31h2.71v8.40h-2.71zM312.02 323.83h2.71v8.40h-2.71zM314.53 372.79h2.71v10.84h-2.71zM314.53 340.97h2.71v13.29h-2.71zM319.54 353.21h2.71v5.95h-2.71zM319.54 304.25h2.71v18.19h-2.71zM322.05 252.84h2.71v23.08h-2.71zM322.05 198.99h2.71v8.40h-2.71zM322.05 184.30h2.71v3.50h-2.71zM322.05 174.51h2.71v8.40h-2.71zM322.05 157.37h2.71v13.29h-2.71zM324.56 274.87h2.71v5.95h-2.71zM324.56 250.39h2.71v5.95h-2.71zM324.56 228.36h2.71v3.50h-2.71zM324.56 223.47h2.71v3.50h-2.71zM324.56 213.67h2.71v8.40h-2.71zM324.56 206.33h2.71v5.95h-2.71zM324.56 201.43h2.71v3.50h-2.71zM324.56 194.09h2.71v3.50h-2.71zM324.56 184.30h2.71v8.40h-2.71zM324.56 174.51h2.71v5.95h-2.71zM324.56 164.71h2.71v8.40h-2.71zM324.56 157.37h2.71v5.95h-2.71zM327.07 225.91h2.71v15.74h-2.71zM327.07 213.67h2.71v8.40h-2.71zM327.07 201.43h2.71v3.50h-2.71zM327.07 191.64h2.71v8.40h-2.71zM327.07 181.85h2.71v8.40h-2.71zM327.07 172.06h2.71v8.40h-2.71zM327.07 162.27h2.71v8.40h-2.71zM327.07 157.37h2.71v3.50h-2.71zM329.57 382.59h2.71v8.40h-2.71zM329.57 262.63h2.71v8.40h-2.71zM329.57 211.23h2.71v3.50h-2.71zM329.57 201.43h2.71v8.40h-2.71zM329.57 194.09h2.71v5.95h-2.71zM329.57 186.75h2.71v5.95h-2.71zM329.57 174.51h2.71v8.40h-2.71zM329.57 167.16h2.71v3.50h-2.71zM329.57 162.27h2.71v3.50h-2.71zM329.57 157.37h2.71v3.50h-2.71zM332.08 394.83h2.71v5.95h-2.71zM332.08 255.29h2.71v15.74h-2.71zM332.08 211.23h2.71v3.50h-2.71zM332.08 179.40h2.71v30.43h-2.71zM332.08 172.06h2.71v5.95h-2.71zM332.08 159.82h2.71v10.84h-2.71zM334.59 250.39h2.71v5.95h-2.71zM334.59 235.71h2.71v10.84h-2.71zM334.59 208.78h2.71v5.95h-2.71zM334.59 194.09h2.71v13.29h-2.71zM334.59 186.75h2.71v5.95h-2.71zM334.59 172.06h2.71v10.84h-2.71zM334.59 164.71h2.71v3.50h-2.71zM337.10 238.15h2.71v13.29h-2.71zM337.10 206.33h2.71v8.40h-2.71zM337.10 191.64h2.71v5.95h-2.71zM337.10 174.51h2.71v5.95h-2.71zM337.10 169.61h2.71v3.50h-2.71zM337.10 164.71h2.71v3.50h-2.71zM337.10 157.37h2.71v3.50h-2.71zM339.61 201.43h2.71v13.29h-2.71zM339.61 189.19h2.71v10.84h-2.71zM339.61 174.51h2.71v13.29h-2.71zM339.61 157.37h2.71v8.40h-2.71zM339.61 152.47h2.71v3.50h-2.71zM342.11 211.23h2.71v3.50h-2.71zM342.11 198.99h2.71v8.40h-2.71zM342.11 186.75h2.71v5.95h-2.71zM342.11 179.40h2.71v5.95h-2.71zM344.62 211.23h2.71v3.50h-2.71zM344.62 198.99h2.71v5.95h-2.71zM344.62 191.64h2.71v5.95h-2.71zM344.62 184.30h2.71v3.50h-2.71zM344.62 174.51h2.71v5.95h-2.71zM344.62 162.27h2.71v3.50h-2.71zM347.13 250.39h2.71v20.64h-2.71zM347.13 218.57h2.71v3.50h-2.71zM347.13 211.23h2.71v3.50h-2.71zM347.13 206.33h2.71v3.50h-2.71zM347.13 189.19h2.71v15.74h-2.71zM347.13 179.40h2.71v3.50h-2.71zM349.64 218.57h2.71v25.53h-2.71zM349.64 211.23h2.71v3.50h-2.71zM349.64 198.99h2.71v5.95h-2.71zM349.64 191.64h2.71v5.95h-2.71zM349.64 186.75h2.71v3.50h-2.71zM349.64 154.92h2.71v5.95h-2.71zM352.15 206.33h2.71v5.95h-2.71zM352.15 198.99h2.71v3.50h-2.71zM352.15 179.40h2.71v3.50h-2.71zM352.15 169.61h2.71v3.50h-2.71zM354.65 250.39h2.71v13.29h-2.71zM354.65 235.71h2.71v5.95h-2.71zM354.65 218.57h2.71v3.50h-2.71zM354.65 196.54h2.71v15.74h-2.71zM354.65 186.75h2.71v3.50h-2.71zM354.65 167.16h2.71v3.50h-2.71zM354.65 159.82h2.71v3.50h-2.71zM354.65 154.92h2.71v3.50h-2.71zM357.16 230.81h2.71v20.64h-2.71zM357.16 223.47h2.71v5.95h-2.71zM357.16 208.78h2.71v3.50h-2.71zM357.16 201.43h2.71v5.95h-2.71zM357.16 196.54h2.71v3.50h-2.71zM357.16 191.64h2.71v3.50h-2.71zM357.16 172.06h2.71v3.50h-2.71zM357.16 167.16h2.71v3.50h-2.71zM359.67 213.67h2.71v25.53h-2.71zM359.67 206.33h2.71v3.50h-2.71zM359.67 196.54h2.71v8.40h-2.71zM359.67 184.30h2.71v10.84h-2.71zM362.18 203.88h2.71v8.40h-2.71zM362.18 189.19h2.71v13.29h-2.71zM362.18 181.85h2.71v3.50h-2.71zM362.18 172.06h2.71v3.50h-2.71zM362.18 154.92h2.71v3.50h-2.71zM364.69 243.05h2.71v5.95h-2.71zM364.69 235.71h2.71v5.95h-2.71zM364.69 211.23h2.71v3.50h-2.71zM364.69 194.09h2.71v13.29h-2.71zM364.69 189.19h2.71v3.50h-2.71zM364.69 176.95h2.71v8.40h-2.71zM364.69 152.47h2.71v3.50h-2.71zM367.19 265.08h2.71v5.95h-2.71zM367.19 211.23h2.71v3.50h-2.71zM367.19 203.88h2.71v5.95h-2.71zM367.19 186.75h2.71v10.84h-2.71zM367.19 179.40h2.71v3.50h-2.71zM367.19 169.61h2.71v8.40h-2.71zM367.19 164.71h2.71v3.50h-2.71zM367.19 157.37h2.71v3.50h-2.71zM369.70 208.78h2.71v3.50h-2.71zM369.70 198.99h2.71v5.95h-2.71zM369.70 186.75h2.71v8.40h-2.71zM369.70 181.85h2.71v3.50h-2.71zM369.70 172.06h2.71v3.50h-2.71zM369.70 164.71h2.71v5.95h-2.71zM372.21 208.78h2.71v3.50h-2.71zM372.21 203.88h2.71v3.50h-2.71zM372.21 191.64h2.71v8.40h-2.71zM372.21 176.95h2.71v13.29h-2.71zM372.21 172.06h2.71v3.50h-2.71zM372.21 157.37h2.71v13.29h-2.71zM374.72 451.13h2.71v13.29h-2.71zM374.72 429.10h2.71v3.50h-2.71zM374.72 397.27h2.71v20.64h-2.71zM374.72 208.78h2.71v5.95h-2.71zM374.72 201.43h2.71v3.50h-2.71zM374.72 191.64h2.71v8.40h-2.71zM374.72 172.06h2.71v18.19h-2.71zM374.72 167.16h2.71v3.50h-2.71zM374.72 157.37h2.71v5.95h-2.71zM377.23 397.27h2.71v13.29h-2.71zM377.23 211.23h2.71v3.50h-2.71zM377.23 201.43h2.71v5.95h-2.71zM377.23 196.54h2.71v3.50h-2.71zM377.23 186.75h2.71v8.40h-2.71zM377.23 179.40h2.71v3.50h-2.71zM377.23 172.06h2.71v5.95h-2.71zM377.23 167.16h2.71v3.50h-2.71zM377.23 159.82h2.71v3.50h-2.71zM379.73 240.60h2.71v10.84h-2.71zM379.73 194.09h2.71v8.40h-2.71zM379.73 184.30h2.71v5.95h-2.71zM379.73 164.71h2.71v10.84h-2.71zM379.73 157.37h2.71v3.50h-2.71zM382.24 250.39h2.71v5.95h-2.71zM382.24 211.23h2.71v5.95h-2.71zM382.24 206.33h2.71v3.50h-2.71zM382.24 201.43h2.71v3.50h-2.71zM382.24 186.75h2.71v3.50h-2.71zM382.24 179.40h2.71v3.50h-2.71zM382.24 169.61h2.71v3.50h-2.71zM382.24 162.27h2.71v5.95h-2.71zM382.24 157.37h2.71v3.50h-2.71zM384.75 407.07h2.71v3.50h-2.71zM384.75 397.27h2.71v3.50h-2.71zM384.75 154.92h2.71v5.95h-2.71zM387.26 314.04h2.71v15.74h-2.71zM389.77 404.62h2.71v15.74h-2.71zM389.77 389.93h2.71v5.95h-2.71zM389.77 331.18h2.71v10.84h-2.71zM392.27 387.48h2.71v5.95h-2.71zM397.29 397.27h2.71v5.95h-2.71zM402.31 365.45h2.71v8.40h-2.71zM402.31 333.63h2.71v5.95h-2.71zM404.81 365.45h2.71v5.95h-2.71zM407.32 446.23h2.71v8.40h-2.71zM407.32 436.44h2.71v5.95h-2.71zM407.32 411.96h2.71v13.29h-2.71zM409.83 446.23h2.71v5.95h-2.71zM409.83 429.10h2.71v5.95h-2.71zM409.83 221.02h2.71v10.84h-2.71zM422.37 453.58h2.71v10.84h-2.71z"/>
<path fill="#a2ff55" d="M284.43 443.79h2.71v18.19h-2.71zM289.45 409.51h2.71v15.74h-2.71zM289.45 399.72h2.71v3.50h-2.71zM289.45 245.50h2.71v5.95h-2.71zM291.95 436.44h2.71v8.40h-2.71zM291.95 416.86h2.71v8.40h-2.71zM291.95 389.93h2.71v3.50h-2.71zM294.46 394.83h2.71v3.50h-2.71zM296.97 407.07h2.71v8.40h-2.71zM299.48 407.07h2.71v8.40h-2.71zM299.48 213.67h2.71v5.95h-2.71zM312.02 340.97h2.71v8.40h-2.71zM312.02 316.49h2.71v8.40h-2.71zM314.53 382.59h2.71v13.29h-2.71zM314.53 328.73h2.71v13.29h-2.71zM314.53 299.35h2.71v5.95h-2.71zM317.03 348.31h2.71v8.40h-2.71zM317.03 184.30h2.71v8.40h-2.71zM317.03 152.47h2.71v13.29h-2.71zM319.54 348.31h2.71v5.95h-2.71zM319.54 198.99h2.71v13.29h-2.71zM322.05 289.56h2.71v3.50h-2.71zM324.56 255.29h2.71v20.64h-2.71zM327.07 269.98h2.71v8.40h-2.71zM327.07 257.74h2.71v5.95h-2.71zM329.57 399.72h2.71v8.40h-2.71zM332.08 411.96h2.71v5.95h-2.71zM332.08 157.37h2.71v3.50h-2.71zM334.59 157.37h2.71v8.40h-2.71zM337.10 167.16h2.71v3.50h-2.71zM337.10 159.82h2.71v5.95h-2.71zM339.61 164.71h2.71v10.84h-2.71zM339.61 154.92h2.71v3.50h-2.71zM342.11 152.47h2.71v27.98h-2.71zM344.62 179.40h2.71v5.95h-2.71zM344.62 164.71h2.71v10.84h-2.71zM344.62 152.47h2.71v10.84h-2.71zM347.13 181.85h2.71v8.40h-2.71zM347.13 152.47h2.71v27.98h-2.71zM349.64 189.19h2.71v3.50h-2.71zM349.64 159.82h2.71v27.98h-2.71zM349.64 152.47h2.71v3.50h-2.71zM352.15 181.85h2.71v18.19h-2.71zM352.15 172.06h2.71v8.40h-2.71zM352.15 152.47h2.71v18.19h-2.71zM354.65 189.19h2.71v5.95h-2.71zM354.65 169.61h2.71v18.19h-2.71zM354.65 162.27h2.71v5.95h-2.71zM354.65 157.37h2.71v3.50h-2.71zM354.65 152.47h2.71v3.50h-2.71zM357.16 174.51h2.71v15.74h-2.71zM357.16 169.61h2.71v3.50h-2.71zM357.16 152.47h2.71v15.74h-2.71zM359.67 152.47h2.71v32.88h-2.71zM362.18 174.51h2.71v5.95h-2.71zM362.18 157.37h2.71v15.74h-2.71zM362.18 152.47h2.71v3.50h-2.71zM364.69 154.92h2.71v20.64h-2.71zM367.19 167.16h2.71v3.50h-2.71zM367.19 159.82h2.71v5.95h-2.71zM369.70 157.37h2.71v8.40h-2.71zM374.72 485.40h2.71v65.40h-2.71zM374.72 431.55h2.71v13.29h-2.71zM377.23 409.51h2.71v15.74h-2.71zM379.73 382.59h2.71v20.64h-2.71zM379.73 292.01h2.71v52.46h-2.71zM379.73 272.43h2.71v13.29h-2.71zM382.24 282.22h2.71v10.84h-2.71zM382.24 255.29h2.71v15.74h-2.71zM384.75 394.83h2.71v3.50h-2.71zM387.26 301.80h2.71v13.29h-2.71zM387.26 260.19h2.71v5.95h-2.71zM387.26 245.50h2.71v5.95h-2.71zM389.77 419.31h2.71v3.50h-2.71zM389.77 328.73h2.71v3.50h-2.71zM392.27 382.59h2.71v5.95h-2.71zM394.78 328.73h2.71v10.84h-2.71zM397.29 392.38h2.71v5.95h-2.71zM397.29 230.81h2.71v13.29h-2.71zM402.31 350.76h2.71v5.95h-2.71zM402.31 326.28h2.71v8.40h-2.71zM404.81 370.35h2.71v10.84h-2.71zM404.81 326.28h2.71v3.50h-2.71zM409.83 433.99h2.71v13.29h-2.71zM409.83 416.86h2.71v13.29h-2.71zM409.83 218.57h2.71v3.50h-2.71zM412.34 336.07h2.71v5.95h-2.71zM422.37 480.51h2.71v30.43h-2.71zM422.37 463.37h2.71v13.29h-2.71zM422.37 448.68h2.71v5.95h-2.71zM422.37 355.66h2.71v10.84h-2.71zM427.39 433.99h2.71v32.88h-2.71zM429.89 519.67h2.71v8.40h-2.71z"/>
<path fill="#b4ff42" d="M284.43 431.55h2.71v13.29h-2.71zM286.94 377.69h2.71v5.95h-2.71zM289.45 380.14h2.71v20.64h-2.71zM291.95 429.10h2.71v8.40h-2.71zM291.95 380.14h2.71v10.84h-2.71zM294.46 389.93h2.71v5.95h-2.71zM294.46 377.69h2.71v10.84h-2.71zM296.97 399.72h2.71v8.40h-2.71zM299.48 399.72h2.71v8.40h-2.71zM299.48 218.57h2.71v15.74h-2.71zM309.51 331.18h2.71v8.40h-2.71zM312.02 331.18h2.71v10.84h-2.71zM312.02 311.59h2.71v5.95h-2.71zM314.53 394.83h2.71v13.29h-2.71zM314.53 316.49h2.71v13.29h-2.71zM317.03 372.79h2.71v8.40h-2.71zM317.03 316.49h2.71v10.84h-2.71zM322.05 284.67h2.71v5.95h-2.71zM322.05 206.33h2.71v5.95h-2.71zM322.05 191.64h2.71v8.40h-2.71zM322.05 181.85h2.71v3.50h-2.71zM322.05 169.61h2.71v3.50h-2.71zM324.56 279.77h2.71v20.64h-2.71zM324.56 181.85h2.71v3.50h-2.71zM327.07 211.23h2.71v3.50h-2.71zM327.07 206.33h2.71v3.50h-2.71zM327.07 198.99h2.71v3.50h-2.71zM327.07 189.19h2.71v3.50h-2.71zM329.57 407.07h2.71v18.19h-2.71zM329.57 389.93h2.71v10.84h-2.71zM329.57 191.64h2.71v3.50h-2.71zM329.57 184.30h2.71v3.50h-2.71zM332.08 416.86h2.71v15.74h-2.71zM332.08 407.07h2.71v5.95h-2.71zM334.59 206.33h2.71v3.50h-2.71zM337.10 203.88h2.71v3.50h-2.71zM337.10 196.54h2.71v3.50h-2.71zM367.19 196.54h2.71v5.95h-2.71zM369.70 194.09h2.71v5.95h-2.71zM369.70 152.47h2.71v3.50h-2.71zM372.21 189.19h2.71v3.50h-2.71zM372.21 152.47h2.71v5.95h-2.71zM374.72 189.19h2.71v3.50h-2.71zM374.72 152.47h2.71v3.50h-2.71zM377.23 424.20h2.71v20.64h-2.71zM379.73 421.75h2.71v13.29h-2.71zM379.73 343.42h2.71v40.22h-2.71zM379.73 206.33h2.71v8.40h-2.71zM379.73 189.19h2.71v3.50h-2.71zM379.73 174.51h2.71v10.84h-2.71zM382.24 292.01h2.71v8.40h-2.71zM382.24 203.88h2.71v3.50h-2.71zM382.24 196.54h2.71v3.50h-2.71zM382.24 181.85h2.71v3.50h-2.71zM382.24 172.06h2.71v8.40h-2.71zM382.24 167.16h2.71v3.50h-2.71zM384.75 389.93h2.71v5.95h-2.71zM384.75 250.39h2.71v18.19h-2.71zM387.26 284.67h2.71v3.50h-2.71zM387.26 250.39h2.71v10.84h-2.71zM387.26 233.26h2.71v13.29h-2.71zM389.77 421.75h2.71v8.40h-2.71zM389.77 316.49h2.71v5.95h-2.71zM392.27 377.69h2.71v5.95h-2.71zM394.78 318.94h2.71v10.84h-2.71zM397.29 387.48h2.71v5.95h-2.71zM399.80 522.12h2.71v10.84h-2.71zM402.31 340.97h2.71v10.84h-2.71zM402.31 323.83h2.71v3.50h-2.71zM404.81 316.49h2.71v10.84h-2.71zM407.32 407.07h2.71v5.95h-2.71zM407.32 250.39h2.71v5.95h-2.71zM409.83 407.07h2.71v10.84h-2.71zM409.83 250.39h2.71v10.84h-2.71zM419.86 441.34h2.71v23.08h-2.71zM422.37 509.88h2.71v40.92h-2.71zM422.37 402.17h2.71v47.56h-2.71zM422.37 345.87h2.71v10.84h-2.71zM424.88 402.17h2.71v5.95h-2.71z"/>
<path fill="#c7ff30" d="M281.92 245.50h2.71v5.95h-2.71zM284.43 247.95h2.71v3.50h-2.71zM289.45 372.79h2.71v8.40h-2.71zM289.45 363.00h2.71v3.50h-2.71zM291.95 363.00h2.71v10.84h-2.71zM291.95 306.70h2.71v13.29h-2.71zM294.46 387.48h2.71v3.50h-2.71zM294.46 370.35h2.71v8.40h-2.71zM294.46 304.25h2.71v27.98h-2.71zM296.97 392.38h2.71v8.40h-2.71zM299.48 392.38h2.71v8.40h-2.71zM304.49 429.10h2.71v8.40h-2.71zM309.51 328.73h2.71v3.50h-2.71zM314.53 407.07h2.71v15.74h-2.71zM314.53 314.04h2.71v3.50h-2.71zM317.03 355.66h2.71v18.19h-2.71zM319.54 255.29h2.71v15.74h-2.71zM322.05 250.39h2.71v3.50h-2.71zM322.05 240.60h2.71v3.50h-2.71zM322.05 233.26h2.71v3.50h-2.71zM322.05 218.57h2.71v3.50h-2.71zM322.05 152.47h2.71v5.95h-2.71zM324.56 299.35h2.71v23.08h-2.71zM324.56 243.05h2.71v3.50h-2.71zM324.56 238.15h2.71v3.50h-2.71zM324.56 225.91h2.71v3.50h-2.71zM324.56 221.02h2.71v3.50h-2.71zM324.56 154.92h2.71v3.50h-2.71zM327.07 311.59h2.71v8.40h-2.71zM327.07 262.63h2.71v8.40h-2.71zM327.07 250.39h2.71v8.40h-2.71zM327.07 245.50h2.71v3.50h-2.71zM327.07 240.60h2.71v3.50h-2.71zM327.07 221.02h2.71v5.95h-2.71zM327.07 169.61h2.71v3.50h-2.71zM327.07 152.47h2.71v5.95h-2.71zM329.57 456.03h2.71v5.95h-2.71zM329.57 424.20h2.71v20.64h-2.71zM329.57 247.95h2.71v3.50h-2.71zM329.57 233.26h2.71v3.50h-2.71zM329.57 213.67h2.71v3.50h-2.71zM329.57 169.61h2.71v3.50h-2.71zM329.57 154.92h2.71v3.50h-2.71zM332.08 431.55h2.71v20.64h-2.71zM332.08 228.36h2.71v3.50h-2.71zM332.08 152.47h2.71v5.95h-2.71zM334.59 181.85h2.71v5.95h-2.71zM334.59 167.16h2.71v5.95h-2.71zM334.59 152.47h2.71v5.95h-2.71zM337.10 172.06h2.71v3.50h-2.71zM337.10 152.47h2.71v3.50h-2.71zM339.61 198.99h2.71v3.50h-2.71zM339.61 186.75h2.71v3.50h-2.71zM342.11 194.09h2.71v3.50h-2.71zM352.15 203.88h2.71v3.50h-2.71zM354.65 211.23h2.71v3.50h-2.71zM357.16 198.99h2.71v3.50h-2.71zM357.16 194.09h2.71v3.50h-2.71zM357.16 189.19h2.71v3.50h-2.71zM359.67 208.78h2.71v3.50h-2.71zM359.67 203.88h2.71v3.50h-2.71zM362.18 184.30h2.71v3.50h-2.71zM364.69 191.64h2.71v3.50h-2.71zM364.69 184.30h2.71v3.50h-2.71zM367.19 154.92h2.71v3.50h-2.71zM369.70 169.61h2.71v3.50h-2.71zM372.21 243.05h2.71v3.50h-2.71zM374.72 240.60h2.71v3.50h-2.71zM374.72 164.71h2.71v3.50h-2.71zM377.23 443.79h2.71v25.53h-2.71zM377.23 245.50h2.71v3.50h-2.71zM377.23 238.15h2.71v5.95h-2.71zM377.23 169.61h2.71v3.50h-2.71zM377.23 162.27h2.71v3.50h-2.71zM377.23 152.47h2.71v5.95h-2.71zM379.73 502.54h2.71v5.95h-2.71zM379.73 402.17h2.71v20.64h-2.71zM379.73 284.67h2.71v8.40h-2.71zM379.73 233.26h2.71v3.50h-2.71zM379.73 218.57h2.71v13.29h-2.71zM379.73 154.92h2.71v3.50h-2.71zM382.24 299.35h2.71v5.95h-2.71zM382.24 216.12h2.71v3.50h-2.71zM382.24 154.92h2.71v3.50h-2.71zM384.75 382.59h2.71v8.40h-2.71zM384.75 267.53h2.71v13.29h-2.71zM384.75 159.82h2.71v25.53h-2.71zM387.26 269.98h2.71v15.74h-2.71zM387.26 157.37h2.71v40.22h-2.71zM389.77 429.10h2.71v18.19h-2.71zM389.77 179.40h2.71v3.50h-2.71zM392.27 372.79h2.71v5.95h-2.71zM392.27 331.18h2.71v25.53h-2.71zM392.27 154.92h2.71v10.84h-2.71zM394.78 358.11h2.71v8.40h-2.71zM394.78 314.04h2.71v5.95h-2.71zM394.78 167.16h2.71v8.40h-2.71zM397.29 382.59h2.71v5.95h-2.71zM399.80 531.91h2.71v18.89h-2.71zM399.80 463.37h2.71v59.80h-2.71zM399.80 436.44h2.71v10.84h-2.71zM402.31 355.66h2.71v10.84h-2.71zM402.31 338.52h2.71v3.50h-2.71zM402.31 306.70h2.71v10.84h-2.71zM404.81 355.66h2.71v10.84h-2.71zM404.81 331.18h2.71v8.40h-2.71zM407.32 397.27h2.71v10.84h-2.71zM409.83 397.27h2.71v10.84h-2.71zM409.83 260.19h2.71v18.19h-2.71zM412.34 424.20h2.71v3.50h-2.71zM412.34 353.21h2.71v25.53h-2.71zM412.34 284.67h2.71v10.84h-2.71zM422.37 475.61h2.71v5.95h-2.71zM422.37 372.79h2.71v30.43h-2.71zM422.37 314.04h2.71v15.74h-2.71z"/>
<path fill="#daff1d" d="M281.92 504.99h2.71v10.84h-2.71zM281.92 478.06h2.71v10.84h-2.71zM281.92 372.79h2.71v3.50h-2.71zM286.94 482.95h2.71v13.29h-2.71zM286.94 358.11h2.71v8.40h-2.71zM289.45 338.52h2.71v25.53h-2.71zM289.45 272.43h2.71v8.40h-2.71zM291.95 338.52h2.71v25.53h-2.71zM291.95 269.98h2.71v5.95h-2.71zM294.46 365.45h2.71v5.95h-2.71zM294.46 355.66h2.71v8.40h-2.71zM296.97 385.03h2.71v8.40h-2.71zM296.97 255.29h2.71v3.50h-2.71zM296.97 243.05h2.71v8.40h-2.71zM299.48 385.03h2.71v8.40h-2.71zM299.48 189.19h2.71v10.84h-2.71zM301.99 546.60h2.71v4.20h-2.71zM301.99 402.17h2.71v13.29h-2.71zM301.99 365.45h2.71v20.64h-2.71zM301.99 350.76h2.71v5.95h-2.71zM301.99 296.91h2.71v10.84h-2.71zM301.99 174.51h2.71v5.95h-2.71zM301.99 157.37h2.71v8.40h-2.71zM304.49 470.71h2.71v59.80h-2.71zM304.49 365.45h2.71v40.22h-2.71zM304.49 355.66h2.71v5.95h-2.71zM307.00 358.11h2.71v8.40h-2.71zM314.53 421.75h2.71v20.64h-2.71zM314.53 294.46h2.71v5.95h-2.71zM314.53 255.29h2.71v13.29h-2.71zM317.03 380.14h2.71v23.08h-2.71zM317.03 328.73h2.71v8.40h-2.71zM317.03 206.33h2.71v32.88h-2.71zM317.03 196.54h2.71v5.95h-2.71zM319.54 243.05h2.71v13.29h-2.71zM319.54 221.02h2.71v5.95h-2.71zM322.05 211.23h2.71v3.50h-2.71zM322.05 186.75h2.71v5.95h-2.71zM322.05 172.06h2.71v3.50h-2.71zM324.56 446.23h2.71v40.22h-2.71zM324.56 421.75h2.71v8.40h-2.71zM324.56 353.21h2.71v10.84h-2.71zM324.56 321.39h2.71v23.08h-2.71zM324.56 203.88h2.71v3.50h-2.71zM324.56 196.54h2.71v5.95h-2.71zM324.56 191.64h2.71v3.50h-2.71zM324.56 179.40h2.71v3.50h-2.71zM324.56 172.06h2.71v3.50h-2.71zM327.07 468.27h2.71v13.29h-2.71zM327.07 360.55h2.71v5.95h-2.71zM327.07 328.73h2.71v15.74h-2.71zM327.07 277.32h2.71v15.74h-2.71zM327.07 208.78h2.71v3.50h-2.71zM327.07 203.88h2.71v3.50h-2.71zM327.07 179.40h2.71v3.50h-2.71zM329.57 460.92h2.71v13.29h-2.71zM329.57 443.79h2.71v13.29h-2.71zM329.57 208.78h2.71v3.50h-2.71zM329.57 198.99h2.71v3.50h-2.71zM329.57 181.85h2.71v3.50h-2.71zM329.57 152.47h2.71v3.50h-2.71zM332.08 504.99h2.71v5.95h-2.71zM332.08 465.82h2.71v13.29h-2.71zM332.08 451.13h2.71v10.84h-2.71zM332.08 208.78h2.71v3.50h-2.71zM334.59 191.64h2.71v3.50h-2.71zM337.10 154.92h2.71v3.50h-2.71zM342.11 206.33h2.71v3.50h-2.71zM364.69 208.78h2.71v3.50h-2.71zM367.19 152.47h2.71v3.50h-2.71zM369.70 211.23h2.71v3.50h-2.71zM369.70 203.88h2.71v5.95h-2.71zM369.70 154.92h2.71v3.50h-2.71zM372.21 211.23h2.71v3.50h-2.71zM372.21 206.33h2.71v3.50h-2.71zM372.21 201.43h2.71v3.50h-2.71zM374.72 206.33h2.71v3.50h-2.71zM377.23 468.27h2.71v82.53h-2.71zM377.23 208.78h2.71v3.50h-2.71zM377.23 194.09h2.71v3.50h-2.71zM377.23 181.85h2.71v5.95h-2.71zM377.23 176.95h2.71v3.50h-2.71zM379.73 507.43h2.71v43.37h-2.71zM379.73 497.64h2.71v5.95h-2.71zM379.73 463.37h2.71v13.29h-2.71zM379.73 433.99h2.71v25.53h-2.71zM379.73 201.43h2.71v5.95h-2.71zM379.73 191.64h2.71v3.50h-2.71zM382.24 502.54h2.71v48.26h-2.71zM382.24 463.37h2.71v35.32h-2.71zM382.24 304.25h2.71v18.19h-2.71zM382.24 269.98h2.71v13.29h-2.71zM382.24 198.99h2.71v3.50h-2.71zM382.24 189.19h2.71v8.40h-2.71zM382.24 184.30h2.71v3.50h-2.71zM384.75 377.69h2.71v5.95h-2.71zM384.75 343.42h2.71v10.84h-2.71zM387.26 265.08h2.71v5.95h-2.71zM389.77 531.91h2.71v10.84h-2.71zM389.77 446.23h2.71v30.43h-2.71zM389.77 321.39h2.71v8.40h-2.71zM389.77 181.85h2.71v3.50h-2.71zM392.27 367.90h2.71v5.95h-2.71zM392.27 314.04h2.71v5.95h-2.71zM394.78 296.91h2.71v13.29h-2.71zM397.29 377.69h2.71v5.95h-2.71zM399.80 458.47h2.71v5.95h-2.71zM399.80 446.23h2.71v5.95h-2.71zM399.80 397.27h2.71v5.95h-2.71zM399.80 240.60h2.71v10.84h-2.71zM402.31 299.35h2.71v8.40h-2.71zM404.81 348.31h2.71v8.40h-2.71zM404.81 328.73h2.71v3.50h-2.71zM407.32 389.93h2.71v8.40h-2.71zM407.32 306.70h2.71v13.29h-2.71zM409.83 389.93h2.71v8.40h-2.71zM409.83 299.35h2.71v8.40h-2.71zM412.34 446.23h2.71v50.01h-2.71zM412.34 426.65h2.71v3.50h-2.71zM412.34 377.69h2.71v32.88h-2.71zM412.34 340.97h2.71v13.29h-2.71zM412.34 328.73h2.71v8.40h-2.71zM412.34 272.43h2.71v13.29h-2.71zM412.34 243.05h2.71v8.40h-2.71zM414.85 524.57h2.71v5.95h-2.71zM417.35 546.60h2.71v4.20h-2.71zM417.35 529.47h2.71v13.29h-2.71zM417.35 495.19h2.71v27.98h-2.71zM419.86 397.27h2.71v3.50h-2.71zM422.37 365.45h2.71v8.40h-2.71zM424.88 350.76h2.71v15.74h-2.71zM427.39 473.16h2.71v5.95h-2.71zM427.39 338.52h2.71v10.84h-2.71zM429.89 527.02h2.71v5.95h-2.71zM429.89 482.95h2.71v20.64h-2.71zM429.89 353.21h2.71v13.29h-2.71z"/>
<path fill="#edff0a" d="M281.92 514.78h2.71v36.02h-2.71zM281.92 492.75h2.71v13.29h-2.71zM281.92 365.45h2.71v8.40h-2.71zM284.43 492.75h2.71v58.05h-2.71zM286.94 514.78h2.71v36.02h-2.71zM286.94 495.19h2.71v10.84h-2.71zM286.94 475.61h2.71v8.40h-2.71zM286.94 414.41h2.71v13.29h-2.71zM286.94 336.07h2.71v10.84h-2.71zM289.45 314.04h2.71v25.53h-2.71zM289.45 250.39h2.71v5.95h-2.71zM291.95 318.94h2.71v20.64h-2.71zM291.95 260.19h2.71v10.84h-2.71zM291.95 235.71h2.71v13.29h-2.71zM294.46 331.18h2.71v25.53h-2.71zM296.97 257.74h2.71v30.43h-2.71zM296.97 221.02h2.71v23.08h-2.71zM299.48 380.14h2.71v5.95h-2.71zM299.48 358.11h2.71v3.50h-2.71zM299.48 198.99h2.71v15.74h-2.71zM301.99 509.88h2.71v37.77h-2.71zM301.99 438.89h2.71v37.77h-2.71zM301.99 414.41h2.71v18.19h-2.71zM301.99 331.18h2.71v20.64h-2.71zM301.99 294.46h2.71v3.50h-2.71zM304.49 529.47h2.71v21.33h-2.71zM304.49 443.79h2.71v27.98h-2.71zM304.49 424.20h2.71v5.95h-2.71zM304.49 350.76h2.71v5.95h-2.71zM304.49 340.97h2.71v5.95h-2.71zM304.49 179.40h2.71v5.95h-2.71zM304.49 164.71h2.71v10.84h-2.71zM307.00 546.60h2.71v4.20h-2.71zM307.00 436.44h2.71v106.32h-2.71zM307.00 350.76h2.71v8.40h-2.71zM309.51 306.70h2.71v3.50h-2.71zM309.51 223.47h2.71v8.40h-2.71zM312.02 282.22h2.71v8.40h-2.71zM312.02 179.40h2.71v5.95h-2.71zM312.02 152.47h2.71v13.29h-2.71zM314.53 492.75h2.71v13.29h-2.71zM314.53 465.82h2.71v3.50h-2.71zM314.53 441.34h2.71v5.95h-2.71zM314.53 252.84h2.71v3.50h-2.71zM317.03 402.17h2.71v40.22h-2.71zM317.03 326.28h2.71v3.50h-2.71zM317.03 309.15h2.71v8.40h-2.71zM319.54 301.80h2.71v3.50h-2.71zM319.54 269.98h2.71v8.40h-2.71zM319.54 162.27h2.71v15.74h-2.71zM324.56 485.40h2.71v57.36h-2.71zM324.56 429.10h2.71v18.19h-2.71zM324.56 363.00h2.71v59.80h-2.71zM324.56 343.42h2.71v10.84h-2.71zM324.56 162.27h2.71v3.50h-2.71zM327.07 500.09h2.71v30.43h-2.71zM327.07 480.51h2.71v13.29h-2.71zM327.07 365.45h2.71v91.63h-2.71zM327.07 343.42h2.71v18.19h-2.71zM327.07 292.01h2.71v20.64h-2.71zM327.07 159.82h2.71v3.50h-2.71zM329.57 514.78h2.71v36.02h-2.71zM329.57 473.16h2.71v5.95h-2.71zM329.57 172.06h2.71v3.50h-2.71zM329.57 164.71h2.71v3.50h-2.71zM329.57 159.82h2.71v3.50h-2.71zM332.08 509.88h2.71v40.92h-2.71zM332.08 478.06h2.71v13.29h-2.71zM332.08 460.92h2.71v3.50h-2.71zM332.08 176.95h2.71v3.50h-2.71zM332.08 169.61h2.71v3.50h-2.71zM337.10 179.40h2.71v13.29h-2.71zM342.11 196.54h2.71v3.50h-2.71zM342.11 191.64h2.71v3.50h-2.71zM342.11 184.30h2.71v3.50h-2.71zM344.62 203.88h2.71v5.95h-2.71zM344.62 186.75h2.71v5.95h-2.71zM347.13 208.78h2.71v3.50h-2.71zM347.13 203.88h2.71v3.50h-2.71zM349.64 206.33h2.71v3.50h-2.71zM349.64 196.54h2.71v3.50h-2.71zM352.15 211.23h2.71v3.50h-2.71zM352.15 201.43h2.71v3.50h-2.71zM354.65 194.09h2.71v3.50h-2.71zM357.16 211.23h2.71v3.50h-2.71zM359.67 194.09h2.71v3.50h-2.71zM362.18 186.75h2.71v3.50h-2.71zM362.18 179.40h2.71v3.50h-2.71zM364.69 186.75h2.71v3.50h-2.71zM364.69 174.51h2.71v3.50h-2.71zM367.19 181.85h2.71v5.95h-2.71zM367.19 176.95h2.71v3.50h-2.71zM369.70 184.30h2.71v3.50h-2.71zM369.70 174.51h2.71v8.40h-2.71zM372.21 174.51h2.71v3.50h-2.71zM372.21 169.61h2.71v3.50h-2.71zM374.72 169.61h2.71v3.50h-2.71zM374.72 162.27h2.71v3.50h-2.71zM377.23 164.71h2.71v3.50h-2.71zM377.23 157.37h2.71v3.50h-2.71zM379.73 159.82h2.71v5.95h-2.71zM382.24 409.51h2.71v54.91h-2.71zM382.24 321.39h2.71v18.19h-2.71zM382.24 159.82h2.71v3.50h-2.71zM382.24 152.47h2.71v3.50h-2.71zM384.75 372.79h2.71v5.95h-2.71zM384.75 230.81h2.71v5.95h-2.71zM387.26 230.81h2.71v3.50h-2.71zM389.77 541.71h2.71v9.09h-2.71zM389.77 475.61h2.71v57.36h-2.71zM389.77 284.67h2.71v3.50h-2.71zM389.77 213.67h2.71v10.84h-2.71zM392.27 355.66h2.71v13.29h-2.71zM394.78 287.11h2.71v10.84h-2.71zM394.78 260.19h2.71v10.84h-2.71zM397.29 372.79h2.71v5.95h-2.71zM397.29 304.25h2.71v18.19h-2.71zM397.29 250.39h2.71v15.74h-2.71zM399.80 451.13h2.71v8.40h-2.71zM399.80 404.62h2.71v25.53h-2.71zM399.80 287.11h2.71v8.40h-2.71zM399.80 238.15h2.71v3.50h-2.71zM402.31 292.01h2.71v8.40h-2.71zM404.81 338.52h2.71v10.84h-2.71zM407.32 382.59h2.71v8.40h-2.71zM407.32 350.76h2.71v13.29h-2.71zM407.32 260.19h2.71v8.40h-2.71zM409.83 382.59h2.71v8.40h-2.71zM409.83 336.07h2.71v30.43h-2.71zM412.34 429.10h2.71v18.19h-2.71zM412.34 409.51h2.71v15.74h-2.71zM412.34 304.25h2.71v25.53h-2.71zM412.34 230.81h2.71v13.29h-2.71zM414.85 456.03h2.71v13.29h-2.71zM414.85 216.12h2.71v5.95h-2.71zM417.35 492.75h2.71v3.50h-2.71zM417.35 448.68h2.71v3.50h-2.71zM417.35 223.47h2.71v8.40h-2.71zM419.86 394.83h2.71v3.50h-2.71zM419.86 225.91h2.71v5.95h-2.71zM422.37 331.18h2.71v15.74h-2.71zM424.88 375.24h2.71v10.84h-2.71zM424.88 365.45h2.71v3.50h-2.71zM424.88 331.18h2.71v20.64h-2.71zM427.39 331.18h2.71v8.40h-2.71z"/>
<path fill="#ffec00" d="M281.92 487.85h2.71v5.95h-2.71zM281.92 436.44h2.71v42.67h-2.71zM284.43 460.92h2.71v32.88h-2.71zM286.94 468.27h2.71v8.40h-2.71zM286.94 389.93h2.71v10.84h-2.71zM286.94 272.43h2.71v5.95h-2.71zM289.45 289.56h2.71v25.53h-2.71zM291.95 289.56h2.71v13.29h-2.71zM291.95 223.47h2.71v13.29h-2.71zM294.46 299.35h2.71v5.95h-2.71zM294.46 162.27h2.71v5.95h-2.71zM296.97 382.59h2.71v3.50h-2.71zM296.97 372.79h2.71v8.40h-2.71zM296.97 287.11h2.71v30.43h-2.71zM296.97 218.57h2.71v3.50h-2.71zM299.48 372.79h2.71v8.40h-2.71zM299.48 355.66h2.71v3.50h-2.71zM299.48 306.70h2.71v18.19h-2.71zM301.99 475.61h2.71v35.32h-2.71zM301.99 431.55h2.71v8.40h-2.71zM301.99 385.03h2.71v18.19h-2.71zM301.99 311.59h2.71v20.64h-2.71zM304.49 404.62h2.71v20.64h-2.71zM304.49 328.73h2.71v13.29h-2.71zM307.00 541.71h2.71v5.95h-2.71zM307.00 397.27h2.71v40.22h-2.71zM309.51 321.39h2.71v8.40h-2.71zM309.51 296.91h2.71v10.84h-2.71zM312.02 296.91h2.71v3.50h-2.71zM312.02 274.87h2.71v8.40h-2.71zM314.53 546.60h2.71v4.20h-2.71zM314.53 504.99h2.71v8.40h-2.71zM314.53 468.27h2.71v25.53h-2.71zM314.53 446.23h2.71v10.84h-2.71zM314.53 304.25h2.71v10.84h-2.71zM314.53 267.53h2.71v10.84h-2.71zM317.03 441.34h2.71v109.46h-2.71zM317.03 279.77h2.71v3.50h-2.71zM319.54 284.67h2.71v18.19h-2.71zM324.56 541.71h2.71v9.09h-2.71zM324.56 152.47h2.71v3.50h-2.71zM327.07 529.47h2.71v21.33h-2.71zM327.07 492.75h2.71v8.40h-2.71zM327.07 456.03h2.71v13.29h-2.71zM327.07 318.94h2.71v10.84h-2.71zM329.57 478.06h2.71v37.77h-2.71zM332.08 490.30h2.71v15.74h-2.71zM332.08 463.37h2.71v3.50h-2.71zM374.72 154.92h2.71v3.50h-2.71zM379.73 152.47h2.71v3.50h-2.71zM382.24 497.64h2.71v5.95h-2.71zM382.24 377.69h2.71v32.88h-2.71zM382.24 338.52h2.71v18.19h-2.71zM384.75 367.90h2.71v5.95h-2.71zM384.75 323.83h2.71v13.29h-2.71zM384.75 301.80h2.71v10.84h-2.71zM384.75 196.54h2.71v35.32h-2.71zM387.26 228.36h2.71v3.50h-2.71zM389.77 277.32h2.71v8.40h-2.71zM392.27 326.28h2.71v5.95h-2.71zM392.27 189.19h2.71v10.84h-2.71zM394.78 309.15h2.71v5.95h-2.71zM394.78 277.32h2.71v10.84h-2.71zM394.78 247.95h2.71v3.50h-2.71zM394.78 221.02h2.71v18.19h-2.71zM397.29 370.35h2.71v3.50h-2.71zM399.80 429.10h2.71v8.40h-2.71zM399.80 402.17h2.71v3.50h-2.71zM399.80 385.03h2.71v8.40h-2.71zM407.32 375.24h2.71v8.40h-2.71zM407.32 284.67h2.71v20.64h-2.71zM407.32 267.53h2.71v13.29h-2.71zM409.83 375.24h2.71v8.40h-2.71zM409.83 277.32h2.71v23.08h-2.71zM409.83 233.26h2.71v5.95h-2.71zM412.34 495.19h2.71v55.61h-2.71zM412.34 294.46h2.71v10.84h-2.71zM414.85 529.47h2.71v21.33h-2.71zM414.85 468.27h2.71v57.36h-2.71zM414.85 191.64h2.71v25.53h-2.71zM417.35 541.71h2.71v5.95h-2.71zM417.35 522.12h2.71v8.40h-2.71zM417.35 465.82h2.71v27.98h-2.71zM417.35 433.99h2.71v15.74h-2.71zM419.86 517.23h2.71v33.57h-2.71zM419.86 463.37h2.71v42.67h-2.71zM419.86 243.05h2.71v8.40h-2.71zM419.86 230.81h2.71v3.50h-2.71zM422.37 328.73h2.71v3.50h-2.71zM422.37 311.59h2.71v3.50h-2.71zM422.37 260.19h2.71v10.84h-2.71zM422.37 218.57h2.71v8.40h-2.71zM424.88 416.86h2.71v10.84h-2.71zM424.88 385.03h2.71v18.19h-2.71zM424.88 367.90h2.71v8.40h-2.71zM424.88 321.39h2.71v10.84h-2.71zM424.88 230.81h2.71v8.40h-2.71zM427.39 478.06h2.71v72.74h-2.71zM427.39 465.82h2.71v8.40h-2.71zM427.39 372.79h2.71v47.56h-2.71zM427.39 238.15h2.71v8.40h-2.71zM427.39 228.36h2.71v3.50h-2.71zM429.89 531.91h2.71v18.89h-2.71zM429.89 502.54h2.71v18.19h-2.71zM429.89 372.79h2.71v111.21h-2.71z"/>
<path fill="#ffd600" d="M239.29 424.20h2.71v10.84h-2.71zM239.29 409.51h2.71v5.95h-2.71zM246.81 375.24h2.71v25.53h-2.71zM246.81 316.49h2.71v5.95h-2.71zM259.35 350.76h2.71v20.64h-2.71zM281.92 416.86h2.71v20.64h-2.71zM281.92 265.08h2.71v10.84h-2.71zM284.43 409.51h2.71v23.08h-2.71zM284.43 265.08h2.71v15.74h-2.71zM286.94 504.99h2.71v10.84h-2.71zM286.94 426.65h2.71v42.67h-2.71zM286.94 411.96h2.71v3.50h-2.71zM286.94 382.59h2.71v8.40h-2.71zM286.94 365.45h2.71v13.29h-2.71zM286.94 345.87h2.71v13.29h-2.71zM289.45 279.77h2.71v10.84h-2.71zM289.45 265.08h2.71v8.40h-2.71zM291.95 287.11h2.71v3.50h-2.71zM291.95 206.33h2.71v3.50h-2.71zM296.97 380.14h2.71v3.50h-2.71zM296.97 367.90h2.71v5.95h-2.71zM296.97 333.63h2.71v10.84h-2.71zM296.97 186.75h2.71v8.40h-2.71zM296.97 176.95h2.71v5.95h-2.71zM299.48 367.90h2.71v5.95h-2.71zM299.48 250.39h2.71v23.08h-2.71zM299.48 176.95h2.71v5.95h-2.71zM299.48 152.47h2.71v18.19h-2.71zM301.99 306.70h2.71v5.95h-2.71zM301.99 164.71h2.71v10.84h-2.71zM301.99 152.47h2.71v5.95h-2.71zM304.49 360.55h2.71v5.95h-2.71zM304.49 318.94h2.71v10.84h-2.71zM307.00 365.45h2.71v13.29h-2.71zM309.51 314.04h2.71v8.40h-2.71zM309.51 289.56h2.71v8.40h-2.71zM312.02 289.56h2.71v8.40h-2.71zM312.02 267.53h2.71v8.40h-2.71zM314.53 456.03h2.71v10.84h-2.71zM314.53 287.11h2.71v8.40h-2.71zM317.03 336.07h2.71v13.29h-2.71zM317.03 257.74h2.71v23.08h-2.71zM319.54 277.32h2.71v8.40h-2.71zM319.54 225.91h2.71v18.19h-2.71zM382.24 355.66h2.71v23.08h-2.71zM384.75 353.21h2.71v15.74h-2.71zM384.75 336.07h2.71v8.40h-2.71zM384.75 184.30h2.71v13.29h-2.71zM384.75 152.47h2.71v3.50h-2.71zM387.26 152.47h2.71v5.95h-2.71zM389.77 311.59h2.71v5.95h-2.71zM389.77 292.01h2.71v3.50h-2.71zM389.77 267.53h2.71v10.84h-2.71zM389.77 184.30h2.71v10.84h-2.71zM389.77 167.16h2.71v8.40h-2.71zM392.27 318.94h2.71v8.40h-2.71zM392.27 299.35h2.71v15.74h-2.71zM394.78 269.98h2.71v8.40h-2.71zM394.78 184.30h2.71v5.95h-2.71zM397.29 365.45h2.71v5.95h-2.71zM397.29 167.16h2.71v5.95h-2.71zM399.80 392.38h2.71v5.95h-2.71zM399.80 367.90h2.71v18.19h-2.71zM402.31 321.39h2.71v3.50h-2.71zM404.81 296.91h2.71v3.50h-2.71zM407.32 367.90h2.71v8.40h-2.71zM407.32 318.94h2.71v20.64h-2.71zM407.32 304.25h2.71v3.50h-2.71zM409.83 367.90h2.71v8.40h-2.71zM409.83 321.39h2.71v15.74h-2.71zM412.34 262.63h2.71v10.84h-2.71zM414.85 431.55h2.71v25.53h-2.71zM417.35 451.13h2.71v10.84h-2.71zM417.35 431.55h2.71v3.50h-2.71zM419.86 504.99h2.71v13.29h-2.71zM419.86 431.55h2.71v10.84h-2.71zM422.37 292.01h2.71v20.64h-2.71zM422.37 250.39h2.71v3.50h-2.71zM424.88 443.79h2.71v5.95h-2.71zM424.88 426.65h2.71v8.40h-2.71zM424.88 407.07h2.71v5.95h-2.71zM427.39 419.31h2.71v15.74h-2.71zM427.39 355.66h2.71v18.19h-2.71zM427.39 250.39h2.71v3.50h-2.71zM429.89 365.45h2.71v8.40h-2.71zM429.89 331.18h2.71v23.08h-2.71zM437.42 279.77h2.71v30.43h-2.71zM545.26 546.60h2.71v4.20h-2.71zM550.28 529.47h2.71v10.84h-2.71zM552.79 519.67h2.71v13.29h-2.71zM555.29 539.26h2.71v5.95h-2.71z"/>
<path fill="#ffc100" d="M184.11 524.57h2.71v26.23h-2.71zM186.62 524.57h2.71v26.23h-2.71zM189.13 507.43h2.71v43.37h-2.71zM191.63 495.19h2.71v55.61h-2.71zM194.14 495.19h2.71v55.61h-2.71zM196.65 495.19h2.71v55.61h-2.71zM199.16 546.60h2.71v4.20h-2.71zM199.16 531.91h2.71v3.50h-2.71zM199.16 480.51h2.71v13.29h-2.71zM201.67 544.15h2.71v6.65h-2.71zM201.67 534.36h2.71v5.95h-2.71zM201.67 487.85h2.71v23.08h-2.71zM204.17 487.85h2.71v62.95h-2.71zM204.17 453.58h2.71v30.43h-2.71zM206.68 475.61h2.71v75.19h-2.71zM206.68 438.89h2.71v20.64h-2.71zM209.19 517.23h2.71v33.57h-2.71zM209.19 507.43h2.71v5.95h-2.71zM209.19 480.51h2.71v8.40h-2.71zM209.19 453.58h2.71v5.95h-2.71zM209.19 433.99h2.71v5.95h-2.71zM211.70 497.64h2.71v53.16h-2.71zM211.70 424.20h2.71v69.60h-2.71zM214.21 460.92h2.71v89.88h-2.71zM214.21 411.96h2.71v32.88h-2.71zM216.71 424.20h2.71v126.60h-2.71zM219.22 473.16h2.71v77.64h-2.71zM219.22 448.68h2.71v18.19h-2.71zM231.76 504.99h2.71v45.81h-2.71zM231.76 429.10h2.71v23.08h-2.71zM231.76 323.83h2.71v32.88h-2.71zM234.27 500.09h2.71v50.71h-2.71zM234.27 468.27h2.71v23.08h-2.71zM234.27 343.42h2.71v25.53h-2.71zM236.78 512.33h2.71v38.47h-2.71zM236.78 463.37h2.71v37.77h-2.71zM236.78 424.20h2.71v5.95h-2.71zM239.29 433.99h2.71v116.81h-2.71zM239.29 414.41h2.71v10.84h-2.71zM239.29 343.42h2.71v47.56h-2.71zM241.79 480.51h2.71v70.29h-2.71zM244.30 470.71h2.71v80.09h-2.71zM246.81 480.51h2.71v70.29h-2.71zM246.81 399.72h2.71v76.94h-2.71zM246.81 350.76h2.71v25.53h-2.71zM249.32 529.47h2.71v21.33h-2.71zM249.32 480.51h2.71v20.64h-2.71zM249.32 424.20h2.71v40.22h-2.71zM249.32 311.59h2.71v15.74h-2.71zM251.83 468.27h2.71v82.53h-2.71zM251.83 433.99h2.71v20.64h-2.71zM251.83 331.18h2.71v5.95h-2.71zM256.84 424.20h2.71v126.60h-2.71zM259.35 507.43h2.71v43.37h-2.71zM259.35 431.55h2.71v57.36h-2.71zM259.35 370.35h2.71v27.98h-2.71zM259.35 343.42h2.71v8.40h-2.71zM266.87 541.71h2.71v9.09h-2.71zM266.87 487.85h2.71v45.12h-2.71zM266.87 460.92h2.71v10.84h-2.71zM266.87 299.35h2.71v15.74h-2.71zM269.38 502.54h2.71v48.26h-2.71zM269.38 424.20h2.71v72.04h-2.71zM271.89 460.92h2.71v59.80h-2.71zM271.89 431.55h2.71v15.74h-2.71zM271.89 385.03h2.71v18.19h-2.71zM271.89 358.11h2.71v18.19h-2.71zM271.89 289.56h2.71v13.29h-2.71zM274.40 512.33h2.71v38.47h-2.71zM274.40 470.71h2.71v32.88h-2.71zM274.40 426.65h2.71v8.40h-2.71zM276.91 541.71h2.71v9.09h-2.71zM276.91 448.68h2.71v69.60h-2.71zM279.41 456.03h2.71v94.77h-2.71zM279.41 426.65h2.71v25.53h-2.71zM279.41 380.14h2.71v40.22h-2.71zM279.41 343.42h2.71v32.88h-2.71zM281.92 397.27h2.71v13.29h-2.71zM281.92 387.48h2.71v5.95h-2.71zM281.92 152.47h2.71v8.40h-2.71zM284.43 387.48h2.71v23.08h-2.71zM286.94 399.72h2.71v13.29h-2.71zM286.94 316.49h2.71v20.64h-2.71zM286.94 189.19h2.71v18.19h-2.71zM289.45 255.29h2.71v10.84h-2.71zM289.45 213.67h2.71v5.95h-2.71zM291.95 247.95h2.71v13.29h-2.71zM291.95 191.64h2.71v15.74h-2.71zM294.46 245.50h2.71v10.84h-2.71zM294.46 196.54h2.71v5.95h-2.71zM296.97 365.45h2.71v3.50h-2.71zM296.97 216.12h2.71v3.50h-2.71zM299.48 360.55h2.71v8.40h-2.71zM299.48 350.76h2.71v5.95h-2.71zM299.48 181.85h2.71v8.40h-2.71zM301.99 274.87h2.71v13.29h-2.71zM301.99 191.64h2.71v20.64h-2.71zM304.49 345.87h2.71v5.95h-2.71zM304.49 299.35h2.71v5.95h-2.71zM304.49 262.63h2.71v5.95h-2.71zM307.00 377.69h2.71v20.64h-2.71zM307.00 331.18h2.71v20.64h-2.71zM307.00 269.98h2.71v8.40h-2.71zM309.51 309.15h2.71v5.95h-2.71zM309.51 279.77h2.71v10.84h-2.71zM312.02 304.25h2.71v8.40h-2.71zM314.53 512.33h2.71v35.32h-2.71zM314.53 277.32h2.71v10.84h-2.71zM314.53 247.95h2.71v5.95h-2.71zM314.53 208.78h2.71v27.98h-2.71zM314.53 184.30h2.71v5.95h-2.71zM317.03 299.35h2.71v10.84h-2.71zM317.03 238.15h2.71v20.64h-2.71zM317.03 201.43h2.71v5.95h-2.71zM317.03 191.64h2.71v5.95h-2.71zM317.03 164.71h2.71v15.74h-2.71zM384.75 279.77h2.71v10.84h-2.71zM389.77 301.80h2.71v10.84h-2.71zM389.77 287.11h2.71v5.95h-2.71zM389.77 257.74h2.71v10.84h-2.71zM389.77 194.09h2.71v20.64h-2.71zM392.27 272.43h2.71v27.98h-2.71zM394.78 257.74h2.71v3.50h-2.71zM397.29 331.18h2.71v18.19h-2.71zM397.29 299.35h2.71v5.95h-2.71zM397.29 265.08h2.71v15.74h-2.71zM399.80 358.11h2.71v10.84h-2.71zM399.80 294.46h2.71v52.46h-2.71zM399.80 262.63h2.71v25.53h-2.71zM399.80 250.39h2.71v8.40h-2.71zM399.80 230.81h2.71v8.40h-2.71zM402.31 316.49h2.71v5.95h-2.71zM402.31 289.56h2.71v3.50h-2.71zM402.31 201.43h2.71v5.95h-2.71zM404.81 314.04h2.71v3.50h-2.71zM404.81 289.56h2.71v8.40h-2.71zM407.32 363.00h2.71v5.95h-2.71zM407.32 338.52h2.71v13.29h-2.71zM407.32 255.29h2.71v5.95h-2.71zM407.32 216.12h2.71v8.40h-2.71zM407.32 159.82h2.71v13.29h-2.71zM409.83 365.45h2.71v3.50h-2.71zM409.83 243.05h2.71v8.40h-2.71zM414.85 411.96h2.71v20.64h-2.71zM414.85 321.39h2.71v13.29h-2.71zM414.85 238.15h2.71v13.29h-2.71zM414.85 230.81h2.71v3.50h-2.71zM417.35 460.92h2.71v5.95h-2.71zM417.35 411.96h2.71v20.64h-2.71zM419.86 411.96h2.71v20.64h-2.71zM422.37 287.11h2.71v5.95h-2.71zM424.88 433.99h2.71v8.40h-2.71zM424.88 272.43h2.71v15.74h-2.71zM427.39 321.39h2.71v10.84h-2.71zM429.89 292.01h2.71v40.22h-2.71zM432.40 416.86h2.71v133.94h-2.71zM432.40 336.07h2.71v74.49h-2.71zM434.91 416.86h2.71v133.94h-2.71zM434.91 350.76h2.71v62.25h-2.71zM437.42 527.02h2.71v23.78h-2.71zM437.42 504.99h2.71v5.95h-2.71zM437.42 414.41h2.71v57.36h-2.71zM437.42 382.59h2.71v20.64h-2.71zM437.42 353.21h2.71v5.95h-2.71zM437.42 336.07h2.71v13.29h-2.71zM437.42 314.04h2.71v5.95h-2.71zM439.93 529.47h2.71v21.33h-2.71zM439.93 431.55h2.71v89.18h-2.71zM439.93 397.27h2.71v15.74h-2.71zM439.93 348.31h2.71v8.40h-2.71zM442.43 456.03h2.71v94.77h-2.71zM442.43 355.66h2.71v86.73h-2.71zM442.43 294.46h2.71v5.95h-2.71zM444.94 424.20h2.71v126.60h-2.71zM444.94 358.11h2.71v57.36h-2.71zM444.94 333.63h2.71v20.64h-2.71zM447.45 480.51h2.71v70.29h-2.71zM447.45 331.18h2.71v130.80h-2.71zM447.45 316.49h2.71v8.40h-2.71zM449.96 340.97h2.71v209.83h-2.71zM452.47 441.34h2.71v109.46h-2.71zM452.47 360.55h2.71v64.70h-2.71zM454.97 519.67h2.71v31.13h-2.71zM454.97 451.13h2.71v32.88h-2.71zM454.97 414.41h2.71v10.84h-2.71zM454.97 355.66h2.71v27.98h-2.71zM457.48 402.17h2.71v148.63h-2.71zM457.48 358.11h2.71v40.22h-2.71zM459.99 424.20h2.71v126.60h-2.71zM459.99 375.24h2.71v40.22h-2.71zM462.50 517.23h2.71v33.57h-2.71zM462.50 482.95h2.71v8.40h-2.71zM462.50 419.31h2.71v50.01h-2.71zM462.50 372.79h2.71v42.67h-2.71zM465.01 512.33h2.71v8.40h-2.71zM465.01 394.83h2.71v94.08h-2.71zM467.51 534.36h2.71v16.44h-2.71zM467.51 514.78h2.71v8.40h-2.71zM467.51 495.19h2.71v13.29h-2.71zM467.51 426.65h2.71v64.70h-2.71zM470.02 446.23h2.71v104.57h-2.71zM472.53 446.23h2.71v104.57h-2.71zM475.04 438.89h2.71v111.91h-2.71zM477.55 514.78h2.71v36.02h-2.71zM477.55 424.20h2.71v89.18h-2.71zM480.05 443.79h2.71v107.01h-2.71zM482.56 443.79h2.71v107.01h-2.71zM485.07 480.51h2.71v70.29h-2.71zM487.58 478.06h2.71v72.74h-2.71zM490.09 478.06h2.71v72.74h-2.71zM492.59 478.06h2.71v72.74h-2.71zM495.10 448.68h2.71v102.12h-2.71zM497.61 497.64h2.71v15.74h-2.71zM500.12 453.58h2.71v97.22h-2.71zM502.63 453.58h2.71v97.22h-2.71zM505.13 456.03h2.71v94.77h-2.71zM507.64 495.19h2.71v55.61h-2.71zM507.64 458.47h2.71v30.43h-2.71zM510.15 458.47h2.71v92.33h-2.71zM512.66 458.47h2.71v92.33h-2.71zM515.17 470.71h2.71v80.09h-2.71zM517.67 507.43h2.71v43.37h-2.71zM517.67 470.71h2.71v32.88h-2.71zM520.18 470.71h2.71v80.09h-2.71zM522.69 473.16h2.71v77.64h-2.71zM525.20 487.85h2.71v62.95h-2.71zM525.20 473.16h2.71v3.50h-2.71zM527.71 473.16h2.71v77.64h-2.71zM530.21 475.61h2.71v75.19h-2.71zM532.72 522.12h2.71v28.68h-2.71zM535.23 546.60h2.71v4.20h-2.71zM535.23 522.12h2.71v8.40h-2.71zM537.74 517.23h2.71v3.50h-2.71zM540.25 512.33h2.71v38.47h-2.71zM542.75 514.78h2.71v36.02h-2.71zM545.26 514.78h2.71v32.88h-2.71zM547.77 514.78h2.71v15.74h-2.71zM550.28 539.26h2.71v11.54h-2.71zM550.28 514.78h2.71v15.74h-2.71zM552.79 531.91h2.71v18.89h-2.71zM555.29 544.15h2.71v6.65h-2.71zM555.29 524.57h2.71v15.74h-2.71zM557.80 524.57h2.71v26.23h-2.71zM560.31 529.47h2.71v21.33h-2.71zM562.82 531.91h2.71v18.89h-2.71zM565.33 534.36h2.71v16.44h-2.71zM567.83 539.26h2.71v5.95h-2.71zM570.34 539.26h2.71v11.54h-2.71zM572.85 544.15h2.71v6.65h-2.71z"/>
<path fill="#ffab00" d="M199.16 534.36h2.71v13.29h-2.71zM199.16 492.75h2.71v40.22h-2.71zM201.67 539.26h2.71v5.95h-2.71zM201.67 509.88h2.71v25.53h-2.71zM201.67 463.37h2.71v25.53h-2.71zM204.17 482.95h2.71v5.95h-2.71zM209.19 512.33h2.71v5.95h-2.71zM209.19 487.85h2.71v20.64h-2.71zM209.19 475.61h2.71v5.95h-2.71zM209.19 438.89h2.71v15.74h-2.71zM209.19 429.10h2.71v5.95h-2.71zM211.70 492.75h2.71v5.95h-2.71zM211.70 411.96h2.71v13.29h-2.71zM214.21 443.79h2.71v18.19h-2.71zM216.71 411.96h2.71v13.29h-2.71zM219.22 465.82h2.71v8.40h-2.71zM219.22 433.99h2.71v15.74h-2.71zM219.22 411.96h2.71v13.29h-2.71zM229.25 524.57h2.71v26.23h-2.71zM229.25 424.20h2.71v94.08h-2.71zM229.25 343.42h2.71v8.40h-2.71zM231.76 451.13h2.71v54.91h-2.71zM231.76 355.66h2.71v67.15h-2.71zM234.27 367.90h2.71v32.88h-2.71zM234.27 323.83h2.71v20.64h-2.71zM236.78 500.09h2.71v13.29h-2.71zM236.78 456.03h2.71v8.40h-2.71zM236.78 429.10h2.71v10.84h-2.71zM236.78 380.14h2.71v45.12h-2.71zM239.29 389.93h2.71v20.64h-2.71zM239.29 323.83h2.71v20.64h-2.71zM241.79 338.52h2.71v143.04h-2.71zM244.30 392.38h2.71v79.39h-2.71zM244.30 336.07h2.71v52.46h-2.71zM246.81 475.61h2.71v5.95h-2.71zM246.81 345.87h2.71v5.95h-2.71zM246.81 321.39h2.71v18.19h-2.71zM246.81 309.15h2.71v8.40h-2.71zM249.32 500.09h2.71v30.43h-2.71zM249.32 463.37h2.71v18.19h-2.71zM249.32 350.76h2.71v74.49h-2.71zM249.32 326.28h2.71v10.84h-2.71zM251.83 453.58h2.71v15.74h-2.71zM251.83 392.38h2.71v42.67h-2.71zM251.83 365.45h2.71v23.08h-2.71zM251.83 336.07h2.71v8.40h-2.71zM251.83 311.59h2.71v20.64h-2.71zM254.33 411.96h2.71v138.84h-2.71zM254.33 380.14h2.71v15.74h-2.71zM254.33 289.56h2.71v27.98h-2.71zM256.84 367.90h2.71v57.36h-2.71zM256.84 311.59h2.71v52.46h-2.71zM256.84 172.06h2.71v18.19h-2.71zM259.35 487.85h2.71v20.64h-2.71zM259.35 421.75h2.71v10.84h-2.71zM259.35 301.80h2.71v42.67h-2.71zM259.35 164.71h2.71v133.24h-2.71zM261.86 399.72h2.71v79.39h-2.71zM261.86 365.45h2.71v10.84h-2.71zM261.86 306.70h2.71v52.46h-2.71zM264.37 350.76h2.71v167.52h-2.71zM264.37 326.28h2.71v13.29h-2.71zM264.37 154.92h2.71v8.40h-2.71zM266.87 531.91h2.71v10.84h-2.71zM266.87 470.71h2.71v18.19h-2.71zM266.87 416.86h2.71v45.12h-2.71zM266.87 365.45h2.71v50.01h-2.71zM266.87 314.04h2.71v42.67h-2.71zM266.87 152.47h2.71v8.40h-2.71zM269.38 495.19h2.71v8.40h-2.71zM269.38 318.94h2.71v106.32h-2.71zM271.89 519.67h2.71v31.13h-2.71zM271.89 446.23h2.71v15.74h-2.71zM271.89 402.17h2.71v30.43h-2.71zM271.89 343.42h2.71v15.74h-2.71zM271.89 311.59h2.71v25.53h-2.71zM274.40 502.54h2.71v10.84h-2.71zM274.40 453.58h2.71v18.19h-2.71zM274.40 433.99h2.71v15.74h-2.71zM274.40 394.83h2.71v15.74h-2.71zM276.91 517.23h2.71v25.53h-2.71zM276.91 411.96h2.71v37.77h-2.71zM276.91 394.83h2.71v8.40h-2.71zM276.91 306.70h2.71v8.40h-2.71zM279.41 451.13h2.71v5.95h-2.71zM279.41 419.31h2.71v8.40h-2.71zM279.41 375.24h2.71v5.95h-2.71zM279.41 331.18h2.71v13.29h-2.71zM279.41 265.08h2.71v57.36h-2.71zM279.41 230.81h2.71v20.64h-2.71zM279.41 152.47h2.71v59.80h-2.71zM281.92 409.51h2.71v8.40h-2.71zM281.92 394.83h2.71v3.50h-2.71zM281.92 375.24h2.71v13.29h-2.71zM281.92 230.81h2.71v15.74h-2.71zM281.92 184.30h2.71v30.43h-2.71zM284.43 370.35h2.71v18.19h-2.71zM286.94 262.63h2.71v10.84h-2.71zM286.94 172.06h2.71v18.19h-2.71zM291.95 301.80h2.71v5.95h-2.71zM291.95 284.67h2.71v3.50h-2.71zM291.95 152.47h2.71v30.43h-2.71zM294.46 363.00h2.71v3.50h-2.71zM294.46 292.01h2.71v8.40h-2.71zM294.46 235.71h2.71v10.84h-2.71zM294.46 174.51h2.71v5.95h-2.71zM296.97 250.39h2.71v5.95h-2.71zM296.97 213.67h2.71v3.50h-2.71zM299.48 323.83h2.71v20.64h-2.71zM299.48 272.43h2.71v30.43h-2.71zM299.48 233.26h2.71v8.40h-2.71zM301.99 355.66h2.71v10.84h-2.71zM301.99 257.74h2.71v18.19h-2.71zM301.99 230.81h2.71v10.84h-2.71zM301.99 211.23h2.71v8.40h-2.71zM304.49 287.11h2.71v13.29h-2.71zM304.49 233.26h2.71v5.95h-2.71zM304.49 184.30h2.71v20.64h-2.71zM304.49 174.51h2.71v5.95h-2.71zM307.00 309.15h2.71v23.08h-2.71zM307.00 189.19h2.71v18.19h-2.71zM307.00 154.92h2.71v5.95h-2.71zM309.51 272.43h2.71v8.40h-2.71zM309.51 250.39h2.71v5.95h-2.71zM309.51 208.78h2.71v5.95h-2.71zM309.51 174.51h2.71v15.74h-2.71zM312.02 299.35h2.71v5.95h-2.71zM312.02 225.91h2.71v5.95h-2.71zM312.02 169.61h2.71v5.95h-2.71zM317.03 282.22h2.71v18.19h-2.71zM319.54 196.54h2.71v3.50h-2.71zM384.75 311.59h2.71v13.29h-2.71zM384.75 289.56h2.71v13.29h-2.71zM387.26 196.54h2.71v13.29h-2.71zM389.77 294.46h2.71v8.40h-2.71zM389.77 223.47h2.71v35.32h-2.71zM392.27 260.19h2.71v13.29h-2.71zM392.27 250.39h2.71v5.95h-2.71zM394.78 250.39h2.71v8.40h-2.71zM397.29 201.43h2.71v13.29h-2.71zM399.80 198.99h2.71v23.08h-2.71zM402.31 279.77h2.71v10.84h-2.71zM402.31 240.60h2.71v5.95h-2.71zM404.81 304.25h2.71v10.84h-2.71zM404.81 279.77h2.71v10.84h-2.71zM404.81 198.99h2.71v10.84h-2.71zM407.32 279.77h2.71v5.95h-2.71zM407.32 230.81h2.71v10.84h-2.71zM409.83 238.15h2.71v5.95h-2.71zM412.34 218.57h2.71v8.40h-2.71zM412.34 206.33h2.71v3.50h-2.71zM414.85 394.83h2.71v18.19h-2.71zM414.85 355.66h2.71v5.95h-2.71zM414.85 225.91h2.71v5.95h-2.71zM417.35 394.83h2.71v18.19h-2.71zM417.35 340.97h2.71v25.53h-2.71zM419.86 399.72h2.71v13.29h-2.71zM419.86 338.52h2.71v23.08h-2.71zM419.86 216.12h2.71v5.95h-2.71zM424.88 448.68h2.71v32.88h-2.71zM424.88 441.34h2.71v3.50h-2.71zM424.88 411.96h2.71v5.95h-2.71zM424.88 306.70h2.71v15.74h-2.71zM424.88 250.39h2.71v23.08h-2.71zM427.39 252.84h2.71v23.08h-2.71zM429.89 252.84h2.71v40.22h-2.71zM432.40 409.51h2.71v8.40h-2.71zM432.40 328.73h2.71v8.40h-2.71zM432.40 282.22h2.71v37.77h-2.71zM434.91 411.96h2.71v5.95h-2.71zM434.91 274.87h2.71v76.94h-2.71zM437.42 318.94h2.71v18.19h-2.71zM437.42 309.15h2.71v5.95h-2.71zM439.93 318.94h2.71v30.43h-2.71zM442.43 441.34h2.71v15.74h-2.71zM442.43 299.35h2.71v57.36h-2.71zM444.94 414.41h2.71v10.84h-2.71zM444.94 353.21h2.71v5.95h-2.71zM444.94 311.59h2.71v23.08h-2.71zM444.94 287.11h2.71v5.95h-2.71zM447.45 460.92h2.71v20.64h-2.71zM447.45 311.59h2.71v5.95h-2.71zM449.96 311.59h2.71v30.43h-2.71zM452.47 424.20h2.71v18.19h-2.71zM452.47 343.42h2.71v18.19h-2.71zM454.97 482.95h2.71v37.77h-2.71zM454.97 424.20h2.71v27.98h-2.71zM454.97 382.59h2.71v32.88h-2.71zM454.97 343.42h2.71v13.29h-2.71zM457.48 397.27h2.71v5.95h-2.71zM457.48 350.76h2.71v8.40h-2.71zM459.99 414.41h2.71v10.84h-2.71zM459.99 363.00h2.71v13.29h-2.71zM475.04 436.44h2.71v3.50h-2.71zM477.55 512.33h2.71v3.50h-2.71zM507.64 487.85h2.71v8.40h-2.71zM507.64 456.03h2.71v3.50h-2.71zM517.67 502.54h2.71v5.95h-2.71zM525.20 475.61h2.71v13.29h-2.71zM535.23 529.47h2.71v18.19h-2.71zM547.77 544.15h2.71v6.65h-2.71zM567.83 544.15h2.71v6.65h-2.71z"/>
<path fill="#ff9600" d="M206.68 458.47h2.71v18.19h-2.71zM209.19 458.47h2.71v18.19h-2.71zM219.22 424.20h2.71v10.84h-2.71zM231.76 421.75h2.71v8.40h-2.71zM236.78 438.89h2.71v18.19h-2.71zM236.78 333.63h2.71v47.56h-2.71zM236.78 323.83h2.71v3.50h-2.71zM241.79 328.73h2.71v10.84h-2.71zM244.30 387.48h2.71v5.95h-2.71zM244.30 328.73h2.71v8.40h-2.71zM246.81 338.52h2.71v8.40h-2.71zM246.81 294.46h2.71v15.74h-2.71zM249.32 277.32h2.71v35.32h-2.71zM251.83 387.48h2.71v5.95h-2.71zM251.83 343.42h2.71v23.08h-2.71zM251.83 289.56h2.71v23.08h-2.71zM251.83 230.81h2.71v45.12h-2.71zM254.33 399.72h2.71v13.29h-2.71zM254.33 316.49h2.71v64.70h-2.71zM256.84 363.00h2.71v5.95h-2.71zM256.84 189.19h2.71v123.45h-2.71zM259.35 397.27h2.71v25.53h-2.71zM261.86 292.01h2.71v8.40h-2.71zM266.87 414.41h2.71v3.50h-2.71zM266.87 355.66h2.71v10.84h-2.71zM266.87 274.87h2.71v25.53h-2.71zM266.87 179.40h2.71v84.28h-2.71zM266.87 159.82h2.71v13.29h-2.71zM269.38 282.22h2.71v13.29h-2.71zM269.38 230.81h2.71v25.53h-2.71zM269.38 152.47h2.71v74.49h-2.71zM271.89 301.80h2.71v10.84h-2.71zM271.89 272.43h2.71v18.19h-2.71zM271.89 201.43h2.71v40.22h-2.71zM271.89 154.92h2.71v40.22h-2.71zM274.40 448.68h2.71v5.95h-2.71zM274.40 409.51h2.71v18.19h-2.71zM274.40 367.90h2.71v8.40h-2.71zM274.40 292.01h2.71v54.91h-2.71zM276.91 402.17h2.71v10.84h-2.71zM276.91 367.90h2.71v10.84h-2.71zM276.91 314.04h2.71v42.67h-2.71zM276.91 292.01h2.71v15.74h-2.71zM279.41 321.39h2.71v10.84h-2.71zM279.41 250.39h2.71v15.74h-2.71zM279.41 211.23h2.71v10.84h-2.71zM281.92 392.38h2.71v3.50h-2.71zM281.92 345.87h2.71v20.64h-2.71zM281.92 274.87h2.71v32.88h-2.71zM281.92 257.74h2.71v8.40h-2.71zM281.92 213.67h2.71v18.19h-2.71zM284.43 279.77h2.71v91.63h-2.71zM284.43 250.39h2.71v8.40h-2.71zM284.43 233.26h2.71v15.74h-2.71zM284.43 208.78h2.71v5.95h-2.71zM284.43 152.47h2.71v35.32h-2.71zM286.94 245.50h2.71v18.19h-2.71zM286.94 235.71h2.71v8.40h-2.71zM286.94 206.33h2.71v25.53h-2.71zM286.94 152.47h2.71v20.64h-2.71zM289.45 218.57h2.71v18.19h-2.71zM289.45 203.88h2.71v10.84h-2.71zM289.45 174.51h2.71v20.64h-2.71zM289.45 152.47h2.71v10.84h-2.71zM291.95 274.87h2.71v10.84h-2.71zM291.95 216.12h2.71v8.40h-2.71zM294.46 262.63h2.71v30.43h-2.71zM294.46 216.12h2.71v8.40h-2.71zM296.97 343.42h2.71v8.40h-2.71zM296.97 328.73h2.71v5.95h-2.71zM296.97 181.85h2.71v5.95h-2.71zM296.97 152.47h2.71v25.53h-2.71zM299.48 240.60h2.71v3.50h-2.71zM301.99 289.56h2.71v5.95h-2.71zM301.99 240.60h2.71v10.84h-2.71zM301.99 179.40h2.71v10.84h-2.71zM304.49 272.43h2.71v15.74h-2.71zM307.00 304.25h2.71v5.95h-2.71zM309.51 267.53h2.71v5.95h-2.71zM319.54 176.95h2.71v20.64h-2.71zM387.26 225.91h2.71v3.50h-2.71zM389.77 174.51h2.71v5.95h-2.71zM389.77 152.47h2.71v15.74h-2.71zM392.27 216.12h2.71v25.53h-2.71zM392.27 152.47h2.71v3.50h-2.71zM394.78 208.78h2.71v13.29h-2.71zM394.78 152.47h2.71v15.74h-2.71zM399.80 162.27h2.71v37.77h-2.71zM402.31 272.43h2.71v8.40h-2.71zM402.31 169.61h2.71v18.19h-2.71zM402.31 152.47h2.71v8.40h-2.71zM404.81 299.35h2.71v5.95h-2.71zM404.81 272.43h2.71v8.40h-2.71zM407.32 223.47h2.71v8.40h-2.71zM412.34 203.88h2.71v3.50h-2.71zM414.85 380.14h2.71v15.74h-2.71zM414.85 309.15h2.71v13.29h-2.71zM417.35 380.14h2.71v15.74h-2.71zM417.35 292.01h2.71v13.29h-2.71zM419.86 380.14h2.71v15.74h-2.71zM419.86 287.11h2.71v23.08h-2.71zM422.37 240.60h2.71v10.84h-2.71zM422.37 225.91h2.71v10.84h-2.71zM424.88 480.51h2.71v45.12h-2.71zM424.88 287.11h2.71v20.64h-2.71zM424.88 238.15h2.71v13.29h-2.71zM424.88 225.91h2.71v5.95h-2.71zM427.39 348.31h2.71v8.40h-2.71zM427.39 245.50h2.71v5.95h-2.71zM427.39 230.81h2.71v8.40h-2.71zM429.89 245.50h2.71v8.40h-2.71zM432.40 318.94h2.71v10.84h-2.71zM432.40 240.60h2.71v10.84h-2.71zM434.91 247.95h2.71v27.98h-2.71zM439.93 279.77h2.71v40.22h-2.71zM442.43 282.22h2.71v13.29h-2.71zM447.45 323.83h2.71v8.40h-2.71zM537.74 519.67h2.71v31.13h-2.71zM547.77 529.47h2.71v15.74h-2.71zM565.33 531.91h2.71v3.50h-2.71z"/>
<path fill="#ff8000" d="M211.70 407.07h2.71v5.95h-2.71zM216.71 399.72h2.71v5.95h-2.71zM219.22 402.17h2.71v5.95h-2.71zM224.24 377.69h2.71v10.84h-2.71zM226.75 367.90h2.71v5.95h-2.71zM234.27 490.30h2.71v10.84h-2.71zM234.27 399.72h2.71v69.60h-2.71zM236.78 326.28h2.71v8.40h-2.71zM241.79 323.83h2.71v5.95h-2.71zM244.30 306.70h2.71v23.08h-2.71zM246.81 287.11h2.71v8.40h-2.71zM254.33 394.83h2.71v5.95h-2.71zM254.33 223.47h2.71v59.80h-2.71zM254.33 198.99h2.71v18.19h-2.71zM261.86 478.06h2.71v72.74h-2.71zM261.86 184.30h2.71v108.76h-2.71zM261.86 162.27h2.71v15.74h-2.71zM264.37 517.23h2.71v33.57h-2.71zM264.37 213.67h2.71v74.49h-2.71zM264.37 184.30h2.71v18.19h-2.71zM264.37 162.27h2.71v18.19h-2.71zM269.38 255.29h2.71v27.98h-2.71zM271.89 375.24h2.71v10.84h-2.71zM271.89 336.07h2.71v8.40h-2.71zM271.89 194.09h2.71v8.40h-2.71zM274.40 375.24h2.71v20.64h-2.71zM274.40 363.00h2.71v5.95h-2.71zM274.40 282.22h2.71v10.84h-2.71zM274.40 238.15h2.71v35.32h-2.71zM276.91 385.03h2.71v10.84h-2.71zM276.91 355.66h2.71v13.29h-2.71zM276.91 282.22h2.71v10.84h-2.71zM276.91 196.54h2.71v79.39h-2.71zM276.91 152.47h2.71v25.53h-2.71zM281.92 159.82h2.71v25.53h-2.71zM284.43 213.67h2.71v20.64h-2.71zM284.43 186.75h2.71v23.08h-2.71zM286.94 294.46h2.71v23.08h-2.71zM286.94 243.05h2.71v3.50h-2.71zM286.94 230.81h2.71v5.95h-2.71zM291.95 208.78h2.71v8.40h-2.71zM294.46 255.29h2.71v8.40h-2.71zM294.46 201.43h2.71v8.40h-2.71zM296.97 350.76h2.71v10.84h-2.71zM296.97 316.49h2.71v5.95h-2.71zM296.97 194.09h2.71v20.64h-2.71zM301.99 287.11h2.71v3.50h-2.71zM301.99 189.19h2.71v3.50h-2.71zM304.49 267.53h2.71v5.95h-2.71zM304.49 260.19h2.71v3.50h-2.71zM307.00 277.32h2.71v5.95h-2.71zM307.00 265.08h2.71v5.95h-2.71zM309.51 255.29h2.71v8.40h-2.71zM314.53 240.60h2.71v8.40h-2.71zM314.53 189.19h2.71v20.64h-2.71zM314.53 152.47h2.71v27.98h-2.71zM317.03 179.40h2.71v5.95h-2.71zM387.26 208.78h2.71v18.19h-2.71zM397.29 348.31h2.71v18.19h-2.71zM397.29 279.77h2.71v20.64h-2.71zM397.29 243.05h2.71v8.40h-2.71zM397.29 223.47h2.71v8.40h-2.71zM399.80 345.87h2.71v13.29h-2.71zM399.80 257.74h2.71v5.95h-2.71zM402.31 269.98h2.71v3.50h-2.71zM402.31 186.75h2.71v15.74h-2.71zM404.81 262.63h2.71v10.84h-2.71zM407.32 211.23h2.71v5.95h-2.71zM407.32 181.85h2.71v5.95h-2.71zM409.83 306.70h2.71v5.95h-2.71zM409.83 211.23h2.71v8.40h-2.71zM412.34 225.91h2.71v5.95h-2.71zM414.85 375.24h2.71v5.95h-2.71zM414.85 333.63h2.71v23.08h-2.71zM414.85 250.39h2.71v25.53h-2.71zM414.85 233.26h2.71v5.95h-2.71zM417.35 367.90h2.71v13.29h-2.71zM417.35 198.99h2.71v3.50h-2.71zM419.86 367.90h2.71v13.29h-2.71zM419.86 198.99h2.71v3.50h-2.71zM424.88 524.57h2.71v26.23h-2.71zM427.39 306.70h2.71v15.74h-2.71zM427.39 284.67h2.71v5.95h-2.71zM432.40 250.39h2.71v23.08h-2.71zM434.91 245.50h2.71v3.50h-2.71zM437.42 509.88h2.71v18.19h-2.71zM437.42 470.71h2.71v35.32h-2.71zM437.42 402.17h2.71v13.29h-2.71zM437.42 358.11h2.71v25.53h-2.71zM437.42 348.31h2.71v5.95h-2.71zM439.93 519.67h2.71v10.84h-2.71zM439.93 411.96h2.71v20.64h-2.71zM439.93 355.66h2.71v42.67h-2.71zM442.43 274.87h2.71v8.40h-2.71zM444.94 292.01h2.71v20.64h-2.71zM462.50 490.30h2.71v27.98h-2.71zM462.50 468.27h2.71v15.74h-2.71zM462.50 414.41h2.71v5.95h-2.71zM465.01 519.67h2.71v31.13h-2.71zM465.01 487.85h2.71v25.53h-2.71zM465.01 389.93h2.71v5.95h-2.71zM497.61 512.33h2.71v38.47h-2.71zM497.61 482.95h2.71v15.74h-2.71z"/>
<path fill="#ff6b00" d="M244.30 296.91h2.71v10.84h-2.71zM246.81 279.77h2.71v8.40h-2.71zM249.32 336.07h2.71v15.74h-2.71zM249.32 267.53h2.71v10.84h-2.71zM261.86 375.24h2.71v25.53h-2.71zM261.86 358.11h2.71v8.40h-2.71zM261.86 299.35h2.71v8.40h-2.71zM264.37 338.52h2.71v13.29h-2.71zM264.37 287.11h2.71v40.22h-2.71zM264.37 179.40h2.71v5.95h-2.71zM269.38 294.46h2.71v25.53h-2.71zM271.89 152.47h2.71v3.50h-2.71zM274.40 345.87h2.71v18.19h-2.71zM274.40 152.47h2.71v86.73h-2.71zM276.91 377.69h2.71v8.40h-2.71zM276.91 274.87h2.71v8.40h-2.71zM276.91 176.95h2.71v20.64h-2.71zM279.41 221.02h2.71v10.84h-2.71zM286.94 289.56h2.71v5.95h-2.71zM289.45 162.27h2.71v13.29h-2.71zM291.95 186.75h2.71v5.95h-2.71zM294.46 228.36h2.71v8.40h-2.71zM294.46 186.75h2.71v5.95h-2.71zM296.97 321.39h2.71v8.40h-2.71zM299.48 301.80h2.71v5.95h-2.71zM299.48 169.61h2.71v8.40h-2.71zM301.99 250.39h2.71v8.40h-2.71zM301.99 218.57h2.71v13.29h-2.71zM304.49 311.59h2.71v8.40h-2.71zM304.49 238.15h2.71v23.08h-2.71zM304.49 203.88h2.71v30.43h-2.71zM304.49 154.92h2.71v10.84h-2.71zM307.00 250.39h2.71v15.74h-2.71zM307.00 230.81h2.71v15.74h-2.71zM307.00 216.12h2.71v10.84h-2.71zM307.00 184.30h2.71v5.95h-2.71zM307.00 152.47h2.71v3.50h-2.71zM309.51 230.81h2.71v20.64h-2.71zM309.51 189.19h2.71v20.64h-2.71zM309.51 152.47h2.71v23.08h-2.71zM312.02 250.39h2.71v5.95h-2.71zM312.02 184.30h2.71v32.88h-2.71zM312.02 164.71h2.71v5.95h-2.71zM392.27 255.29h2.71v5.95h-2.71zM394.78 238.15h2.71v10.84h-2.71zM397.29 213.67h2.71v10.84h-2.71zM397.29 194.09h2.71v8.40h-2.71zM402.31 252.84h2.71v3.50h-2.71zM402.31 216.12h2.71v23.08h-2.71zM404.81 252.84h2.71v10.84h-2.71zM404.81 208.78h2.71v13.29h-2.71zM404.81 189.19h2.71v10.84h-2.71zM404.81 159.82h2.71v23.08h-2.71zM407.32 201.43h2.71v10.84h-2.71zM407.32 172.06h2.71v10.84h-2.71zM409.83 311.59h2.71v10.84h-2.71zM409.83 201.43h2.71v10.84h-2.71zM409.83 167.16h2.71v5.95h-2.71zM412.34 252.84h2.71v10.84h-2.71zM412.34 208.78h2.71v10.84h-2.71zM412.34 201.43h2.71v3.50h-2.71zM414.85 372.79h2.71v3.50h-2.71zM414.85 360.55h2.71v5.95h-2.71zM414.85 274.87h2.71v30.43h-2.71zM417.35 365.45h2.71v3.50h-2.71zM417.35 316.49h2.71v25.53h-2.71zM417.35 201.43h2.71v23.08h-2.71zM419.86 365.45h2.71v3.50h-2.71zM419.86 314.04h2.71v20.64h-2.71zM419.86 201.43h2.71v3.50h-2.71zM422.37 252.84h2.71v8.40h-2.71zM427.39 274.87h2.71v10.84h-2.71zM432.40 272.43h2.71v10.84h-2.71z"/>
<path fill="#ff5500" d="M186.62 519.67h2.71v5.95h-2.71zM221.73 546.60h2.71v4.20h-2.71zM221.73 463.37h2.71v8.40h-2.71zM224.24 419.31h2.71v5.95h-2.71zM226.75 487.85h2.71v15.74h-2.71zM226.75 460.92h2.71v13.29h-2.71zM226.75 438.89h2.71v5.95h-2.71zM229.25 517.23h2.71v8.40h-2.71zM229.25 350.76h2.71v74.49h-2.71zM249.32 257.74h2.71v10.84h-2.71zM259.35 296.91h2.71v5.95h-2.71zM266.87 172.06h2.71v8.40h-2.71zM269.38 225.91h2.71v5.95h-2.71zM271.89 245.50h2.71v8.40h-2.71zM274.40 272.43h2.71v10.84h-2.71zM281.92 306.70h2.71v40.22h-2.71zM281.92 250.39h2.71v8.40h-2.71zM289.45 235.71h2.71v10.84h-2.71zM291.95 181.85h2.71v5.95h-2.71zM294.46 223.47h2.71v5.95h-2.71zM294.46 184.30h2.71v3.50h-2.71zM294.46 152.47h2.71v10.84h-2.71zM296.97 360.55h2.71v5.95h-2.71zM299.48 343.42h2.71v8.40h-2.71zM304.49 304.25h2.71v8.40h-2.71zM307.00 282.22h2.71v23.08h-2.71zM309.51 262.63h2.71v5.95h-2.71zM312.02 262.63h2.71v5.95h-2.71zM314.53 235.71h2.71v5.95h-2.71zM314.53 179.40h2.71v5.95h-2.71zM392.27 198.99h2.71v18.19h-2.71zM392.27 164.71h2.71v25.53h-2.71zM394.78 189.19h2.71v20.64h-2.71zM394.78 174.51h2.71v10.84h-2.71zM397.29 321.39h2.71v10.84h-2.71zM397.29 172.06h2.71v23.08h-2.71zM397.29 152.47h2.71v15.74h-2.71zM399.80 223.47h2.71v8.40h-2.71zM399.80 152.47h2.71v10.84h-2.71zM402.31 245.50h2.71v8.40h-2.71zM402.31 238.15h2.71v3.50h-2.71zM402.31 159.82h2.71v10.84h-2.71zM404.81 221.02h2.71v32.88h-2.71zM407.32 191.64h2.71v10.84h-2.71zM409.83 191.64h2.71v10.84h-2.71zM412.34 250.39h2.71v3.50h-2.71zM412.34 191.64h2.71v10.84h-2.71zM414.85 365.45h2.71v8.40h-2.71zM417.35 257.74h2.71v10.84h-2.71zM417.35 230.81h2.71v23.08h-2.71zM419.86 309.15h2.71v5.95h-2.71zM419.86 274.87h2.71v5.95h-2.71zM419.86 250.39h2.71v18.19h-2.71zM419.86 233.26h2.71v10.84h-2.71zM422.37 269.98h2.71v18.19h-2.71zM422.37 235.71h2.71v5.95h-2.71zM424.88 221.02h2.71v5.95h-2.71zM427.39 289.56h2.71v18.19h-2.71zM467.51 522.12h2.71v13.29h-2.71zM467.51 507.43h2.71v8.40h-2.71zM467.51 490.30h2.71v5.95h-2.71zM497.61 448.68h2.71v35.32h-2.71z"/>
<path fill="#ff4000" d="M181.60 539.26h2.71v11.54h-2.71zM214.21 389.93h2.71v23.08h-2.71zM216.71 404.62h2.71v8.40h-2.71zM216.71 394.83h2.71v5.95h-2.71zM219.22 407.07h2.71v5.95h-2.71zM219.22 394.83h2.71v8.40h-2.71zM221.73 377.69h2.71v35.32h-2.71zM224.24 387.48h2.71v13.29h-2.71zM229.25 338.52h2.71v5.95h-2.71zM251.83 274.87h2.71v15.74h-2.71zM254.33 284.67h2.71v5.95h-2.71zM266.87 262.63h2.71v13.29h-2.71zM271.89 252.84h2.71v20.64h-2.71zM271.89 240.60h2.71v5.95h-2.71zM286.94 277.32h2.71v13.29h-2.71zM289.45 194.09h2.71v10.84h-2.71zM299.48 243.05h2.71v3.50h-2.71zM312.02 255.29h2.71v8.40h-2.71zM392.27 240.60h2.71v10.84h-2.71zM399.80 221.02h2.71v3.50h-2.71zM402.31 260.19h2.71v10.84h-2.71zM402.31 206.33h2.71v10.84h-2.71zM407.32 186.75h2.71v5.95h-2.71zM409.83 179.40h2.71v13.29h-2.71zM414.85 221.02h2.71v5.95h-2.71zM419.86 203.88h2.71v3.50h-2.71zM429.89 243.05h2.71v3.50h-2.71z"/>
<path fill="#ff2a00" d="M221.73 512.33h2.71v35.32h-2.71zM221.73 480.51h2.71v25.53h-2.71zM221.73 458.47h2.71v5.95h-2.71zM221.73 441.34h2.71v10.84h-2.71zM221.73 419.31h2.71v18.19h-2.71zM224.24 541.71h2.71v5.95h-2.71zM224.24 497.64h2.71v32.88h-2.71zM224.24 468.27h2.71v18.19h-2.71zM224.24 451.13h2.71v5.95h-2.71zM224.24 424.20h2.71v5.95h-2.71zM224.24 399.72h2.71v15.74h-2.71zM226.75 502.54h2.71v35.32h-2.71zM226.75 473.16h2.71v15.74h-2.71zM226.75 451.13h2.71v10.84h-2.71zM226.75 421.75h2.71v5.95h-2.71zM226.75 404.62h2.71v13.29h-2.71zM226.75 372.79h2.71v10.84h-2.71zM254.33 282.22h2.71v3.50h-2.71zM254.33 216.12h2.71v8.40h-2.71zM261.86 176.95h2.71v8.40h-2.71zM264.37 201.43h2.71v13.29h-2.71zM284.43 257.74h2.71v8.40h-2.71zM294.46 213.67h2.71v3.50h-2.71zM294.46 191.64h2.71v5.95h-2.71zM299.48 245.50h2.71v5.95h-2.71zM304.49 152.47h2.71v3.50h-2.71zM307.00 245.50h2.71v5.95h-2.71zM307.00 225.91h2.71v5.95h-2.71zM307.00 174.51h2.71v10.84h-2.71zM307.00 159.82h2.71v10.84h-2.71zM309.51 213.67h2.71v10.84h-2.71zM312.02 230.81h2.71v20.64h-2.71zM312.02 174.51h2.71v5.95h-2.71zM402.31 255.29h2.71v5.95h-2.71zM404.81 181.85h2.71v8.40h-2.71zM409.83 176.95h2.71v3.50h-2.71zM414.85 304.25h2.71v5.95h-2.71zM417.35 304.25h2.71v13.29h-2.71zM419.86 360.55h2.71v5.95h-2.71zM419.86 333.63h2.71v5.95h-2.71zM419.86 221.02h2.71v5.95h-2.71zM419.86 206.33h2.71v10.84h-2.71zM429.89 235.71h2.71v8.40h-2.71z"/>
<path fill="#ff1500" d="M221.73 504.99h2.71v8.40h-2.71zM221.73 470.71h2.71v10.84h-2.71zM221.73 436.44h2.71v5.95h-2.71zM224.24 546.60h2.71v4.20h-2.71zM224.24 490.30h2.71v8.40h-2.71zM224.24 438.89h2.71v13.29h-2.71zM224.24 429.10h2.71v5.95h-2.71zM224.24 414.41h2.71v5.95h-2.71zM226.75 541.71h2.71v9.09h-2.71zM226.75 426.65h2.71v13.29h-2.71zM226.75 392.38h2.71v13.29h-2.71zM294.46 208.78h2.71v5.95h-2.71zM294.46 179.40h2.71v5.95h-2.71zM417.35 267.53h2.71v25.53h-2.71zM417.35 252.84h2.71v5.95h-2.71zM419.86 279.77h2.71v8.40h-2.71zM419.86 267.53h2.71v8.40h-2.71z"/>
<path fill="#e70000" d="M307.00 206.33h2.71v10.84h-2.71zM307.00 169.61h2.71v5.95h-2.71zM312.02 216.12h2.71v10.84h-2.71zM409.83 172.06h2.71v5.95h-2.71z"/>
<path fill="#cd0000" d="M294.46 167.16h2.71v8.40h-2.71z"/>
<path fill="#980000" d="M221.73 451.13h2.71v8.40h-2.71zM221.73 411.96h2.71v8.40h-2.71zM224.24 529.47h2.71v13.29h-2.71zM224.24 485.40h2.71v5.95h-2.71zM224.24 456.03h2.71v13.29h-2.71zM224.24 433.99h2.71v5.95h-2.71zM226.75 536.81h2.71v5.95h-2.71zM226.75 443.79h2.71v8.40h-2.71zM226.75 416.86h2.71v5.95h-2.71zM226.75 382.59h2.71v10.84h-2.71z"/>
<rect x="195.20" y="499.00" width="1.2" height="39.00" fill="#fff"/>
<rect x="271.20" y="152.00" width="1.4" height="126.00" fill="#fff"/>
<rect x="280.90" y="246.00" width="1.2" height="32.00" fill="#fff"/>
<rect x="288.80" y="246.00" width="1.2" height="137.00" fill="#fff"/>
<rect x="304.20" y="169.00" width="2.6" height="25.00" fill="#fff"/>
<rect x="304.50" y="238.00" width="2.0" height="32.00" fill="#fff"/>
<rect x="402.30" y="190.00" width="1.2" height="72.00" fill="#fff"/>
<rect x="419.35" y="336.00" width="1.3" height="19.00" fill="#fff"/>
<rect x="440.70" y="317.00" width="2.0" height="16.00" fill="#fff"/>
<rect x="452.50" y="340.00" width="1.0" height="30.00" fill="#fff"/>
<rect x="469.40" y="430.00" width="1.0" height="31.00" fill="#fff"/>
<rect x="479.50" y="447.00" width="1.0" height="25.00" fill="#fff"/>
<rect x="488.05" y="481.00" width="1.1" height="61.00" fill="#fff"/>
<rect x="498.70" y="484.00" width="1.0" height="32.00" fill="#fff"/>
<rect x="403.50" y="181.00" width="4.0" height="4.50" fill="#fff"/>
<rect x="545.20" y="518.60" width="2.0" height="5.20" fill="#fff"/>
<rect x="281.4" y="150" width="8.80" height="62.50" fill="#fff"/>
<rect x="286.4" y="212" width="3.80" height="33.00" fill="#fff"/>
<rect x="532.8" y="474" width="1.50" height="66.50" fill="#fff"/>
<rect x="530.6" y="540" width="3.70" height="11.00" fill="#fff"/>
<rect x="280.80" y="278.00" width="1.2" height="3.4" fill="#fff"/>
<rect x="280.80" y="282.90" width="1.2" height="3.4" fill="#fff"/>
<rect x="280.80" y="287.80" width="1.2" height="3.4" fill="#fff"/>
<rect x="280.80" y="292.70" width="1.2" height="3.4" fill="#fff"/>
<rect x="280.80" y="297.60" width="1.2" height="3.4" fill="#fff"/>
<rect x="280.80" y="302.50" width="1.2" height="3.4" fill="#fff"/>
<rect x="280.80" y="307.40" width="1.2" height="3.4" fill="#fff"/>
<rect x="280.80" y="312.30" width="1.2" height="3.4" fill="#fff"/>
<rect x="280.80" y="317.20" width="1.2" height="3.4" fill="#fff"/>
<rect x="280.80" y="322.10" width="1.2" height="3.4" fill="#fff"/>
<rect x="280.80" y="327.00" width="1.2" height="3.4" fill="#fff"/>
<rect x="280.80" y="331.90" width="1.2" height="3.4" fill="#fff"/>
<rect x="280.80" y="336.80" width="1.2" height="3.4" fill="#fff"/>
<rect x="280.80" y="341.70" width="1.2" height="3.4" fill="#fff"/>
<rect x="280.80" y="346.60" width="1.2" height="3.4" fill="#fff"/>
<rect x="280.80" y="351.50" width="1.2" height="3.4" fill="#fff"/>
<rect x="280.80" y="356.40" width="1.2" height="3.4" fill="#fff"/>
<rect x="280.80" y="361.30" width="1.2" height="3.4" fill="#fff"/>
<rect x="280.80" y="366.20" width="1.2" height="3.4" fill="#fff"/>
<rect x="280.80" y="371.10" width="1.2" height="3.4" fill="#fff"/>
<rect x="280.80" y="376.00" width="1.2" height="3.4" fill="#fff"/>
<rect x="225.55" y="407.00" width="0.9" height="3.4" fill="#fff"/>
<rect x="225.55" y="411.90" width="0.9" height="3.4" fill="#fff"/>
<rect x="225.55" y="416.80" width="0.9" height="3.4" fill="#fff"/>
<rect x="225.55" y="421.70" width="0.9" height="3.4" fill="#fff"/>
<rect x="225.55" y="426.60" width="0.9" height="3.4" fill="#fff"/>
<rect x="225.55" y="431.50" width="0.9" height="3.4" fill="#fff"/>
<rect x="225.55" y="436.40" width="0.9" height="3.4" fill="#fff"/>
<rect x="225.55" y="441.30" width="0.9" height="3.4" fill="#fff"/>
<rect x="225.55" y="446.20" width="0.9" height="3.4" fill="#fff"/>
<rect x="225.55" y="451.10" width="0.9" height="3.4" fill="#fff"/>
<rect x="225.55" y="456.00" width="0.9" height="3.4" fill="#fff"/>
<rect x="225.55" y="460.90" width="0.9" height="3.4" fill="#fff"/>
<rect x="225.55" y="465.80" width="0.9" height="3.4" fill="#fff"/>
<rect x="330.00" y="323.70" width="2.6" height="2.2" rx="0.6" fill="#004dff"/>
<rect x="368.10" y="365.10" width="2.6" height="2.2" rx="0.6" fill="#0028ff"/>
<rect x="370.20" y="372.50" width="2.6" height="2.2" rx="0.6" fill="#0044ff"/>
<rect x="312.70" y="468.90" width="2.6" height="2.2" rx="0.6" fill="#0044ff"/>
<rect x="396.70" y="474.90" width="2.6" height="2.2" rx="0.6" fill="#0028ff"/>
<rect x="335.70" y="421.90" width="2.6" height="2.2" rx="0.6" fill="#0097ff"/>
<rect x="384.70" y="426.90" width="2.6" height="2.2" rx="0.6" fill="#0085ff"/>
<rect x="388.70" y="450.90" width="2.6" height="2.2" rx="0.6" fill="#0072ff"/>
<rect x="221.85" y="369.40" width="3.7" height="3.6" rx="0.9" fill="#ffa300"/>
<rect x="223.15" y="345.20" width="3.7" height="3.6" rx="0.9" fill="#ff4400"/>
<rect x="225.65" y="344.70" width="3.7" height="3.6" rx="0.9" fill="#ff4400"/>
<rect x="224.35" y="348.70" width="3.7" height="3.6" rx="0.9" fill="#ff4d00"/>
<rect x="222.15" y="348.20" width="3.7" height="3.6" rx="0.9" fill="#ff4400"/>
<rect x="226.45" y="349.70" width="3.7" height="3.6" rx="0.9" fill="#ff5e00"/>
<rect x="206.65" y="418.80" width="3.7" height="3.6" rx="0.9" fill="#ff6f00"/>
<rect x="207.55" y="424.20" width="3.7" height="3.6" rx="0.9" fill="#ffa300"/>
<rect x="207.55" y="426.80" width="3.7" height="3.6" rx="0.9" fill="#ffa300"/>
<rect x="234.15" y="298.90" width="3.7" height="3.6" rx="0.9" fill="#ffa300"/>
<rect x="239.35" y="304.80" width="3.7" height="3.6" rx="0.9" fill="#ff4d00"/>
<rect x="234.65" y="308.70" width="3.7" height="3.6" rx="0.9" fill="#ffa300"/>
<rect x="237.15" y="308.70" width="3.7" height="3.6" rx="0.9" fill="#ffa300"/>
<rect x="239.35" y="313.20" width="3.7" height="3.6" rx="0.9" fill="#ff6700"/>
<rect x="234.15" y="314.60" width="3.7" height="3.6" rx="0.9" fill="#ffa300"/>
<rect x="234.15" y="317.80" width="3.7" height="3.6" rx="0.9" fill="#ffa300"/>
<rect x="241.15" y="318.50" width="3.7" height="3.6" rx="0.9" fill="#ff5500"/>
<rect x="214.35" y="382.20" width="3.7" height="3.6" rx="0.9" fill="#ffa300"/>
<rect x="211.65" y="396.20" width="3.7" height="3.6" rx="0.9" fill="#ffa300"/>
<rect x="282.15" y="212.50" width="3.7" height="3.6" rx="0.9" fill="#ff5500"/>
<rect x="282.15" y="220.70" width="3.7" height="3.6" rx="0.9" fill="#ffa300"/>
<rect x="282.15" y="226.20" width="3.7" height="3.6" rx="0.9" fill="#ffa300"/>
<rect x="282.15" y="229.20" width="3.7" height="3.6" rx="0.9" fill="#ffa300"/>
<rect x="282.15" y="233.20" width="3.7" height="3.6" rx="0.9" fill="#ffa300"/>
<rect x="282.15" y="237.20" width="3.7" height="3.6" rx="0.9" fill="#ffa300"/>
<rect x="282.15" y="241.20" width="3.7" height="3.6" rx="0.9" fill="#ffa300"/>
<rect x="224.15" y="185.00" width="3.7" height="3.6" rx="0.9" fill="#ff5500"/>
<rect x="256.95" y="154.00" width="3.7" height="3.6" rx="0.9" fill="#ff4400"/>
<rect x="256.95" y="171.60" width="3.7" height="3.6" rx="0.9" fill="#ff6700"/>
<rect x="256.95" y="176.50" width="3.7" height="3.6" rx="0.9" fill="#ffa300"/>
<rect x="256.95" y="181.90" width="3.7" height="3.6" rx="0.9" fill="#ff4400"/>
<rect x="256.95" y="188.20" width="3.7" height="3.6" rx="0.9" fill="#ff4400"/>
<rect x="258.75" y="201.70" width="3.7" height="3.6" rx="0.9" fill="#930000"/>
<rect x="259.65" y="208.80" width="3.7" height="3.6" rx="0.9" fill="#930000"/>
<rect x="256.95" y="214.80" width="3.7" height="3.6" rx="0.9" fill="#880000"/>
<rect x="415.85" y="190.90" width="3.7" height="3.6" rx="0.9" fill="#ff6f00"/>
<rect x="428.45" y="206.70" width="3.7" height="3.6" rx="0.9" fill="#ff8000"/>
<rect x="423.35" y="216.90" width="3.7" height="3.6" rx="0.9" fill="#ffab00"/>
<rect x="433.15" y="240.20" width="3.7" height="3.6" rx="0.9" fill="#ff7800"/>
<rect x="433.15" y="246.60" width="3.7" height="3.6" rx="0.9" fill="#ff9a00"/>
<rect x="466.15" y="388.80" width="3.7" height="3.6" rx="0.9" fill="#ffa300"/>
<rect x="466.15" y="391.80" width="3.7" height="3.6" rx="0.9" fill="#880000"/>
<rect x="466.15" y="404.70" width="3.7" height="3.6" rx="0.9" fill="#ff4400"/>
<rect x="495.95" y="441.80" width="3.7" height="3.6" rx="0.9" fill="#ff6700"/>
<rect x="498.85" y="440.20" width="3.7" height="3.6" rx="0.9" fill="#ff9a00"/>
<rect x="498.85" y="445.20" width="3.7" height="3.6" rx="0.9" fill="#ff9a00"/>
<rect x="495.95" y="448.00" width="3.7" height="3.6" rx="0.9" fill="#880000"/>
<rect x="513.75" y="453.90" width="3.7" height="3.6" rx="0.9" fill="#ffa300"/>
<rect x="518.75" y="457.80" width="3.7" height="3.6" rx="0.9" fill="#ffa300"/>
<rect x="524.05" y="459.90" width="3.7" height="3.6" rx="0.9" fill="#ffa300"/>
<rect x="541.65" y="506.50" width="3.7" height="3.6" rx="0.9" fill="#ff9a00"/>
<rect x="549.15" y="508.60" width="3.7" height="3.6" rx="0.9" fill="#ffa300"/>
<rect x="242.15" y="279.70" width="3.7" height="3.6" rx="0.9" fill="#ffa300"/>
<rect x="242.15" y="283.70" width="3.7" height="3.6" rx="0.9" fill="#ffa300"/>
<rect x="242.15" y="259.20" width="3.7" height="3.6" rx="0.9" fill="#ffa300"/>
<rect x="242.15" y="263.20" width="3.7" height="3.6" rx="0.9" fill="#ffa300"/>
<rect x="245.65" y="257.20" width="3.7" height="3.6" rx="0.9" fill="#ffa300"/>
<rect x="251.65" y="187.20" width="3.7" height="3.6" rx="0.9" fill="#ffa300"/>
<rect x="253.15" y="192.20" width="3.7" height="3.6" rx="0.9" fill="#ffa300"/>
<rect x="252.15" y="197.20" width="3.7" height="3.6" rx="0.9" fill="#ffa300"/>
</g>
<defs><linearGradient id="jet" x1="0" y1="1" x2="0" y2="0"><stop offset="0.0000" stop-color="rgb(0,0,128)"/><stop offset="0.0156" stop-color="rgb(0,0,146)"/><stop offset="0.0312" stop-color="rgb(0,0,164)"/><stop offset="0.0469" stop-color="rgb(0,0,182)"/><stop offset="0.0625" stop-color="rgb(0,0,200)"/><stop offset="0.0781" stop-color="rgb(0,0,218)"/><stop offset="0.0938" stop-color="rgb(0,0,236)"/><stop offset="0.1094" stop-color="rgb(0,0,254)"/><stop offset="0.1250" stop-color="rgb(0,0,255)"/><stop offset="0.1406" stop-color="rgb(0,16,255)"/><stop offset="0.1562" stop-color="rgb(0,32,255)"/><stop offset="0.1719" stop-color="rgb(0,48,255)"/><stop offset="0.1875" stop-color="rgb(0,64,255)"/><stop offset="0.2031" stop-color="rgb(0,80,255)"/><stop offset="0.2188" stop-color="rgb(0,96,255)"/><stop offset="0.2344" stop-color="rgb(0,112,255)"/><stop offset="0.2500" stop-color="rgb(0,128,255)"/><stop offset="0.2656" stop-color="rgb(0,143,255)"/><stop offset="0.2812" stop-color="rgb(0,159,255)"/><stop offset="0.2969" stop-color="rgb(0,175,255)"/><stop offset="0.3125" stop-color="rgb(0,191,255)"/><stop offset="0.3281" stop-color="rgb(0,207,255)"/><stop offset="0.3438" stop-color="rgb(0,223,252)"/><stop offset="0.3594" stop-color="rgb(8,239,239)"/><stop offset="0.3750" stop-color="rgb(21,255,226)"/><stop offset="0.3906" stop-color="rgb(33,255,213)"/><stop offset="0.4062" stop-color="rgb(46,255,201)"/><stop offset="0.4219" stop-color="rgb(59,255,188)"/><stop offset="0.4375" stop-color="rgb(72,255,175)"/><stop offset="0.4531" stop-color="rgb(85,255,162)"/><stop offset="0.4688" stop-color="rgb(98,255,149)"/><stop offset="0.4844" stop-color="rgb(111,255,136)"/><stop offset="0.5000" stop-color="rgb(123,255,123)"/><stop offset="0.5156" stop-color="rgb(136,255,111)"/><stop offset="0.5312" stop-color="rgb(149,255,98)"/><stop offset="0.5469" stop-color="rgb(162,255,85)"/><stop offset="0.5625" stop-color="rgb(175,255,72)"/><stop offset="0.5781" stop-color="rgb(188,255,59)"/><stop offset="0.5938" stop-color="rgb(201,255,46)"/><stop offset="0.6094" stop-color="rgb(213,255,33)"/><stop offset="0.6250" stop-color="rgb(226,255,21)"/><stop offset="0.6406" stop-color="rgb(239,254,8)"/><stop offset="0.6562" stop-color="rgb(252,240,0)"/><stop offset="0.6719" stop-color="rgb(255,225,0)"/><stop offset="0.6875" stop-color="rgb(255,210,0)"/><stop offset="0.7031" stop-color="rgb(255,195,0)"/><stop offset="0.7188" stop-color="rgb(255,181,0)"/><stop offset="0.7344" stop-color="rgb(255,166,0)"/><stop offset="0.7500" stop-color="rgb(255,151,0)"/><stop offset="0.7656" stop-color="rgb(255,136,0)"/><stop offset="0.7812" stop-color="rgb(255,122,0)"/><stop offset="0.7969" stop-color="rgb(255,107,0)"/><stop offset="0.8125" stop-color="rgb(255,92,0)"/><stop offset="0.8281" stop-color="rgb(255,77,0)"/><stop offset="0.8438" stop-color="rgb(255,63,0)"/><stop offset="0.8594" stop-color="rgb(255,48,0)"/><stop offset="0.8750" stop-color="rgb(255,33,0)"/><stop offset="0.8906" stop-color="rgb(254,18,0)"/><stop offset="0.9062" stop-color="rgb(236,4,0)"/><stop offset="0.9219" stop-color="rgb(218,0,0)"/><stop offset="0.9375" stop-color="rgb(200,0,0)"/><stop offset="0.9531" stop-color="rgb(182,0,0)"/><stop offset="0.9688" stop-color="rgb(164,0,0)"/><stop offset="0.9844" stop-color="rgb(146,0,0)"/><stop offset="1.0000" stop-color="rgb(128,0,0)"/></linearGradient></defs>
<rect x="637.5" y="61.5" width="24.0" height="490.0" fill="url(#jet)" stroke="#000" stroke-width="1"/>
<rect x="102.5" y="61.5" width="503.0" height="490.0" fill="none" stroke="#000" stroke-width="1"/>
<g stroke="#000" stroke-width="1"><line x1="152.5" y1="551.5" x2="152.5" y2="545.9"/><line x1="152.5" y1="61.5" x2="152.5" y2="67.1"/><line x1="253.5" y1="551.5" x2="253.5" y2="545.9"/><line x1="253.5" y1="61.5" x2="253.5" y2="67.1"/><line x1="353.5" y1="551.5" x2="353.5" y2="545.9"/><line x1="353.5" y1="61.5" x2="353.5" y2="67.1"/><line x1="454.5" y1="551.5" x2="454.5" y2="545.9"/><line x1="454.5" y1="61.5" x2="454.5" y2="67.1"/><line x1="555.5" y1="551.5" x2="555.5" y2="545.9"/><line x1="555.5" y1="61.5" x2="555.5" y2="67.1"/><line x1="102.5" y1="551.5" x2="108.1" y2="551.5"/><line x1="605.5" y1="551.5" x2="599.9" y2="551.5"/><line x1="102.5" y1="428.5" x2="108.1" y2="428.5"/><line x1="605.5" y1="428.5" x2="599.9" y2="428.5"/><line x1="102.5" y1="306.5" x2="108.1" y2="306.5"/><line x1="605.5" y1="306.5" x2="599.9" y2="306.5"/><line x1="102.5" y1="184.5" x2="108.1" y2="184.5"/><line x1="605.5" y1="184.5" x2="599.9" y2="184.5"/><line x1="102.5" y1="61.5" x2="108.1" y2="61.5"/><line x1="605.5" y1="61.5" x2="599.9" y2="61.5"/><line x1="661.5" y1="82.5" x2="655.9" y2="82.5"/><line x1="661.5" y1="149.5" x2="655.9" y2="149.5"/><line x1="661.5" y1="216.5" x2="655.9" y2="216.5"/><line x1="661.5" y1="283.5" x2="655.9" y2="283.5"/><line x1="661.5" y1="350.5" x2="655.9" y2="350.5"/><line x1="661.5" y1="417.5" x2="655.9" y2="417.5"/><line x1="661.5" y1="484.5" x2="655.9" y2="484.5"/><line x1="661.5" y1="551.5" x2="655.9" y2="551.5"/></g>
<g font-family="Liberation Sans, sans-serif" font-size="16.5" fill="#000" text-rendering="geometricPrecision"><text x="128.8" y="568.4" textLength="47.0" lengthAdjust="spacingAndGlyphs" text-anchor="start">−0.04</text><text x="229.5" y="568.4" textLength="47.0" lengthAdjust="spacingAndGlyphs" text-anchor="start">−0.02</text><text x="336.3" y="568.4" textLength="34.4" lengthAdjust="spacingAndGlyphs" text-anchor="start">0.00</text><text x="437.0" y="568.4" textLength="34.4" lengthAdjust="spacingAndGlyphs" text-anchor="start">0.02</text><text x="537.7" y="568.4" textLength="34.4" lengthAdjust="spacingAndGlyphs" text-anchor="start">0.04</text><text x="50.8" y="556.7" textLength="44.3" lengthAdjust="spacingAndGlyphs" text-anchor="start">0.000</text><text x="50.8" y="434.3" textLength="44.3" lengthAdjust="spacingAndGlyphs" text-anchor="start">0.005</text><text x="50.8" y="311.9" textLength="44.3" lengthAdjust="spacingAndGlyphs" text-anchor="start">0.010</text><text x="50.8" y="189.5" textLength="44.3" lengthAdjust="spacingAndGlyphs" text-anchor="start">0.015</text><text x="50.8" y="67.1" textLength="44.3" lengthAdjust="spacingAndGlyphs" text-anchor="start">0.020</text><text x="666.2" y="88.4" textLength="36.6" lengthAdjust="spacingAndGlyphs" text-anchor="start">−1.5</text><text x="666.2" y="155.3" textLength="36.6" lengthAdjust="spacingAndGlyphs" text-anchor="start">−3.0</text><text x="666.2" y="222.2" textLength="36.6" lengthAdjust="spacingAndGlyphs" text-anchor="start">−4.5</text><text x="666.2" y="289.1" textLength="36.6" lengthAdjust="spacingAndGlyphs" text-anchor="start">−6.0</text><text x="666.2" y="356.0" textLength="36.6" lengthAdjust="spacingAndGlyphs" text-anchor="start">−7.5</text><text x="666.2" y="422.9" textLength="36.6" lengthAdjust="spacingAndGlyphs" text-anchor="start">−9.0</text><text x="666.2" y="489.8" textLength="47.2" lengthAdjust="spacingAndGlyphs" text-anchor="start">−10.5</text><text x="666.2" y="556.7" textLength="47.2" lengthAdjust="spacingAndGlyphs" text-anchor="start">−12.0</text><text x="333.5" y="586.2" textLength="39.1" lengthAdjust="spacingAndGlyphs" text-anchor="start">delta</text><text transform="translate(41.2,327.3) rotate(-90)" textLength="41.9" lengthAdjust="spacingAndGlyphs">x (m)</text></g><g font-size="20" fill="#000" text-rendering="geometricPrecision"><text x="272.2" y="47.8" font-family="Liberation Serif, serif" textLength="14.8" lengthAdjust="spacingAndGlyphs">Δ</text><text x="288" y="47.8" font-family="Liberation Serif, serif" font-style="italic" textLength="15" lengthAdjust="spacingAndGlyphs">Q</text><text x="310.3" y="47.8" font-family="Liberation Sans, sans-serif" textLength="124.4" lengthAdjust="spacingAndGlyphs">vs. (delta, x)</text></g>
</svg>
</body></html>
